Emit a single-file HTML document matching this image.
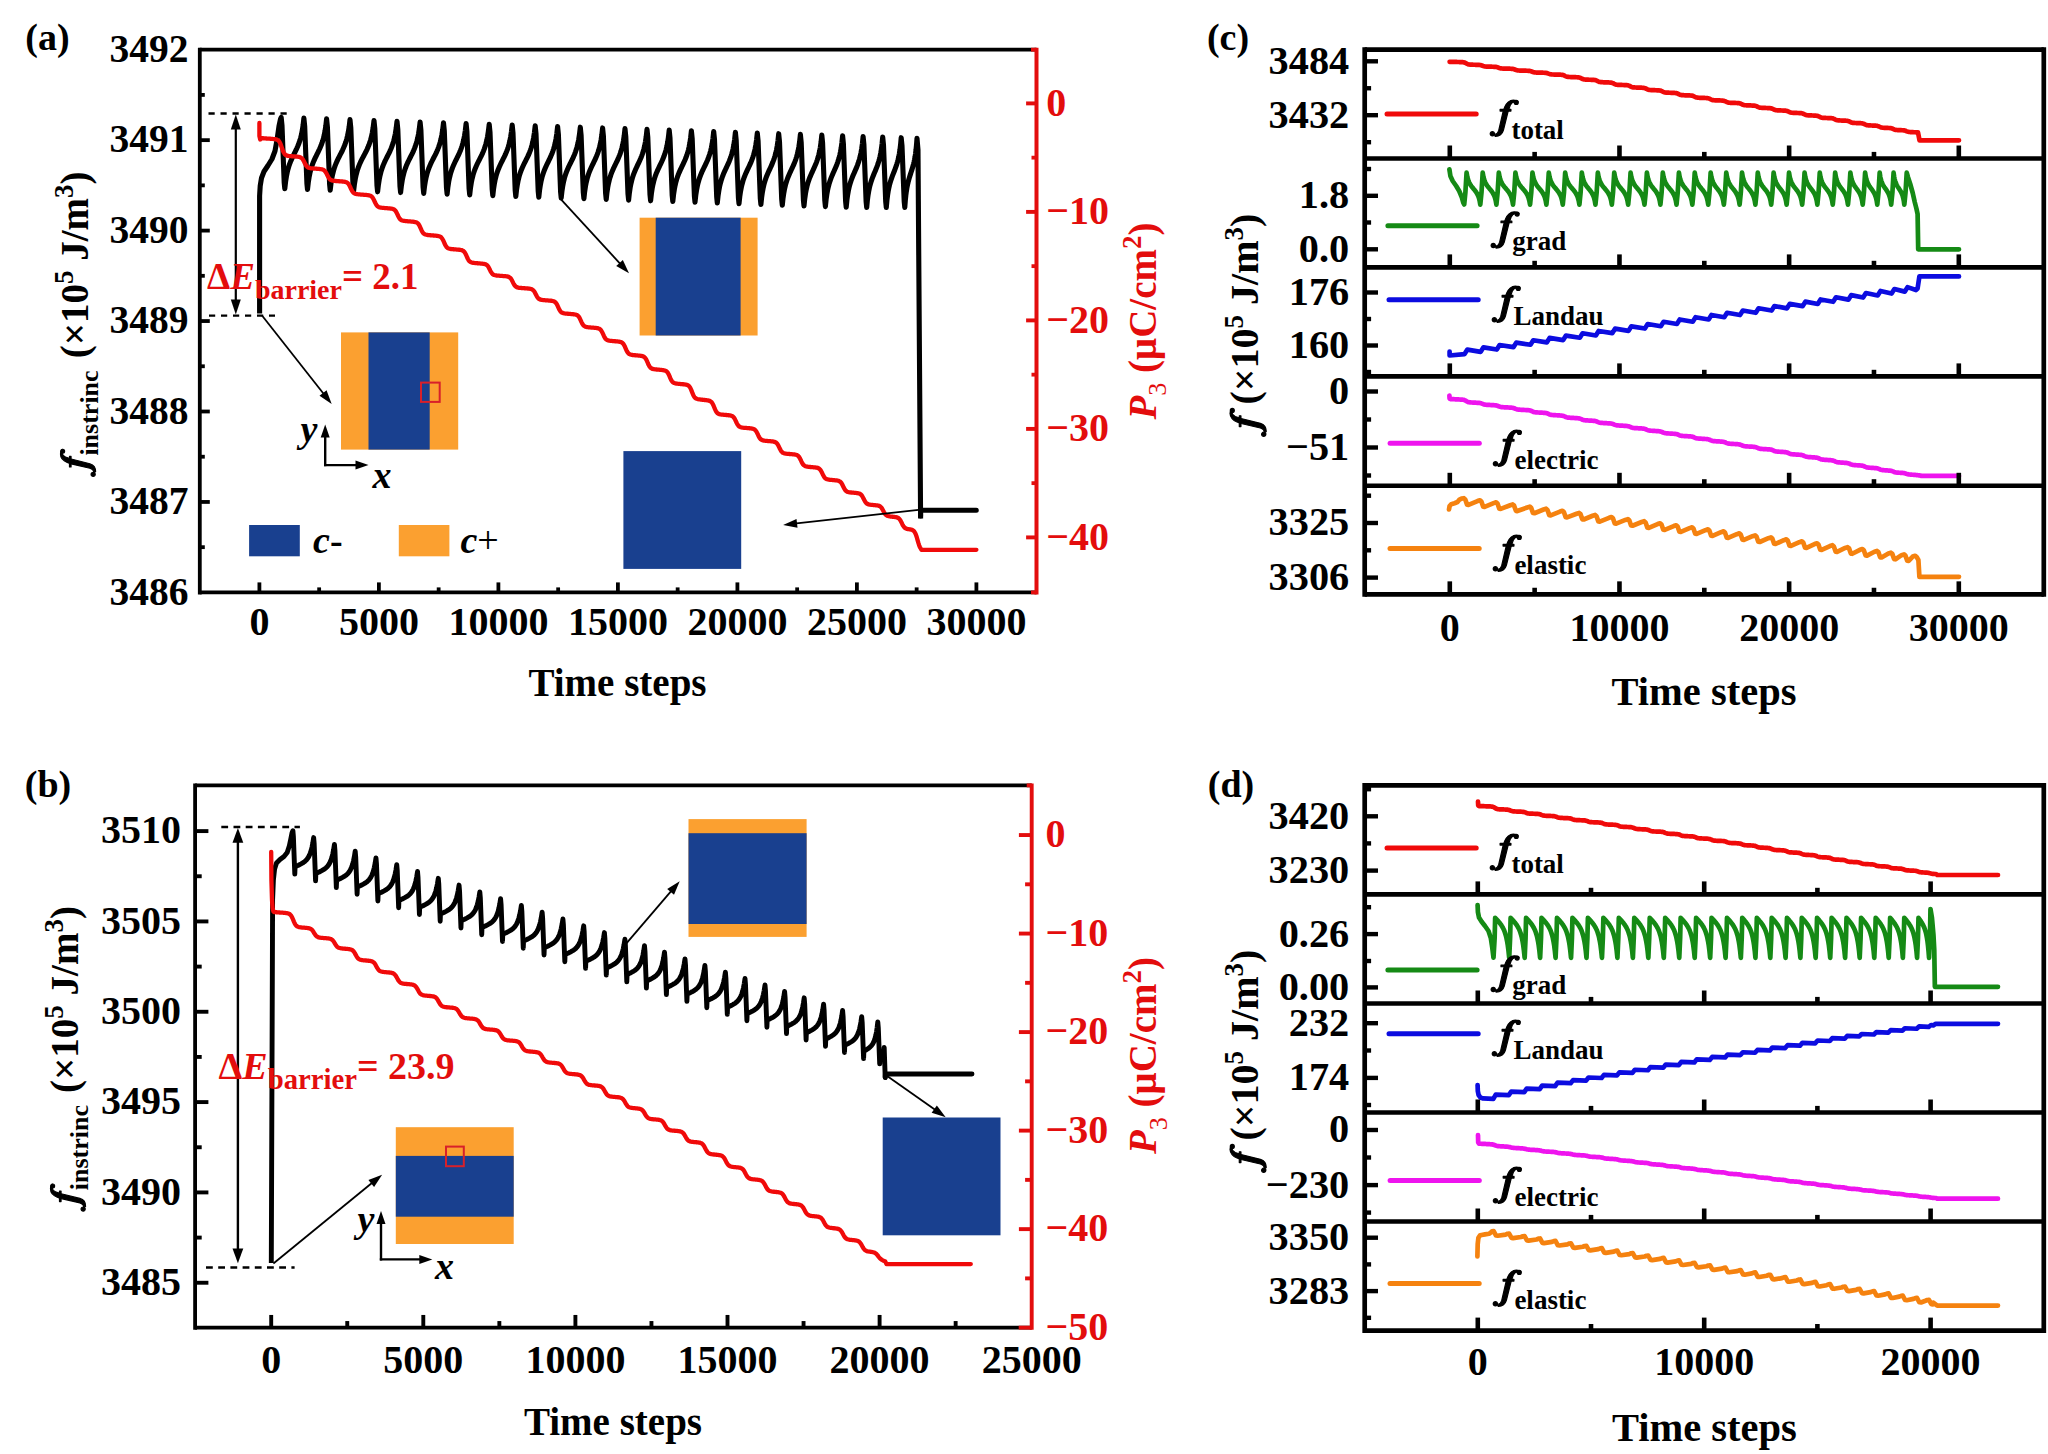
<!DOCTYPE html>
<html><head><meta charset="utf-8"><title>Figure</title>
<style>
html,body{margin:0;padding:0;background:#fff;}
body{width:2048px;height:1454px;overflow:hidden;font-family:"Liberation Serif",serif;}
svg{display:block;}
text{font-family:"Liberation Serif",serif;font-weight:bold;}
.i{font-style:italic;}
.fi{font-style:italic;font-weight:normal;stroke:#000;stroke-width:1.5px;stroke-linejoin:round;}
</style></head><body>
<svg width="2048" height="1454" viewBox="0 0 2048 1454">
<rect x="0" y="0" width="2048" height="1454" fill="#fff"/>
<defs><g id="gf" stroke-width="1.2" stroke-linejoin="round"><path d="M13.07 1.94 C12.04 5.38,9.63 7.96,4.81 7.85 L4.13 5.89 C6.19 5.89,7.57 4.69,8.43 1.94 L12.90 -17.32 L14.44 -21.44 C15.82 -25.23,19.26 -28.39,23.04 -28.39 C25.45 -28.39,26.82 -27.81,27.79 -26.60 L24.42 -26.53 C22.52 -26.67,20.98 -25.23,19.94 -23.16 L17.88 -17.32 Z"/><circle cx="2.06" cy="5.31" r="2.15"/><circle cx="25.96" cy="-26.09" r="2.0"/><rect x="9.80" y="-19.11" width="10.83" height="1.65"/></g></defs>
<path d="M259.6 313.5 L259.6 196 L260.2 186 L261.5 178 L264 171.5 L268 165.5 L272 159 L275 151 L277 140 L279 126 L280.5 119 L281.2 117.4 L282 125.4 L284.2 182.76 L284.8 188.76 L285.6 181.7 L286.39 176.53 L287.19 172.52 L287.98 169.27 L288.78 166.53 L289.57 164.17 L290.37 162.06 L291.17 160.15 L291.96 158.37 L292.76 156.68 L293.55 155.05 L294.35 153.45 L295.15 151.85 L295.94 150.22 L296.74 148.54 L297.53 146.76 L298.33 144.84 L299.12 142.74 L299.92 140.37 L300.72 137.64 L301.51 134.38 L302.31 130.37 L303.1 125.2 L303.9 118.14 L304.7 126.14 L306.9 183.51 L307.5 189.51 L308.3 182.45 L309.09 177.28 L309.89 173.27 L310.68 170.01 L311.48 167.28 L312.27 164.91 L313.07 162.81 L313.87 160.89 L314.66 159.11 L315.46 157.42 L316.25 155.8 L317.05 154.2 L317.85 152.6 L318.64 150.97 L319.44 149.28 L320.23 147.5 L321.03 145.59 L321.83 143.48 L322.62 141.11 L323.42 138.38 L324.21 135.13 L325.01 131.12 L325.8 125.95 L326.6 118.89 L327.4 126.89 L329.6 184.26 L330.2 190.26 L331.03 183.2 L331.85 178.03 L332.68 174.02 L333.5 170.77 L334.33 168.03 L335.15 165.67 L335.98 163.56 L336.8 161.65 L337.62 159.87 L338.45 158.18 L339.28 156.55 L340.1 154.95 L340.93 153.35 L341.75 151.73 L342.58 150.04 L343.4 148.26 L344.23 146.35 L345.05 144.24 L345.88 141.87 L346.7 139.14 L347.52 135.89 L348.35 131.88 L349.18 126.71 L350 119.65 L350.8 127.65 L353 185.03 L353.6 191.03 L354.45 183.97 L355.3 178.8 L356.15 174.79 L357 171.54 L357.85 168.81 L358.7 166.44 L359.55 164.34 L360.4 162.42 L361.25 160.64 L362.1 158.96 L362.95 157.33 L363.8 155.73 L364.65 154.13 L365.5 152.51 L366.35 150.82 L367.2 149.04 L368.05 147.13 L368.9 145.02 L369.75 142.65 L370.6 139.92 L371.45 136.67 L372.3 132.66 L373.15 127.5 L374 120.44 L374.8 128.44 L377 185.82 L377.6 191.82 L378.41 184.76 L379.22 179.59 L380.03 175.57 L380.83 172.32 L381.64 169.59 L382.45 167.22 L383.26 165.12 L384.07 163.2 L384.88 161.42 L385.68 159.73 L386.49 158.1 L387.3 156.5 L388.11 154.9 L388.92 153.28 L389.73 151.59 L390.53 149.81 L391.34 147.89 L392.15 145.79 L392.96 143.42 L393.77 140.69 L394.57 137.43 L395.38 133.42 L396.19 128.25 L397 121.19 L397.8 129.19 L400 186.58 L400.6 192.58 L401.41 185.51 L402.23 180.34 L403.04 176.33 L403.85 173.08 L404.66 170.35 L405.48 167.98 L406.29 165.87 L407.1 163.96 L407.91 162.18 L408.73 160.49 L409.54 158.86 L410.35 157.26 L411.16 155.66 L411.98 154.03 L412.79 152.35 L413.6 150.57 L414.41 148.65 L415.23 146.54 L416.04 144.18 L416.85 141.44 L417.66 138.19 L418.48 134.18 L419.29 129.01 L420.1 121.94 L420.9 129.94 L423.1 187.34 L423.7 193.34 L424.53 186.28 L425.35 181.11 L426.18 177.1 L427 173.84 L427.83 171.11 L428.65 168.74 L429.48 166.64 L430.3 164.72 L431.12 162.94 L431.95 161.25 L432.78 159.63 L433.6 158.02 L434.43 156.42 L435.25 154.8 L436.08 153.11 L436.9 151.33 L437.73 149.41 L438.55 147.31 L439.38 144.94 L440.2 142.21 L441.02 138.95 L441.85 134.94 L442.68 129.77 L443.5 122.71 L444.3 130.71 L446.5 188.11 L447.1 194.11 L447.89 187.05 L448.68 181.87 L449.48 177.86 L450.27 174.61 L451.06 171.87 L451.85 169.5 L452.64 167.4 L453.43 165.48 L454.23 163.7 L455.02 162.01 L455.81 160.38 L456.6 158.78 L457.39 157.18 L458.18 155.55 L458.98 153.86 L459.77 152.08 L460.56 150.16 L461.35 148.06 L462.14 145.69 L462.93 142.95 L463.73 139.7 L464.52 135.69 L465.31 130.52 L466.1 123.45 L466.9 131.45 L469.1 188.86 L469.7 194.86 L470.51 187.79 L471.33 182.62 L472.14 178.61 L472.95 175.35 L473.76 172.62 L474.58 170.25 L475.39 168.15 L476.2 166.23 L477.01 164.45 L477.83 162.76 L478.64 161.13 L479.45 159.53 L480.26 157.93 L481.07 156.3 L481.89 154.61 L482.7 152.83 L483.51 150.92 L484.32 148.81 L485.14 146.44 L485.95 143.71 L486.76 140.45 L487.57 136.44 L488.39 131.27 L489.2 124.2 L490 132.2 L492.2 189.62 L492.8 195.62 L493.61 188.55 L494.42 183.38 L495.23 179.37 L496.03 176.11 L496.84 173.38 L497.65 171.01 L498.46 168.9 L499.27 166.99 L500.08 165.21 L500.88 163.52 L501.69 161.89 L502.5 160.29 L503.31 158.69 L504.12 157.06 L504.93 155.37 L505.73 153.59 L506.54 151.67 L507.35 149.57 L508.16 147.2 L508.97 144.46 L509.78 141.21 L510.58 137.2 L511.39 132.02 L512.2 124.96 L513 132.96 L515.2 190.38 L515.8 196.38 L516.61 189.31 L517.42 184.14 L518.23 180.12 L519.03 176.87 L519.84 174.14 L520.65 171.77 L521.46 169.66 L522.27 167.74 L523.08 165.96 L523.88 164.27 L524.69 162.64 L525.5 161.04 L526.31 159.44 L527.12 157.81 L527.93 156.13 L528.73 154.34 L529.54 152.43 L530.35 150.32 L531.16 147.95 L531.97 145.22 L532.78 141.96 L533.58 137.95 L534.39 132.78 L535.2 125.71 L536 133.71 L538.2 191.14 L538.8 197.14 L539.58 190.07 L540.37 184.89 L541.15 180.88 L541.93 177.62 L542.72 174.89 L543.5 172.52 L544.28 170.41 L545.07 168.49 L545.85 166.71 L546.63 165.02 L547.42 163.39 L548.2 161.79 L548.98 160.19 L549.77 158.56 L550.55 156.87 L551.33 155.09 L552.12 153.17 L552.9 151.06 L553.68 148.69 L554.47 145.96 L555.25 142.7 L556.03 138.69 L556.82 133.51 L557.6 126.44 L558.4 134.44 L560.6 191.88 L561.2 197.88 L562 190.81 L562.79 185.63 L563.59 181.62 L564.38 178.36 L565.18 175.63 L565.98 173.26 L566.77 171.15 L567.57 169.23 L568.36 167.45 L569.16 165.76 L569.95 164.13 L570.75 162.53 L571.55 160.93 L572.34 159.3 L573.14 157.61 L573.93 155.83 L574.73 153.91 L575.52 151.8 L576.32 149.43 L577.12 146.7 L577.91 143.44 L578.71 139.43 L579.5 134.25 L580.3 127.18 L581.1 135.18 L583.3 192.62 L583.9 198.62 L584.68 191.55 L585.46 186.38 L586.24 182.36 L587.02 179.11 L587.8 176.37 L588.58 174 L589.35 171.89 L590.13 169.97 L590.91 168.19 L591.69 166.5 L592.47 164.87 L593.25 163.27 L594.03 161.67 L594.81 160.04 L595.59 158.35 L596.37 156.57 L597.15 154.65 L597.92 152.54 L598.7 150.17 L599.48 147.43 L600.26 144.18 L601.04 140.16 L601.82 134.99 L602.6 127.91 L603.4 135.91 L605.6 193.36 L606.2 199.36 L606.98 192.29 L607.77 187.11 L608.55 183.1 L609.33 179.84 L610.12 177.1 L610.9 174.73 L611.68 172.62 L612.47 170.71 L613.25 168.92 L614.03 167.24 L614.82 165.61 L615.6 164 L616.38 162.4 L617.17 160.77 L617.95 159.08 L618.73 157.3 L619.52 155.38 L620.3 153.27 L621.08 150.9 L621.87 148.17 L622.65 144.91 L623.43 140.9 L624.22 135.72 L625 128.65 L625.8 136.65 L628 194.1 L628.6 200.1 L629.37 193.02 L630.13 187.85 L630.9 183.83 L631.67 180.57 L632.43 177.84 L633.2 175.46 L633.97 173.36 L634.73 171.44 L635.5 169.65 L636.27 167.97 L637.03 166.33 L637.8 164.73 L638.57 163.13 L639.33 161.5 L640.1 159.81 L640.87 158.03 L641.63 156.11 L642.4 154 L643.17 151.63 L643.93 148.89 L644.7 145.63 L645.47 141.62 L646.23 136.44 L647 129.37 L647.8 137.37 L650 194.82 L650.6 200.82 L651.38 193.75 L652.15 188.57 L652.93 184.56 L653.7 181.3 L654.48 178.56 L655.25 176.19 L656.02 174.08 L656.8 172.16 L657.58 170.38 L658.35 168.69 L659.12 167.06 L659.9 165.46 L660.68 163.86 L661.45 162.23 L662.23 160.54 L663 158.75 L663.78 156.83 L664.55 154.73 L665.33 152.35 L666.1 149.62 L666.88 146.36 L667.65 142.34 L668.43 137.17 L669.2 130.09 L670 138.09 L672.2 195.56 L672.8 201.56 L673.58 194.48 L674.35 189.3 L675.12 185.29 L675.9 182.03 L676.68 179.29 L677.45 176.92 L678.23 174.81 L679 172.89 L679.78 171.11 L680.55 169.42 L681.33 167.79 L682.1 166.19 L682.88 164.59 L683.65 162.95 L684.42 161.26 L685.2 159.48 L685.98 157.56 L686.75 155.45 L687.52 153.08 L688.3 150.35 L689.08 147.09 L689.85 143.07 L690.62 137.89 L691.4 130.82 L692.2 138.82 L694.4 196.29 L695 202.29 L695.78 195.21 L696.56 190.03 L697.34 186.02 L698.12 182.76 L698.9 180.02 L699.67 177.65 L700.45 175.54 L701.23 173.62 L702.01 171.84 L702.79 170.15 L703.57 168.52 L704.35 166.92 L705.13 165.32 L705.91 163.69 L706.69 162 L707.47 160.21 L708.25 158.29 L709.03 156.19 L709.8 153.81 L710.58 151.08 L711.36 147.82 L712.14 143.8 L712.92 138.62 L713.7 131.55 L714.5 139.55 L716.7 197.02 L717.3 203.02 L718.05 195.95 L718.81 190.77 L719.56 186.75 L720.32 183.49 L721.07 180.75 L721.83 178.38 L722.58 176.27 L723.33 174.35 L724.09 172.57 L724.84 170.88 L725.6 169.24 L726.35 167.64 L727.1 166.04 L727.86 164.41 L728.61 162.72 L729.37 160.93 L730.12 159.01 L730.88 156.9 L731.63 154.53 L732.38 151.79 L733.14 148.53 L733.89 144.52 L734.65 139.34 L735.4 132.26 L736.2 140.26 L738.4 197.74 L739 203.74 L739.76 196.66 L740.52 191.48 L741.29 187.46 L742.05 184.21 L742.81 181.47 L743.58 179.09 L744.34 176.99 L745.1 175.07 L745.86 173.28 L746.62 171.59 L747.39 169.96 L748.15 168.36 L748.91 166.75 L749.67 165.12 L750.44 163.43 L751.2 161.65 L751.96 159.73 L752.72 157.62 L753.49 155.25 L754.25 152.51 L755.01 149.25 L755.77 145.23 L756.54 140.05 L757.3 132.98 L758.1 140.98 L760.3 198.46 L760.9 204.46 L761.64 197.38 L762.38 192.2 L763.12 188.18 L763.87 184.92 L764.61 182.18 L765.35 179.81 L766.09 177.7 L766.83 175.78 L767.58 173.99 L768.32 172.3 L769.06 170.67 L769.8 169.07 L770.54 167.46 L771.28 165.83 L772.02 164.14 L772.77 162.36 L773.51 160.44 L774.25 158.33 L774.99 155.95 L775.73 153.22 L776.48 149.96 L777.22 145.94 L777.96 140.75 L778.7 133.68 L779.5 141.68 L781.7 199.17 L782.3 205.17 L783.05 198.09 L783.81 192.91 L784.56 188.89 L785.32 185.63 L786.07 182.89 L786.83 180.52 L787.58 178.41 L788.33 176.49 L789.09 174.7 L789.84 173.01 L790.6 171.38 L791.35 169.78 L792.1 168.17 L792.86 166.54 L793.61 164.85 L794.37 163.07 L795.12 161.15 L795.88 159.04 L796.63 156.66 L797.38 153.92 L798.14 150.66 L798.89 146.65 L799.65 141.46 L800.4 134.39 L801.2 142.39 L803.4 199.88 L804 205.88 L804.74 198.8 L805.48 193.62 L806.23 189.6 L806.97 186.34 L807.71 183.6 L808.45 181.23 L809.19 179.12 L809.93 177.2 L810.67 175.41 L811.42 173.72 L812.16 172.09 L812.9 170.48 L813.64 168.88 L814.38 167.25 L815.12 165.56 L815.87 163.77 L816.61 161.85 L817.35 159.74 L818.09 157.37 L818.83 154.63 L819.57 151.37 L820.32 147.35 L821.06 142.17 L821.8 135.09 L822.6 143.09 L824.8 200.59 L825.4 206.59 L826.12 199.51 L826.83 194.32 L827.55 190.3 L828.27 187.04 L828.98 184.3 L829.7 181.92 L830.42 179.81 L831.13 177.89 L831.85 176.11 L832.57 174.41 L833.28 172.78 L834 171.18 L834.72 169.57 L835.43 167.94 L836.15 166.25 L836.87 164.46 L837.58 162.54 L838.3 160.43 L839.02 158.06 L839.73 155.32 L840.45 152.05 L841.17 148.03 L841.88 142.85 L842.6 135.77 L843.4 143.77 L845.6 201.27 L846.2 207.27 L846.9 200.19 L847.61 195 L848.31 190.98 L849.02 187.72 L849.72 184.98 L850.43 182.6 L851.13 180.49 L851.83 178.57 L852.54 176.79 L853.24 175.09 L853.95 173.46 L854.65 171.86 L855.35 170.25 L856.06 168.62 L856.76 166.93 L857.47 165.14 L858.17 163.22 L858.88 161.11 L859.58 158.73 L860.28 155.99 L860.99 152.73 L861.69 148.71 L862.4 143.52 L863.1 136.44 L863.9 144.44 L866.1 201.4 L866.7 207.4 L867.37 200.37 L868.03 195.22 L868.7 191.23 L869.37 187.99 L870.03 185.27 L870.7 182.91 L871.37 180.81 L872.03 178.91 L872.7 177.13 L873.37 175.45 L874.03 173.83 L874.7 172.24 L875.37 170.65 L876.03 169.02 L876.7 167.34 L877.37 165.57 L878.03 163.66 L878.7 161.57 L879.37 159.21 L880.03 156.49 L880.7 153.25 L881.37 149.26 L882.03 144.11 L882.7 137.08 L883.5 145.08 L885.7 201.4 L886.3 207.4 L886.92 200.43 L887.54 195.32 L888.16 191.37 L888.78 188.16 L889.4 185.46 L890.03 183.12 L890.65 181.04 L891.27 179.15 L891.89 177.39 L892.51 175.73 L893.13 174.12 L893.75 172.54 L894.37 170.96 L894.99 169.35 L895.61 167.69 L896.23 165.93 L896.85 164.04 L897.48 161.96 L898.1 159.63 L898.72 156.93 L899.34 153.72 L899.96 149.76 L900.58 144.66 L901.2 137.68 L902 145.68 L904.2 201.4 L904.8 207.4 L905.31 200.48 L905.82 195.41 L906.33 191.48 L906.83 188.3 L907.34 185.62 L907.85 183.3 L908.36 181.24 L908.87 179.36 L909.38 177.62 L909.88 175.96 L910.39 174.37 L910.9 172.8 L911.41 171.23 L911.92 169.64 L912.43 167.98 L912.93 166.24 L913.44 164.36 L913.95 162.3 L914.46 159.98 L914.97 157.3 L915.48 154.12 L915.98 150.19 L916.49 145.12 L917 138.2 L918 150 L920.6 518.5" fill="none" stroke="#000" stroke-width="5.1" stroke-linejoin="round" stroke-linecap="butt"/>
<path d="M920.6 516 L920.6 510.3 L976.3 510.3" fill="none" stroke="#000" stroke-width="5" stroke-linejoin="miter" stroke-linecap="round"/>
<path d="M259.4 123 L259.4 136 L260.2 139.5 L261.5 138.15 L262.3 138.2 L263.1 138.26 L263.9 138.32 L264.7 138.37 L265.5 138.43 L266.3 138.49 L267.1 138.54 L267.9 138.6 L268.7 138.66 L269.5 138.72 L270.3 138.77 L271.1 138.83 L271.9 138.89 L272.7 138.96 L273.5 139.03 L274.3 139.11 L275.1 139.22 L275.9 139.37 L276.7 139.58 L277.5 139.91 L278.3 140.45 L279.1 141.3 L279.9 142.59 L280.7 144.4 L281.5 146.66 L282.3 149.06 L283.1 151.23 L283.9 152.91 L284.7 154.09 L285.5 154.84 L286.3 155.32 L287.1 155.61 L287.9 155.81 L288.7 155.94 L289.5 156.04 L290.3 156.12 L291.1 156.19 L291.9 156.25 L292.7 156.32 L293.5 156.38 L294.3 156.44 L295.1 156.5 L295.9 156.56 L296.7 156.63 L297.5 156.72 L298.3 156.82 L299.1 156.96 L299.9 157.17 L300.7 157.49 L301.5 157.99 L302.3 158.76 L303.1 159.86 L303.9 161.31 L304.7 162.93 L305.5 164.5 L306.3 165.78 L307.1 166.71 L307.9 167.33 L308.7 167.73 L309.5 167.99 L310.3 168.16 L311.1 168.28 L311.9 168.37 L312.7 168.45 L313.5 168.51 L314.3 168.58 L315.1 168.64 L315.9 168.7 L316.7 168.76 L317.5 168.82 L318.3 168.88 L319.1 168.95 L319.9 169.03 L320.7 169.12 L321.5 169.25 L322.3 169.43 L323.1 169.71 L323.9 170.13 L324.7 170.8 L325.5 171.79 L326.3 173.13 L327.1 174.74 L327.9 176.38 L328.7 177.81 L329.5 178.88 L330.3 179.62 L331.1 180.1 L331.9 180.41 L332.7 180.61 L333.5 180.74 L334.3 180.85 L335.1 180.93 L335.9 181 L336.7 181.06 L337.5 181.12 L338.3 181.18 L339.1 181.24 L339.9 181.3 L340.7 181.36 L341.5 181.42 L342.3 181.49 L343.1 181.57 L343.9 181.66 L344.7 181.79 L345.5 181.96 L346.3 182.22 L347.1 182.63 L347.9 183.27 L348.7 184.24 L349.5 185.59 L350.3 187.26 L351.1 189.03 L351.9 190.64 L352.7 191.89 L353.5 192.77 L354.3 193.34 L355.1 193.71 L355.9 193.94 L356.7 194.1 L357.5 194.22 L358.3 194.31 L359.1 194.39 L359.9 194.45 L360.7 194.52 L361.5 194.58 L362.3 194.64 L363.1 194.71 L363.9 194.77 L364.7 194.83 L365.5 194.9 L366.3 194.97 L367.1 195.05 L367.9 195.14 L368.7 195.27 L369.5 195.44 L370.3 195.71 L371.1 196.12 L371.9 196.76 L372.7 197.73 L373.5 199.08 L374.3 200.75 L375.1 202.54 L375.9 204.15 L376.7 205.4 L377.5 206.28 L378.3 206.85 L379.1 207.22 L379.9 207.46 L380.7 207.62 L381.5 207.73 L382.3 207.82 L383.1 207.9 L383.9 207.97 L384.7 208.04 L385.5 208.1 L386.3 208.16 L387.1 208.22 L387.9 208.29 L388.7 208.35 L389.5 208.43 L390.3 208.51 L391.1 208.61 L391.9 208.74 L392.7 208.93 L393.5 209.22 L394.3 209.68 L395.1 210.38 L395.9 211.42 L396.7 212.84 L397.5 214.53 L398.3 216.26 L399.1 217.77 L399.9 218.9 L400.7 219.68 L401.5 220.19 L402.3 220.51 L403.1 220.72 L403.9 220.87 L404.7 220.97 L405.5 221.06 L406.3 221.13 L407.1 221.2 L407.9 221.27 L408.7 221.33 L409.5 221.39 L410.3 221.46 L411.1 221.52 L411.9 221.59 L412.7 221.67 L413.5 221.76 L414.3 221.87 L415.1 222.01 L415.9 222.23 L416.7 222.55 L417.5 223.06 L418.3 223.84 L419.1 225 L419.9 226.56 L420.7 228.38 L421.5 230.2 L422.3 231.76 L423.1 232.91 L423.9 233.7 L424.7 234.21 L425.5 234.53 L426.3 234.74 L427.1 234.89 L427.9 235 L428.7 235.09 L429.5 235.17 L430.3 235.24 L431.1 235.31 L431.9 235.38 L432.7 235.44 L433.5 235.51 L434.3 235.58 L435.1 235.65 L435.9 235.72 L436.7 235.81 L437.5 235.91 L438.3 236.05 L439.1 236.24 L439.9 236.53 L440.7 236.98 L441.5 237.69 L442.3 238.74 L443.1 240.2 L443.9 241.97 L444.7 243.81 L445.5 245.45 L446.3 246.7 L447.1 247.57 L447.9 248.14 L448.7 248.5 L449.5 248.73 L450.3 248.89 L451.1 249.01 L451.9 249.1 L452.7 249.18 L453.5 249.26 L454.3 249.33 L455.1 249.39 L455.9 249.46 L456.7 249.53 L457.5 249.6 L458.3 249.67 L459.1 249.75 L459.9 249.85 L460.7 249.98 L461.5 250.15 L462.3 250.41 L463.1 250.81 L463.9 251.44 L464.7 252.39 L465.5 253.74 L466.3 255.44 L467.1 257.28 L467.9 258.98 L468.7 260.33 L469.5 261.28 L470.3 261.91 L471.1 262.31 L471.9 262.57 L472.7 262.75 L473.5 262.87 L474.3 262.97 L475.1 263.05 L475.9 263.13 L476.7 263.2 L477.5 263.26 L478.3 263.33 L479.1 263.4 L479.9 263.46 L480.7 263.53 L481.5 263.6 L482.3 263.68 L483.1 263.77 L483.9 263.88 L484.7 264.05 L485.5 264.29 L486.3 264.67 L487.1 265.27 L487.9 266.17 L488.7 267.43 L489.5 269 L490.3 270.66 L491.1 272.16 L491.9 273.33 L492.7 274.14 L493.5 274.68 L494.3 275.02 L495.1 275.24 L495.9 275.39 L496.7 275.5 L497.5 275.58 L498.3 275.66 L499.1 275.72 L499.9 275.78 L500.7 275.84 L501.5 275.9 L502.3 275.96 L503.1 276.02 L503.9 276.08 L504.7 276.15 L505.5 276.23 L506.3 276.32 L507.1 276.44 L507.9 276.62 L508.7 276.89 L509.5 277.31 L510.3 277.97 L511.1 278.94 L511.9 280.26 L512.7 281.85 L513.5 283.46 L514.3 284.86 L515.1 285.93 L515.9 286.65 L516.7 287.12 L517.5 287.42 L518.3 287.62 L519.1 287.76 L519.9 287.86 L520.7 287.94 L521.5 288.01 L522.3 288.07 L523.1 288.13 L523.9 288.19 L524.7 288.25 L525.5 288.31 L526.3 288.37 L527.1 288.43 L527.9 288.5 L528.7 288.58 L529.5 288.68 L530.3 288.81 L531.1 289.01 L531.9 289.31 L532.7 289.77 L533.5 290.49 L534.3 291.54 L535.1 292.92 L535.9 294.52 L536.7 296.08 L537.5 297.39 L538.3 298.35 L539.1 299 L539.9 299.41 L540.7 299.68 L541.5 299.85 L542.3 299.98 L543.1 300.07 L543.9 300.15 L544.7 300.22 L545.5 300.28 L546.3 300.34 L547.1 300.4 L547.9 300.46 L548.7 300.52 L549.5 300.58 L550.3 300.66 L551.1 300.75 L551.9 300.86 L552.7 301.01 L553.5 301.23 L554.3 301.56 L555.1 302.08 L555.9 302.88 L556.7 304.04 L557.5 305.58 L558.3 307.35 L559.1 309.09 L559.9 310.54 L560.7 311.61 L561.5 312.32 L562.3 312.79 L563.1 313.09 L563.9 313.28 L564.7 313.42 L565.5 313.53 L566.3 313.61 L567.1 313.69 L567.9 313.76 L568.7 313.83 L569.5 313.9 L570.3 313.96 L571.1 314.03 L571.9 314.1 L572.7 314.18 L573.5 314.26 L574.3 314.36 L575.1 314.5 L575.9 314.69 L576.7 314.97 L577.5 315.42 L578.3 316.11 L579.1 317.14 L579.9 318.57 L580.7 320.3 L581.5 322.11 L582.3 323.71 L583.1 324.93 L583.9 325.79 L584.7 326.34 L585.5 326.7 L586.3 326.93 L587.1 327.08 L587.9 327.2 L588.7 327.29 L589.5 327.37 L590.3 327.45 L591.1 327.52 L591.9 327.58 L592.7 327.65 L593.5 327.72 L594.3 327.79 L595.1 327.87 L595.9 327.95 L596.7 328.06 L597.5 328.2 L598.3 328.4 L599.1 328.7 L599.9 329.16 L600.7 329.89 L601.5 330.96 L602.3 332.42 L603.1 334.17 L603.9 335.95 L604.7 337.5 L605.5 338.67 L606.3 339.48 L607.1 340 L607.9 340.33 L608.7 340.55 L609.5 340.7 L610.3 340.81 L611.1 340.91 L611.9 340.98 L612.7 341.06 L613.5 341.12 L614.3 341.19 L615.1 341.26 L615.9 341.33 L616.7 341.4 L617.5 341.48 L618.3 341.56 L619.1 341.67 L619.9 341.82 L620.7 342.03 L621.5 342.34 L622.3 342.83 L623.1 343.58 L623.9 344.71 L624.7 346.23 L625.5 348.05 L626.3 349.92 L627.1 351.53 L627.9 352.76 L628.7 353.6 L629.5 354.14 L630.3 354.49 L631.1 354.72 L631.9 354.88 L632.7 355 L633.5 355.09 L634.3 355.18 L635.1 355.25 L635.9 355.33 L636.7 355.4 L637.5 355.47 L638.3 355.54 L639.1 355.62 L639.9 355.71 L640.7 355.81 L641.5 355.93 L642.3 356.11 L643.1 356.36 L643.9 356.76 L644.7 357.37 L645.5 358.31 L646.3 359.64 L647.1 361.35 L647.9 363.25 L648.7 365.03 L649.5 366.47 L650.3 367.5 L651.1 368.18 L651.9 368.62 L652.7 368.91 L653.5 369.1 L654.3 369.23 L655.1 369.34 L655.9 369.43 L656.7 369.51 L657.5 369.58 L658.3 369.65 L659.1 369.72 L659.9 369.8 L660.7 369.87 L661.5 369.95 L662.3 370.04 L663.1 370.15 L663.9 370.28 L664.7 370.47 L665.5 370.76 L666.3 371.2 L667.1 371.88 L667.9 372.92 L668.7 374.36 L669.5 376.15 L670.3 378.06 L671.1 379.78 L671.9 381.12 L672.7 382.06 L673.5 382.67 L674.3 383.07 L675.1 383.32 L675.9 383.5 L676.7 383.62 L677.5 383.73 L678.3 383.81 L679.1 383.89 L679.9 383.96 L680.7 384.04 L681.5 384.11 L682.3 384.18 L683.1 384.26 L683.9 384.34 L684.7 384.43 L685.5 384.55 L686.3 384.71 L687.1 384.93 L687.9 385.28 L688.7 385.83 L689.5 386.67 L690.3 387.92 L691.1 389.62 L691.9 391.65 L692.7 393.72 L693.5 395.52 L694.3 396.88 L695.1 397.82 L695.9 398.43 L696.7 398.82 L697.5 399.08 L698.3 399.25 L699.1 399.39 L699.9 399.49 L700.7 399.59 L701.5 399.67 L702.3 399.76 L703.1 399.84 L703.9 399.92 L704.7 400 L705.5 400.09 L706.3 400.18 L707.1 400.28 L707.9 400.41 L708.7 400.58 L709.5 400.81 L710.3 401.17 L711.1 401.72 L711.9 402.57 L712.7 403.82 L713.5 405.5 L714.3 407.46 L715.1 409.42 L715.9 411.1 L716.7 412.35 L717.5 413.19 L718.3 413.73 L719.1 414.07 L719.9 414.29 L720.7 414.45 L721.5 414.56 L722.3 414.65 L723.1 414.73 L723.9 414.8 L724.7 414.87 L725.5 414.94 L726.3 415.01 L727.1 415.08 L727.9 415.15 L728.7 415.24 L729.5 415.34 L730.3 415.48 L731.1 415.67 L731.9 415.96 L732.7 416.41 L733.5 417.11 L734.3 418.15 L735.1 419.56 L735.9 421.25 L736.7 422.97 L737.5 424.47 L738.3 425.6 L739.1 426.38 L739.9 426.88 L740.7 427.21 L741.5 427.42 L742.3 427.57 L743.1 427.68 L743.9 427.77 L744.7 427.84 L745.5 427.92 L746.3 427.98 L747.1 428.05 L747.9 428.12 L748.7 428.19 L749.5 428.26 L750.3 428.34 L751.1 428.44 L751.9 428.56 L752.7 428.72 L753.5 428.97 L754.3 429.35 L755.1 429.94 L755.9 430.84 L756.7 432.11 L757.5 433.7 L758.3 435.43 L759.1 437.03 L759.9 438.3 L760.7 439.19 L761.5 439.78 L762.3 440.16 L763.1 440.41 L763.9 440.58 L764.7 440.7 L765.5 440.79 L766.3 440.88 L767.1 440.95 L767.9 441.02 L768.7 441.09 L769.5 441.15 L770.3 441.22 L771.1 441.3 L771.9 441.38 L772.7 441.48 L773.5 441.61 L774.3 441.79 L775.1 442.07 L775.9 442.49 L776.7 443.15 L777.5 444.13 L778.3 445.48 L779.1 447.13 L779.9 448.84 L780.7 450.36 L781.5 451.53 L782.3 452.34 L783.1 452.87 L783.9 453.2 L784.7 453.43 L785.5 453.58 L786.3 453.69 L787.1 453.78 L787.9 453.86 L788.7 453.93 L789.5 454 L790.3 454.07 L791.1 454.14 L791.9 454.21 L792.7 454.28 L793.5 454.36 L794.3 454.46 L795.1 454.59 L795.9 454.76 L796.7 455.02 L797.5 455.42 L798.3 456.05 L799.1 456.99 L799.9 458.3 L800.7 459.93 L801.5 461.66 L802.3 463.23 L803.1 464.45 L803.9 465.3 L804.7 465.86 L805.5 466.23 L806.3 466.46 L807.1 466.62 L807.9 466.74 L808.7 466.83 L809.5 466.92 L810.3 466.99 L811.1 467.06 L811.9 467.13 L812.7 467.2 L813.5 467.27 L814.3 467.35 L815.1 467.43 L815.9 467.54 L816.7 467.67 L817.5 467.87 L818.3 468.15 L819.1 468.6 L819.9 469.29 L820.7 470.32 L821.5 471.71 L822.3 473.38 L823.1 475.08 L823.9 476.56 L824.7 477.68 L825.5 478.45 L826.3 478.95 L827.1 479.27 L827.9 479.48 L828.7 479.63 L829.5 479.74 L830.3 479.83 L831.1 479.91 L831.9 479.98 L832.7 480.05 L833.5 480.12 L834.3 480.19 L835.1 480.27 L835.9 480.36 L836.7 480.46 L837.5 480.59 L838.3 480.78 L839.1 481.07 L839.9 481.51 L840.7 482.18 L841.5 483.19 L842.3 484.56 L843.1 486.19 L843.9 487.85 L844.7 489.3 L845.5 490.4 L846.3 491.15 L847.1 491.64 L847.9 491.96 L848.7 492.17 L849.5 492.31 L850.3 492.42 L851.1 492.51 L851.9 492.59 L852.7 492.66 L853.5 492.73 L854.3 492.81 L855.1 492.88 L855.9 492.96 L856.7 493.05 L857.5 493.16 L858.3 493.31 L859.1 493.52 L859.9 493.85 L860.7 494.36 L861.5 495.13 L862.3 496.24 L863.1 497.68 L863.9 499.31 L864.7 500.88 L865.5 502.16 L866.3 503.1 L867.1 503.73 L867.9 504.13 L868.7 504.39 L869.5 504.57 L870.3 504.7 L871.1 504.8 L871.9 504.88 L872.7 504.96 L873.5 505.03 L874.3 505.11 L875.1 505.18 L875.9 505.27 L876.7 505.36 L877.5 505.49 L878.3 505.66 L879.1 505.91 L879.9 506.3 L880.7 506.9 L881.5 507.79 L882.3 509.02 L883.1 510.51 L883.9 512.06 L884.7 513.44 L885.5 514.49 L886.3 515.23 L887.1 515.71 L887.9 516.03 L888.7 516.23 L889.5 516.38 L890.3 516.49 L891.1 516.58 L891.9 516.66 L892.7 516.74 L893.5 516.83 L894.3 516.92 L895.1 517.04 L895.9 517.17 L896.7 517.36 L897.5 517.63 L898.3 518.03 L899.1 518.65 L899.9 519.57 L900.7 520.86 L901.5 522.44 L902.3 524.13 L903.1 525.65 L903.9 526.84 L904.7 527.68 L905.5 528.24 L906.3 528.61 L907.1 528.85 L907.9 529.03 L908.7 529.17 L909.5 529.3 L910.3 529.42 L911.1 529.58 L911.9 529.78 L912.7 530.18 L913.5 530.75 L914.3 531.58 L915.1 532.81 L915.9 534.59 L916.7 536.97 L917.5 539.8 L918.3 542.68 L919.1 545.2 L919.9 547.13 L920.7 548.48 L921.5 549.8 L976.4 549.8" fill="none" stroke="#f00a0a" stroke-width="4.3" stroke-linejoin="round" stroke-linecap="round"/>
<line x1="208.5" y1="113.5" x2="287.7" y2="113.5" stroke="#000" stroke-width="2.4" stroke-linecap="butt" stroke-dasharray="6.2 5.8"/>
<line x1="209" y1="315.6" x2="275" y2="315.6" stroke="#000" stroke-width="2.4" stroke-linecap="butt" stroke-dasharray="6.2 5.8"/>
<line x1="235.8" y1="126.5" x2="235.8" y2="302.5" stroke="#000" stroke-width="2.2" stroke-linecap="butt" />
<polygon points="235.8,314.5 230.8,299.5 240.8,299.5" fill="#000"/>
<polygon points="235.8,114.5 230.8,129.5 240.8,129.5" fill="#000"/>
<text x="207" y="288.8" font-size="37" fill="#e30d0d" text-anchor="start">Δ<tspan class="i">E</tspan><tspan font-size="28" dy="10">barrier</tspan><tspan dy="-10">= 2.1</tspan></text>
<line x1="262" y1="315.5" x2="324.77" y2="395.2" stroke="#000" stroke-width="1.8" stroke-linecap="butt" />
<polygon points="331.7,404 319.5,395.79 326.57,390.22" fill="#000"/>
<line x1="560.3" y1="198.7" x2="621.41" y2="265.06" stroke="#000" stroke-width="1.8" stroke-linecap="butt" />
<polygon points="629,273.3 616.21,266.05 622.83,259.95" fill="#000"/>
<line x1="920.8" y1="509.7" x2="794.23" y2="523.67" stroke="#000" stroke-width="1.8" stroke-linecap="butt" />
<polygon points="783.1,524.9 796.52,518.89 797.51,527.84" fill="#000"/>
<rect x="341" y="332.4" width="117.2" height="117.2" fill="#fba030" />
<rect x="368.5" y="332.4" width="61.2" height="117.2" fill="#19408f" />
<rect x="421" y="382.6" width="18.7" height="19.3" fill="none" stroke="#d8202a" stroke-width="2"/>
<line x1="325.2" y1="466.2" x2="325.2" y2="434.9" stroke="#000" stroke-width="2.4" stroke-linecap="butt" />
<polygon points="325.2,424.5 329.7,437.5 320.7,437.5" fill="#000"/>
<line x1="324" y1="465.1" x2="358.1" y2="465.1" stroke="#000" stroke-width="2.4" stroke-linecap="butt" />
<polygon points="368.5,465.1 355.5,469.6 355.5,460.6" fill="#000"/>
<text x="309" y="442" font-size="38" text-anchor="middle" fill="#000" class="i">y</text>
<text x="382" y="488" font-size="38" text-anchor="middle" fill="#000" class="i">x</text>
<rect x="639.6" y="217.7" width="118" height="117.8" fill="#fba030" />
<rect x="655.7" y="217.7" width="84.9" height="117.8" fill="#19408f" />
<rect x="623.4" y="451.1" width="117.8" height="117.8" fill="#19408f" />
<rect x="249.1" y="525" width="50.7" height="31.3" fill="#19408f" />
<rect x="398.8" y="525" width="50.6" height="31.3" fill="#fba030" />
<text x="313" y="553" font-size="38" text-anchor="start"><tspan class="i">c</tspan>-</text>
<text x="460.4" y="553" font-size="38" text-anchor="start"><tspan class="i">c</tspan><tspan font-weight="normal">+</tspan></text>
<line x1="199.8" y1="47.7" x2="199.8" y2="594.4" stroke="#000" stroke-width="3.8" stroke-linecap="butt" />
<line x1="199.8" y1="49.7" x2="1036.5" y2="49.7" stroke="#000" stroke-width="3.8" stroke-linecap="butt" />
<line x1="199.8" y1="592.4" x2="1036.5" y2="592.4" stroke="#000" stroke-width="3.8" stroke-linecap="butt" />
<line x1="1036.5" y1="47.7" x2="1036.5" y2="594.4" stroke="#e30d0d" stroke-width="4" stroke-linecap="butt" />
<line x1="1036.5" y1="49.7" x2="1031" y2="49.7" stroke="#e30d0d" stroke-width="3.8" stroke-linecap="butt" />
<line x1="1036.5" y1="592.4" x2="1031" y2="592.4" stroke="#e30d0d" stroke-width="3.8" stroke-linecap="butt" />
<text x="188.5" y="62" font-size="39.5" text-anchor="end" fill="#000" >3492</text>
<line x1="199.8" y1="94.92" x2="204.8" y2="94.92" stroke="#000" stroke-width="3.8" stroke-linecap="butt" />
<line x1="199.8" y1="140.15" x2="209.8" y2="140.15" stroke="#000" stroke-width="3.8" stroke-linecap="butt" />
<text x="188.5" y="152.45" font-size="39.5" text-anchor="end" fill="#000" >3491</text>
<line x1="199.8" y1="185.37" x2="204.8" y2="185.37" stroke="#000" stroke-width="3.8" stroke-linecap="butt" />
<line x1="199.8" y1="230.6" x2="209.8" y2="230.6" stroke="#000" stroke-width="3.8" stroke-linecap="butt" />
<text x="188.5" y="242.9" font-size="39.5" text-anchor="end" fill="#000" >3490</text>
<line x1="199.8" y1="275.82" x2="204.8" y2="275.82" stroke="#000" stroke-width="3.8" stroke-linecap="butt" />
<line x1="199.8" y1="321.05" x2="209.8" y2="321.05" stroke="#000" stroke-width="3.8" stroke-linecap="butt" />
<text x="188.5" y="333.35" font-size="39.5" text-anchor="end" fill="#000" >3489</text>
<line x1="199.8" y1="366.27" x2="204.8" y2="366.27" stroke="#000" stroke-width="3.8" stroke-linecap="butt" />
<line x1="199.8" y1="411.5" x2="209.8" y2="411.5" stroke="#000" stroke-width="3.8" stroke-linecap="butt" />
<text x="188.5" y="423.8" font-size="39.5" text-anchor="end" fill="#000" >3488</text>
<line x1="199.8" y1="456.72" x2="204.8" y2="456.72" stroke="#000" stroke-width="3.8" stroke-linecap="butt" />
<line x1="199.8" y1="501.95" x2="209.8" y2="501.95" stroke="#000" stroke-width="3.8" stroke-linecap="butt" />
<text x="188.5" y="514.25" font-size="39.5" text-anchor="end" fill="#000" >3487</text>
<line x1="199.8" y1="547.17" x2="204.8" y2="547.17" stroke="#000" stroke-width="3.8" stroke-linecap="butt" />
<text x="188.5" y="604.7" font-size="39.5" text-anchor="end" fill="#000" >3486</text>
<line x1="259.4" y1="592.4" x2="259.4" y2="582.4" stroke="#000" stroke-width="3.8" stroke-linecap="butt" />
<text x="259.4" y="635" font-size="40" text-anchor="middle" fill="#000" >0</text>
<line x1="319.15" y1="592.4" x2="319.15" y2="587.4" stroke="#000" stroke-width="3.8" stroke-linecap="butt" />
<line x1="378.9" y1="592.4" x2="378.9" y2="582.4" stroke="#000" stroke-width="3.8" stroke-linecap="butt" />
<text x="378.9" y="635" font-size="40" text-anchor="middle" fill="#000" >5000</text>
<line x1="438.65" y1="592.4" x2="438.65" y2="587.4" stroke="#000" stroke-width="3.8" stroke-linecap="butt" />
<line x1="498.4" y1="592.4" x2="498.4" y2="582.4" stroke="#000" stroke-width="3.8" stroke-linecap="butt" />
<text x="498.4" y="635" font-size="40" text-anchor="middle" fill="#000" >10000</text>
<line x1="558.15" y1="592.4" x2="558.15" y2="587.4" stroke="#000" stroke-width="3.8" stroke-linecap="butt" />
<line x1="617.9" y1="592.4" x2="617.9" y2="582.4" stroke="#000" stroke-width="3.8" stroke-linecap="butt" />
<text x="617.9" y="635" font-size="40" text-anchor="middle" fill="#000" >15000</text>
<line x1="677.65" y1="592.4" x2="677.65" y2="587.4" stroke="#000" stroke-width="3.8" stroke-linecap="butt" />
<line x1="737.4" y1="592.4" x2="737.4" y2="582.4" stroke="#000" stroke-width="3.8" stroke-linecap="butt" />
<text x="737.4" y="635" font-size="40" text-anchor="middle" fill="#000" >20000</text>
<line x1="797.15" y1="592.4" x2="797.15" y2="587.4" stroke="#000" stroke-width="3.8" stroke-linecap="butt" />
<line x1="856.9" y1="592.4" x2="856.9" y2="582.4" stroke="#000" stroke-width="3.8" stroke-linecap="butt" />
<text x="856.9" y="635" font-size="40" text-anchor="middle" fill="#000" >25000</text>
<line x1="916.65" y1="592.4" x2="916.65" y2="587.4" stroke="#000" stroke-width="3.8" stroke-linecap="butt" />
<line x1="976.4" y1="592.4" x2="976.4" y2="582.4" stroke="#000" stroke-width="3.8" stroke-linecap="butt" />
<text x="976.4" y="635" font-size="40" text-anchor="middle" fill="#000" >30000</text>
<line x1="1036.5" y1="103.4" x2="1026.1" y2="103.4" stroke="#e30d0d" stroke-width="3.9" stroke-linecap="butt" />
<text x="1046.3" y="115.8" font-size="40" text-anchor="start" fill="#e30d0d" >0</text>
<line x1="1036.5" y1="157.65" x2="1031.5" y2="157.65" stroke="#e30d0d" stroke-width="3.8" stroke-linecap="butt" />
<line x1="1036.5" y1="211.9" x2="1026.1" y2="211.9" stroke="#e30d0d" stroke-width="3.9" stroke-linecap="butt" />
<text x="1046.3" y="224.3" font-size="40" text-anchor="start" fill="#e30d0d" >−10</text>
<line x1="1036.5" y1="266.15" x2="1031.5" y2="266.15" stroke="#e30d0d" stroke-width="3.8" stroke-linecap="butt" />
<line x1="1036.5" y1="320.4" x2="1026.1" y2="320.4" stroke="#e30d0d" stroke-width="3.9" stroke-linecap="butt" />
<text x="1046.3" y="332.8" font-size="40" text-anchor="start" fill="#e30d0d" >−20</text>
<line x1="1036.5" y1="374.65" x2="1031.5" y2="374.65" stroke="#e30d0d" stroke-width="3.8" stroke-linecap="butt" />
<line x1="1036.5" y1="428.9" x2="1026.1" y2="428.9" stroke="#e30d0d" stroke-width="3.9" stroke-linecap="butt" />
<text x="1046.3" y="441.3" font-size="40" text-anchor="start" fill="#e30d0d" >−30</text>
<line x1="1036.5" y1="483.15" x2="1031.5" y2="483.15" stroke="#e30d0d" stroke-width="3.8" stroke-linecap="butt" />
<line x1="1036.5" y1="537.4" x2="1026.1" y2="537.4" stroke="#e30d0d" stroke-width="3.9" stroke-linecap="butt" />
<text x="1046.3" y="549.8" font-size="40" text-anchor="start" fill="#e30d0d" >−40</text>
<text x="617.5" y="696" font-size="39" text-anchor="middle" fill="#000" >Time steps</text>
<text x="47.5" y="50" font-size="38" text-anchor="middle" fill="#000" >(a)</text>
<use href="#gf" transform="translate(88,476.4) rotate(-90) scale(0.97)" fill="#000" stroke="#000"/>
<text transform="translate(97.9,455.6) rotate(-90)" font-size="26" text-anchor="start">instrinc</text>
<text transform="translate(88,358.2) rotate(-90)" font-size="39" text-anchor="start">(×10<tspan font-size="27" dy="-15">5</tspan><tspan dy="15"> J/m</tspan><tspan font-size="27" dy="-15">3</tspan><tspan dy="15">)</tspan></text>
<text transform="translate(1155.5,321) rotate(-90)" font-size="39" text-anchor="middle" fill="#e30d0d"><tspan class="i">P</tspan><tspan font-size="26" font-weight="normal" dy="10.5">3</tspan><tspan dy="-10.5"> (μC/cm</tspan><tspan font-size="27" dy="-15">2</tspan><tspan dy="15">)</tspan></text>
<path d="M271.3 1263 L272.6 900 L273.4 880 L274.6 869 L276.5 863 L280 859.5 L284 856.5 L287.2 852.5 L289.3 846 L290.8 839 L292 833 L292.9 830.8 L293.4 836.8 L294.8 874.06 L295.1 866.06 L295.94 866.39 L296.79 866 L297.63 865.61 L298.48 865.21 L299.32 864.79 L300.16 864.36 L301.01 863.91 L301.85 863.44 L302.7 862.93 L303.54 862.37 L304.38 861.75 L305.23 861.06 L306.07 860.26 L306.92 859.32 L307.76 858.21 L308.61 856.86 L309.45 855.2 L310.29 853.13 L311.14 850.53 L311.98 847.23 L312.83 843.01 L313.67 837.59 L314.17 843.59 L315.57 880.8 L315.87 872.8 L316.71 873.14 L317.56 872.75 L318.4 872.36 L319.25 871.96 L320.09 871.54 L320.93 871.11 L321.78 870.67 L322.62 870.19 L323.47 869.68 L324.31 869.12 L325.15 868.51 L326 867.81 L326.84 867.01 L327.69 866.08 L328.53 864.97 L329.38 863.62 L330.22 861.96 L331.06 859.9 L331.91 857.3 L332.75 854.01 L333.6 849.79 L334.44 844.37 L334.94 850.37 L336.34 887.54 L336.64 879.54 L337.48 879.89 L338.33 879.5 L339.17 879.11 L340.02 878.71 L340.86 878.3 L341.7 877.87 L342.55 877.42 L343.39 876.94 L344.24 876.43 L345.08 875.88 L345.93 875.26 L346.77 874.57 L347.61 873.77 L348.46 872.84 L349.3 871.73 L350.15 870.38 L350.99 868.72 L351.83 866.66 L352.68 864.07 L353.52 860.78 L354.37 856.57 L355.21 851.16 L355.71 857.16 L357.11 894.28 L357.41 886.28 L358.25 886.64 L359.1 886.25 L359.94 885.86 L360.79 885.46 L361.63 885.05 L362.47 884.62 L363.32 884.17 L364.16 883.7 L365.01 883.19 L365.85 882.63 L366.69 882.02 L367.54 881.33 L368.38 880.53 L369.23 879.6 L370.07 878.49 L370.92 877.14 L371.76 875.49 L372.6 873.43 L373.45 870.84 L374.29 867.55 L375.14 863.35 L375.98 857.94 L376.48 863.94 L377.88 901.02 L378.18 893.02 L379.02 893.39 L379.87 893 L380.71 892.61 L381.56 892.21 L382.4 891.8 L383.24 891.37 L384.09 890.92 L384.93 890.45 L385.78 889.94 L386.62 889.39 L387.46 888.77 L388.31 888.08 L389.15 887.29 L390 886.35 L390.84 885.24 L391.69 883.9 L392.53 882.25 L393.37 880.19 L394.22 877.61 L395.06 874.33 L395.91 870.13 L396.75 864.73 L397.25 870.73 L398.65 907.76 L398.95 899.76 L399.79 900.14 L400.64 899.75 L401.48 899.36 L402.33 898.96 L403.17 898.55 L404.01 898.12 L404.86 897.68 L405.7 897.2 L406.55 896.7 L407.39 896.14 L408.24 895.53 L409.08 894.84 L409.92 894.04 L410.77 893.11 L411.61 892 L412.46 890.66 L413.3 889.01 L414.14 886.96 L414.99 884.38 L415.83 881.1 L416.68 876.91 L417.52 871.51 L418.02 877.51 L419.42 914.5 L419.72 906.5 L420.56 906.88 L421.41 906.5 L422.25 906.11 L423.1 905.71 L423.94 905.3 L424.78 904.87 L425.63 904.43 L426.47 903.96 L427.32 903.45 L428.16 902.9 L429 902.28 L429.85 901.59 L430.69 900.8 L431.54 899.87 L432.38 898.76 L433.23 897.42 L434.07 895.78 L434.91 893.73 L435.76 891.15 L436.6 887.87 L437.45 883.69 L438.29 878.3 L438.79 884.3 L440.19 921.24 L440.49 913.24 L441.33 913.63 L442.18 913.25 L443.02 912.86 L443.87 912.46 L444.71 912.05 L445.55 911.63 L446.4 911.18 L447.24 910.71 L448.09 910.2 L448.93 909.65 L449.77 909.04 L450.62 908.35 L451.46 907.56 L452.31 906.63 L453.15 905.52 L454 904.19 L454.84 902.54 L455.68 900.49 L456.53 897.92 L457.37 894.65 L458.22 890.46 L459.06 885.08 L459.56 891.08 L460.96 927.98 L461.26 919.98 L462.1 920.38 L462.95 920 L463.79 919.61 L464.64 919.21 L465.48 918.8 L466.32 918.38 L467.17 917.93 L468.01 917.46 L468.86 916.96 L469.7 916.41 L470.54 915.8 L471.39 915.11 L472.23 914.31 L473.08 913.39 L473.92 912.28 L474.77 910.95 L475.61 909.3 L476.45 907.26 L477.3 904.69 L478.14 901.42 L478.99 897.24 L479.83 891.87 L480.33 897.87 L481.73 934.72 L482.03 926.72 L482.87 927.13 L483.72 926.75 L484.56 926.36 L485.41 925.96 L486.25 925.56 L487.09 925.13 L487.94 924.69 L488.78 924.22 L489.63 923.71 L490.47 923.16 L491.31 922.55 L492.16 921.86 L493 921.07 L493.85 920.15 L494.69 919.04 L495.54 917.71 L496.38 916.07 L497.22 914.03 L498.07 911.46 L498.91 908.19 L499.76 904.02 L500.6 898.66 L501.1 904.66 L502.5 941.46 L502.8 933.46 L503.64 933.88 L504.49 933.5 L505.33 933.11 L506.18 932.72 L507.02 932.31 L507.86 931.88 L508.71 931.44 L509.55 930.97 L510.4 930.46 L511.24 929.91 L512.09 929.31 L512.93 928.62 L513.77 927.83 L514.62 926.9 L515.46 925.8 L516.31 924.47 L517.15 922.83 L517.99 920.79 L518.84 918.23 L519.68 914.97 L520.53 910.8 L521.37 905.44 L521.87 911.44 L523.27 948.2 L523.57 940.2 L524.41 940.63 L525.26 940.25 L526.1 939.86 L526.95 939.47 L527.79 939.06 L528.63 938.63 L529.48 938.19 L530.32 937.72 L531.17 937.22 L532.01 936.67 L532.85 936.06 L533.7 935.37 L534.54 934.59 L535.39 933.66 L536.23 932.56 L537.08 931.23 L537.92 929.59 L538.76 927.56 L539.61 924.99 L540.45 921.74 L541.3 917.58 L542.14 912.23 L542.64 918.23 L544.04 954.94 L544.34 946.94 L545.18 947.38 L546.03 947 L546.87 946.61 L547.72 946.22 L548.56 945.81 L549.4 945.39 L550.25 944.94 L551.09 944.48 L551.94 943.97 L552.78 943.42 L553.62 942.82 L554.47 942.13 L555.31 941.34 L556.16 940.42 L557 939.32 L557.85 937.99 L558.69 936.36 L559.53 934.32 L560.38 931.76 L561.22 928.51 L562.07 924.36 L562.91 919.01 L563.41 925.01 L564.81 961.68 L565.11 953.68 L565.95 954.13 L566.8 953.75 L567.64 953.36 L568.49 952.97 L569.33 952.56 L570.17 952.14 L571.02 951.7 L571.86 951.23 L572.71 950.73 L573.55 950.18 L574.39 949.57 L575.24 948.89 L576.08 948.1 L576.93 947.18 L577.77 946.08 L578.62 944.75 L579.46 943.12 L580.3 941.09 L581.15 938.53 L581.99 935.29 L582.84 931.14 L583.68 925.8 L584.18 931.8 L585.58 968.42 L585.88 960.42 L586.72 960.88 L587.56 960.5 L588.41 960.11 L589.25 959.72 L590.09 959.31 L590.93 958.89 L591.77 958.44 L592.61 957.98 L593.46 957.47 L594.3 956.93 L595.14 956.32 L595.98 955.64 L596.82 954.85 L597.67 953.93 L598.51 952.84 L599.35 951.51 L600.19 949.88 L601.03 947.85 L601.87 945.29 L602.72 942.05 L603.56 937.9 L604.4 932.57 L604.9 938.57 L606.3 975.15 L606.6 967.15 L607.43 967.6 L608.26 967.22 L609.1 966.83 L609.93 966.43 L610.76 966.03 L611.59 965.6 L612.42 965.16 L613.25 964.69 L614.09 964.19 L614.92 963.64 L615.75 963.04 L616.58 962.35 L617.41 961.57 L618.25 960.64 L619.08 959.55 L619.91 958.22 L620.74 956.59 L621.57 954.55 L622.4 952 L623.24 948.75 L624.07 944.6 L624.9 939.26 L625.4 945.26 L626.8 981.8 L627.1 973.8 L627.89 974.2 L628.68 973.81 L629.47 973.42 L630.26 973.02 L631.05 972.61 L631.85 972.19 L632.64 971.74 L633.43 971.27 L634.22 970.77 L635.01 970.22 L635.8 969.6 L636.59 968.92 L637.38 968.12 L638.17 967.2 L638.96 966.09 L639.75 964.75 L640.55 963.11 L641.34 961.06 L642.13 958.49 L642.92 955.22 L643.71 951.04 L644.5 945.67 L645 951.67 L646.4 988.16 L646.7 980.16 L647.51 980.59 L648.32 980.21 L649.13 979.82 L649.94 979.43 L650.75 979.02 L651.55 978.6 L652.36 978.15 L653.17 977.68 L653.98 977.18 L654.79 976.63 L655.6 976.02 L656.41 975.34 L657.22 974.55 L658.03 973.63 L658.84 972.53 L659.65 971.2 L660.45 969.56 L661.26 967.52 L662.07 964.96 L662.88 961.71 L663.69 957.55 L664.5 952.2 L665 958.2 L666.4 994.65 L666.7 986.65 L667.53 987.13 L668.36 986.75 L669.2 986.36 L670.03 985.97 L670.86 985.56 L671.69 985.14 L672.52 984.7 L673.35 984.23 L674.19 983.73 L675.02 983.19 L675.85 982.58 L676.68 981.9 L677.51 981.12 L678.35 980.2 L679.18 979.11 L680.01 977.78 L680.84 976.16 L681.67 974.13 L682.5 971.59 L683.34 968.35 L684.17 964.22 L685 958.9 L685.5 964.9 L686.9 1001.3 L687.2 993.3 L688 993.75 L688.81 993.37 L689.61 992.98 L690.42 992.58 L691.22 992.18 L692.03 991.75 L692.83 991.31 L693.64 990.84 L694.44 990.34 L695.25 989.79 L696.05 989.18 L696.85 988.5 L697.66 987.71 L698.46 986.79 L699.27 985.69 L700.07 984.36 L700.88 982.73 L701.68 980.7 L702.49 978.14 L703.29 974.89 L704.1 970.74 L704.9 965.4 L705.4 971.4 L706.8 1007.76 L707.1 999.76 L707.93 1000.25 L708.76 999.88 L709.6 999.49 L710.43 999.1 L711.26 998.69 L712.09 998.27 L712.92 997.84 L713.75 997.37 L714.59 996.87 L715.42 996.33 L716.25 995.72 L717.08 995.04 L717.91 994.26 L718.75 993.35 L719.58 992.26 L720.41 990.94 L721.24 989.31 L722.07 987.29 L722.9 984.75 L723.74 981.53 L724.57 977.4 L725.4 972.1 L725.9 978.1 L727.3 1014.41 L727.6 1006.41 L728.39 1006.85 L729.18 1006.47 L729.97 1006.09 L730.76 1005.69 L731.55 1005.28 L732.35 1004.86 L733.14 1004.42 L733.93 1003.95 L734.72 1003.45 L735.51 1002.9 L736.3 1002.29 L737.09 1001.61 L737.88 1000.82 L738.67 999.9 L739.46 998.8 L740.25 997.47 L741.05 995.84 L741.84 993.8 L742.63 991.25 L743.42 988 L744.21 983.84 L745 978.5 L745.5 984.5 L746.9 1020.77 L747.2 1012.77 L748.01 1013.25 L748.82 1012.87 L749.63 1012.49 L750.44 1012.09 L751.25 1011.69 L752.05 1011.27 L752.86 1010.83 L753.67 1010.36 L754.48 1009.86 L755.29 1009.31 L756.1 1008.71 L756.91 1008.03 L757.72 1007.24 L758.53 1006.33 L759.34 1005.24 L760.15 1003.91 L760.95 1002.29 L761.76 1000.26 L762.57 997.72 L763.38 994.49 L764.19 990.35 L765 985.04 L765.5 991.04 L766.9 1027.26 L767.2 1019.26 L767.99 1019.72 L768.78 1019.34 L769.57 1018.96 L770.36 1018.56 L771.15 1018.16 L771.95 1017.73 L772.74 1017.29 L773.53 1016.82 L774.32 1016.32 L775.11 1015.78 L775.9 1015.17 L776.69 1014.49 L777.48 1013.7 L778.27 1012.78 L779.06 1011.69 L779.85 1010.36 L780.65 1008.73 L781.44 1006.7 L782.23 1004.15 L783.02 1000.91 L783.81 996.77 L784.6 991.44 L785.1 997.44 L786.5 1033.62 L786.8 1025.62 L787.59 1026.09 L788.38 1025.71 L789.17 1025.33 L789.96 1024.93 L790.75 1024.53 L791.55 1024.11 L792.34 1023.66 L793.13 1023.2 L793.92 1022.7 L794.71 1022.15 L795.5 1021.55 L796.29 1020.86 L797.08 1020.08 L797.87 1019.16 L798.66 1018.07 L799.45 1016.74 L800.25 1015.11 L801.04 1013.09 L801.83 1010.54 L802.62 1007.3 L803.41 1003.17 L804.2 997.84 L804.7 1003.84 L806.1 1039.98 L806.4 1031.98 L807.18 1032.45 L807.96 1032.07 L808.75 1031.68 L809.53 1031.29 L810.31 1030.88 L811.09 1030.46 L811.87 1030.02 L812.65 1029.55 L813.44 1029.05 L814.22 1028.5 L815 1027.9 L815.78 1027.22 L816.56 1026.43 L817.35 1025.51 L818.13 1024.42 L818.91 1023.09 L819.69 1021.46 L820.47 1019.44 L821.25 1016.89 L822.04 1013.65 L822.82 1009.51 L823.6 1004.18 L824.1 1010.18 L825.5 1046.28 L825.8 1038.28 L826.56 1038.72 L827.33 1038.34 L828.09 1037.96 L828.85 1037.56 L829.62 1037.15 L830.38 1036.73 L831.15 1036.29 L831.91 1035.82 L832.67 1035.32 L833.44 1034.77 L834.2 1034.16 L834.96 1033.48 L835.73 1032.69 L836.49 1031.77 L837.25 1030.67 L838.02 1029.35 L838.78 1027.71 L839.55 1025.68 L840.31 1023.12 L841.07 1019.88 L841.84 1015.73 L842.6 1010.39 L843.1 1016.39 L844.5 1052.44 L844.8 1044.44 L845.57 1044.91 L846.34 1044.53 L847.1 1044.14 L847.87 1043.74 L848.64 1043.34 L849.41 1042.92 L850.18 1042.48 L850.95 1042.01 L851.71 1041.51 L852.48 1040.96 L853.25 1040.35 L854.02 1039.67 L854.79 1038.89 L855.55 1037.97 L856.32 1036.87 L857.09 1035.55 L857.86 1033.92 L858.63 1031.89 L859.4 1029.34 L860.16 1026.1 L860.93 1021.96 L861.7 1016.63 L862.2 1022.63 L863.6 1058.64 L863.9 1050.64 L864.53 1050.91 L865.16 1050.52 L865.8 1050.12 L866.43 1049.71 L867.06 1049.3 L867.69 1048.87 L868.32 1048.41 L868.95 1047.93 L869.59 1047.42 L870.22 1046.86 L870.85 1046.24 L871.48 1045.53 L872.11 1044.73 L872.75 1043.79 L873.38 1042.66 L874.01 1041.3 L874.64 1039.63 L875.27 1037.55 L875.9 1034.93 L876.54 1031.61 L877.17 1027.36 L877.8 1021.89 L878.3 1027.89 L879.7 1063.86 L880 1055.86 L880.19 1060.42 L880.38 1060.25 L880.57 1060.07 L880.76 1059.89 L880.95 1059.71 L881.15 1059.51 L881.34 1059.31 L881.53 1059.1 L881.72 1058.87 L881.91 1058.62 L882.1 1058.34 L882.29 1058.03 L882.48 1057.67 L882.67 1057.25 L882.86 1056.75 L883.05 1056.14 L883.25 1055.4 L883.44 1054.47 L883.63 1053.31 L883.82 1051.83 L884.01 1049.93 L884.2 1047.5 L885.2 1077.5 L885.4 1074" fill="none" stroke="#000" stroke-width="4.9" stroke-linejoin="round" stroke-linecap="butt"/>
<path d="M885.2 1077.5 L885.4 1074 L972 1074" fill="none" stroke="#000" stroke-width="4.9" stroke-linejoin="miter" stroke-linecap="round"/>
<path d="M271.2 851.8 L271.4 880 L272 900 L272.6 908 L273.4 911.5 L274 912.11 L274.8 912.16 L275.6 912.22 L276.4 912.27 L277.2 912.33 L278 912.39 L278.8 912.44 L279.6 912.5 L280.4 912.56 L281.2 912.61 L282 912.67 L282.8 912.73 L283.6 912.79 L284.4 912.86 L285.2 912.93 L286 913.02 L286.8 913.13 L287.6 913.29 L288.4 913.51 L289.2 913.86 L290 914.4 L290.8 915.22 L291.6 916.43 L292.4 918.04 L293.2 919.95 L294 921.89 L294.8 923.6 L295.6 924.91 L296.4 925.82 L297.2 926.42 L298 926.81 L298.8 927.06 L299.6 927.23 L300.4 927.35 L301.2 927.44 L302 927.52 L302.8 927.59 L303.6 927.65 L304.4 927.71 L305.2 927.78 L306 927.85 L306.8 927.93 L307.6 928.02 L308.4 928.14 L309.2 928.32 L310 928.57 L310.8 928.95 L311.6 929.53 L312.4 930.36 L313.2 931.46 L314 932.76 L314.8 934.07 L315.6 935.22 L316.4 936.1 L317.2 936.71 L318 937.13 L318.8 937.4 L319.6 937.58 L320.4 937.71 L321.2 937.81 L322 937.89 L322.8 937.96 L323.6 938.02 L324.4 938.09 L325.2 938.15 L326 938.21 L326.8 938.28 L327.6 938.36 L328.4 938.46 L329.2 938.58 L330 938.76 L330.8 939.02 L331.6 939.42 L332.4 940.01 L333.2 940.87 L334 942.01 L334.8 943.33 L335.6 944.67 L336.4 945.83 L337.2 946.71 L338 947.33 L338.8 947.75 L339.6 948.02 L340.4 948.2 L341.2 948.33 L342 948.43 L342.8 948.52 L343.6 948.6 L344.4 948.67 L345.2 948.74 L346 948.81 L346.8 948.88 L347.6 948.96 L348.4 949.05 L349.2 949.16 L350 949.3 L350.8 949.5 L351.6 949.79 L352.4 950.24 L353.2 950.91 L354 951.87 L354.8 953.14 L355.6 954.61 L356.4 956.08 L357.2 957.36 L358 958.33 L358.8 959 L359.6 959.45 L360.4 959.75 L361.2 959.95 L362 960.09 L362.8 960.2 L363.6 960.29 L364.4 960.37 L365.2 960.44 L366 960.51 L366.8 960.59 L367.6 960.66 L368.4 960.74 L369.2 960.83 L370 960.94 L370.8 961.08 L371.6 961.28 L372.4 961.58 L373.2 962.03 L374 962.71 L374.8 963.69 L375.6 964.96 L376.4 966.44 L377.2 967.91 L378 969.17 L378.8 970.13 L379.6 970.8 L380.4 971.24 L381.2 971.53 L382 971.73 L382.8 971.87 L383.6 971.98 L384.4 972.07 L385.2 972.15 L386 972.22 L386.8 972.29 L387.6 972.36 L388.4 972.43 L389.2 972.51 L390 972.6 L390.8 972.71 L391.6 972.86 L392.4 973.06 L393.2 973.37 L394 973.83 L394.8 974.52 L395.6 975.5 L396.4 976.79 L397.2 978.27 L398 979.73 L398.8 980.98 L399.6 981.93 L400.4 982.59 L401.2 983.03 L402 983.31 L402.8 983.51 L403.6 983.65 L404.4 983.76 L405.2 983.84 L406 983.92 L406.8 984 L407.6 984.07 L408.4 984.14 L409.2 984.21 L410 984.29 L410.8 984.38 L411.6 984.49 L412.4 984.64 L413.2 984.85 L414 985.15 L414.8 985.62 L415.6 986.32 L416.4 987.32 L417.2 988.62 L418 990.1 L418.8 991.56 L419.6 992.8 L420.4 993.73 L421.2 994.38 L422 994.81 L422.8 995.1 L423.6 995.29 L424.4 995.43 L425.2 995.53 L426 995.62 L426.8 995.7 L427.6 995.77 L428.4 995.84 L429.2 995.91 L430 995.99 L430.8 996.07 L431.6 996.16 L432.4 996.27 L433.2 996.42 L434 996.62 L434.8 996.93 L435.6 997.4 L436.4 998.1 L437.2 999.1 L438 1000.39 L438.8 1001.85 L439.6 1003.29 L440.4 1004.5 L441.2 1005.42 L442 1006.05 L442.8 1006.47 L443.6 1006.74 L444.4 1006.93 L445.2 1007.06 L446 1007.16 L446.8 1007.24 L447.6 1007.32 L448.4 1007.39 L449.2 1007.45 L450 1007.52 L450.8 1007.59 L451.6 1007.67 L452.4 1007.75 L453.2 1007.86 L454 1008 L454.8 1008.2 L455.6 1008.5 L456.4 1008.95 L457.2 1009.63 L458 1010.59 L458.8 1011.83 L459.6 1013.22 L460.4 1014.59 L461.2 1015.73 L462 1016.59 L462.8 1017.18 L463.6 1017.57 L464.4 1017.83 L465.2 1018.01 L466 1018.13 L466.8 1018.23 L467.6 1018.31 L468.4 1018.39 L469.2 1018.45 L470 1018.52 L470.8 1018.59 L471.6 1018.66 L472.4 1018.73 L473.2 1018.82 L474 1018.93 L474.8 1019.07 L475.6 1019.27 L476.4 1019.58 L477.2 1020.04 L478 1020.72 L478.8 1021.69 L479.6 1022.94 L480.4 1024.34 L481.2 1025.7 L482 1026.83 L482.8 1027.68 L483.6 1028.26 L484.4 1028.65 L485.2 1028.9 L486 1029.08 L486.8 1029.2 L487.6 1029.3 L488.4 1029.38 L489.2 1029.45 L490 1029.52 L490.8 1029.59 L491.6 1029.65 L492.4 1029.72 L493.2 1029.8 L494 1029.89 L494.8 1030 L495.6 1030.14 L496.4 1030.35 L497.2 1030.65 L498 1031.12 L498.8 1031.82 L499.6 1032.8 L500.4 1034.05 L501.2 1035.46 L502 1036.81 L502.8 1037.93 L503.6 1038.77 L504.4 1039.34 L505.2 1039.72 L506 1039.97 L506.8 1040.14 L507.6 1040.27 L508.4 1040.37 L509.2 1040.45 L510 1040.52 L510.8 1040.59 L511.6 1040.65 L512.4 1040.72 L513.2 1040.79 L514 1040.87 L514.8 1040.95 L515.6 1041.06 L516.4 1041.21 L517.2 1041.42 L518 1041.73 L518.8 1042.21 L519.6 1042.91 L520.4 1043.91 L521.2 1045.17 L522 1046.57 L522.8 1047.92 L523.6 1049.03 L524.4 1049.86 L525.2 1050.42 L526 1050.8 L526.8 1051.04 L527.6 1051.21 L528.4 1051.34 L529.2 1051.43 L530 1051.51 L530.8 1051.58 L531.6 1051.65 L532.4 1051.72 L533.2 1051.79 L534 1051.86 L534.8 1051.93 L535.6 1052.02 L536.4 1052.13 L537.2 1052.28 L538 1052.49 L538.8 1052.81 L539.6 1053.3 L540.4 1054.02 L541.2 1055.03 L542 1056.31 L542.8 1057.73 L543.6 1059.07 L544.4 1060.19 L545.2 1061.01 L546 1061.57 L546.8 1061.94 L547.6 1062.18 L548.4 1062.35 L549.2 1062.47 L550 1062.57 L550.8 1062.65 L551.6 1062.73 L552.4 1062.79 L553.2 1062.86 L554 1062.93 L554.8 1063 L555.6 1063.08 L556.4 1063.17 L557.2 1063.29 L558 1063.44 L558.8 1063.66 L559.6 1063.99 L560.4 1064.49 L561.2 1065.24 L562 1066.27 L562.8 1067.58 L563.6 1069.02 L564.4 1070.39 L565.2 1071.51 L566 1072.33 L566.8 1072.89 L567.6 1073.26 L568.4 1073.51 L569.2 1073.68 L570 1073.8 L570.8 1073.89 L571.6 1073.98 L572.4 1074.05 L573.2 1074.12 L574 1074.19 L574.8 1074.26 L575.6 1074.33 L576.4 1074.41 L577.2 1074.5 L578 1074.61 L578.8 1074.77 L579.6 1074.99 L580.4 1075.33 L581.2 1075.84 L582 1076.59 L582.8 1077.64 L583.6 1078.95 L584.4 1080.39 L585.2 1081.75 L586 1082.86 L586.8 1083.67 L587.6 1084.22 L588.4 1084.58 L589.2 1084.82 L590 1084.99 L590.8 1085.11 L591.6 1085.21 L592.4 1085.29 L593.2 1085.36 L594 1085.43 L594.8 1085.5 L595.6 1085.57 L596.4 1085.64 L597.2 1085.72 L598 1085.82 L598.8 1085.94 L599.6 1086.1 L600.4 1086.33 L601.2 1086.69 L602 1087.23 L602.8 1088.03 L603.6 1089.12 L604.4 1090.48 L605.2 1091.95 L606 1093.31 L606.8 1094.41 L607.6 1095.2 L608.4 1095.74 L609.2 1096.1 L610 1096.34 L610.8 1096.5 L611.6 1096.62 L612.4 1096.72 L613.2 1096.8 L614 1096.88 L614.8 1096.95 L615.6 1097.02 L616.4 1097.09 L617.2 1097.17 L618 1097.25 L618.8 1097.36 L619.6 1097.49 L620.4 1097.68 L621.2 1097.95 L622 1098.36 L622.8 1098.97 L623.6 1099.86 L624.4 1101.05 L625.2 1102.45 L626 1103.87 L626.8 1105.12 L627.6 1106.09 L628.4 1106.77 L629.2 1107.22 L630 1107.52 L630.8 1107.73 L631.6 1107.87 L632.4 1107.98 L633.2 1108.07 L634 1108.15 L634.8 1108.23 L635.6 1108.3 L636.4 1108.37 L637.2 1108.46 L638 1108.55 L638.8 1108.66 L639.6 1108.82 L640.4 1109.04 L641.2 1109.37 L642 1109.87 L642.8 1110.61 L643.6 1111.64 L644.4 1112.93 L645.2 1114.35 L646 1115.69 L646.8 1116.8 L647.6 1117.6 L648.4 1118.16 L649.2 1118.52 L650 1118.77 L650.8 1118.93 L651.6 1119.06 L652.4 1119.15 L653.2 1119.24 L654 1119.31 L654.8 1119.39 L655.6 1119.46 L656.4 1119.53 L657.2 1119.62 L658 1119.71 L658.8 1119.83 L659.6 1119.98 L660.4 1120.21 L661.2 1120.54 L662 1121.05 L662.8 1121.81 L663.6 1122.86 L664.4 1124.18 L665.2 1125.63 L666 1127 L666.8 1128.13 L667.6 1128.95 L668.4 1129.52 L669.2 1129.89 L670 1130.14 L670.8 1130.31 L671.6 1130.43 L672.4 1130.53 L673.2 1130.61 L674 1130.69 L674.8 1130.76 L675.6 1130.83 L676.4 1130.9 L677.2 1130.98 L678 1131.06 L678.8 1131.17 L679.6 1131.29 L680.4 1131.47 L681.2 1131.73 L682 1132.12 L682.8 1132.71 L683.6 1133.57 L684.4 1134.73 L685.2 1136.12 L686 1137.57 L686.8 1138.86 L687.6 1139.87 L688.4 1140.58 L689.2 1141.07 L690 1141.39 L690.8 1141.6 L691.6 1141.75 L692.4 1141.86 L693.2 1141.95 L694 1142.03 L694.8 1142.11 L695.6 1142.18 L696.4 1142.26 L697.2 1142.34 L698 1142.43 L698.8 1142.55 L699.6 1142.69 L700.4 1142.9 L701.2 1143.2 L702 1143.65 L702.8 1144.34 L703.6 1145.33 L704.4 1146.64 L705.2 1148.19 L706 1149.77 L706.8 1151.15 L707.6 1152.23 L708.4 1152.98 L709.2 1153.48 L710 1153.82 L710.8 1154.04 L711.6 1154.2 L712.4 1154.32 L713.2 1154.42 L714 1154.51 L714.8 1154.59 L715.6 1154.67 L716.4 1154.75 L717.2 1154.83 L718 1154.92 L718.8 1155.02 L719.6 1155.14 L720.4 1155.31 L721.2 1155.55 L722 1155.9 L722.8 1156.43 L723.6 1157.22 L724.4 1158.34 L725.2 1159.76 L726 1161.35 L726.8 1162.88 L727.6 1164.16 L728.4 1165.11 L729.2 1165.76 L730 1166.19 L730.8 1166.48 L731.6 1166.67 L732.4 1166.82 L733.2 1166.93 L734 1167.02 L734.8 1167.11 L735.6 1167.19 L736.4 1167.27 L737.2 1167.36 L738 1167.45 L738.8 1167.56 L739.6 1167.71 L740.4 1167.9 L741.2 1168.18 L742 1168.61 L742.8 1169.25 L743.6 1170.19 L744.4 1171.45 L745.2 1172.96 L746 1174.53 L746.8 1175.94 L747.6 1177.04 L748.4 1177.82 L749.2 1178.34 L750 1178.69 L750.8 1178.92 L751.6 1179.09 L752.4 1179.21 L753.2 1179.31 L754 1179.4 L754.8 1179.48 L755.6 1179.56 L756.4 1179.64 L757.2 1179.73 L758 1179.82 L758.8 1179.93 L759.6 1180.08 L760.4 1180.27 L761.2 1180.55 L762 1180.98 L762.8 1181.62 L763.6 1182.56 L764.4 1183.81 L765.2 1185.32 L766 1186.89 L766.8 1188.29 L767.6 1189.39 L768.4 1190.17 L769.2 1190.69 L770 1191.04 L770.8 1191.27 L771.6 1191.44 L772.4 1191.56 L773.2 1191.66 L774 1191.75 L774.8 1191.84 L775.6 1191.92 L776.4 1192 L777.2 1192.09 L778 1192.19 L778.8 1192.31 L779.6 1192.48 L780.4 1192.71 L781.2 1193.05 L782 1193.57 L782.8 1194.34 L783.6 1195.43 L784.4 1196.82 L785.2 1198.37 L786 1199.87 L786.8 1201.11 L787.6 1202.04 L788.4 1202.68 L789.2 1203.1 L790 1203.38 L790.8 1203.57 L791.6 1203.71 L792.4 1203.82 L793.2 1203.92 L794 1204 L794.8 1204.08 L795.6 1204.17 L796.4 1204.25 L797.2 1204.34 L798 1204.46 L798.8 1204.6 L799.6 1204.79 L800.4 1205.07 L801.2 1205.49 L802 1206.12 L802.8 1207.04 L803.6 1208.28 L804.4 1209.77 L805.2 1211.32 L806 1212.7 L806.8 1213.78 L807.6 1214.55 L808.4 1215.07 L809.2 1215.41 L810 1215.64 L810.8 1215.8 L811.6 1215.93 L812.4 1216.03 L813.2 1216.12 L814 1216.2 L814.8 1216.28 L815.6 1216.37 L816.4 1216.46 L817.2 1216.56 L818 1216.69 L818.8 1216.87 L819.6 1217.12 L820.4 1217.49 L821.2 1218.06 L822 1218.89 L822.8 1220.04 L823.6 1221.45 L824.4 1222.98 L825.2 1224.4 L826 1225.55 L826.8 1226.38 L827.6 1226.94 L828.4 1227.32 L829.2 1227.57 L830 1227.75 L830.8 1227.88 L831.6 1227.98 L832.4 1228.07 L833.2 1228.16 L834 1228.24 L834.8 1228.33 L835.6 1228.42 L836.4 1228.53 L837.2 1228.67 L838 1228.86 L838.8 1229.14 L839.6 1229.55 L840.4 1230.17 L841.2 1231.07 L842 1232.28 L842.8 1233.74 L843.6 1235.25 L844.4 1236.6 L845.2 1237.66 L846 1238.41 L846.8 1238.92 L847.6 1239.26 L848.4 1239.48 L849.2 1239.64 L850 1239.77 L850.8 1239.87 L851.6 1239.96 L852.4 1240.04 L853.2 1240.12 L854 1240.21 L854.8 1240.3 L855.6 1240.42 L856.4 1240.56 L857.2 1240.76 L858 1241.04 L858.8 1241.47 L859.6 1242.12 L860.4 1243.05 L861.2 1244.28 L862 1245.74 L862.8 1247.22 L863.6 1248.52 L864.4 1249.54 L865.2 1250.26 L866 1250.75 L866.8 1251.08 L867.6 1251.31 L868.4 1251.48 L869.2 1251.62 L870 1251.74 L870.8 1251.85 L871.6 1251.97 L872.4 1252.1 L873.2 1252.27 L874 1252.5 L874.8 1252.82 L875.6 1253.29 L876.4 1253.96 L877.2 1254.84 L878 1255.9 L878.8 1257 L879.6 1258 L880.4 1258.8 L881.2 1259.42 L882 1259.91 L882.8 1260.32 L883.6 1260.71 L884.4 1261.04 L885.2 1261.32 L886.5 1264.1 L970.8 1264.1" fill="none" stroke="#f00a0a" stroke-width="4.3" stroke-linejoin="round" stroke-linecap="round"/>
<line x1="221.3" y1="826.9" x2="299.9" y2="826.9" stroke="#000" stroke-width="2.5" stroke-linecap="butt" stroke-dasharray="6.8 5.4"/>
<line x1="206" y1="1267.5" x2="294.6" y2="1267.5" stroke="#000" stroke-width="2.5" stroke-linecap="butt" stroke-dasharray="6.8 5.4"/>
<line x1="237.9" y1="839.84" x2="237.9" y2="1251.36" stroke="#000" stroke-width="2.4" stroke-linecap="butt" />
<polygon points="237.9,1263.2 232.5,1248.4 243.3,1248.4" fill="#000"/>
<polygon points="237.9,828 232.5,842.8 243.3,842.8" fill="#000"/>
<text x="218.5" y="1079" font-size="38" fill="#e30d0d" text-anchor="start">Δ<tspan class="i">E</tspan><tspan font-size="28.7" dy="10">barrier</tspan><tspan dy="-10">= 23.9</tspan></text>
<line x1="273.4" y1="1263.5" x2="373.43" y2="1181.79" stroke="#000" stroke-width="1.8" stroke-linecap="butt" />
<polygon points="382.1,1174.7 374.1,1187.04 368.41,1180.07" fill="#000"/>
<line x1="624.9" y1="945.1" x2="672.41" y2="889.7" stroke="#000" stroke-width="1.8" stroke-linecap="butt" />
<polygon points="679.7,881.2 674,894.76 667.17,888.9" fill="#000"/>
<line x1="885.7" y1="1075" x2="936.54" y2="1110.76" stroke="#000" stroke-width="1.8" stroke-linecap="butt" />
<polygon points="945.7,1117.2 931.66,1112.83 936.84,1105.47" fill="#000"/>
<rect x="395.8" y="1127.2" width="117.9" height="116.8" fill="#fba030" />
<rect x="395.8" y="1155.9" width="117.9" height="60.8" fill="#19408f" />
<rect x="446" y="1146.6" width="17.8" height="19.6" fill="none" stroke="#d8202a" stroke-width="2"/>
<line x1="381" y1="1260.5" x2="381" y2="1221.3" stroke="#000" stroke-width="2.4" stroke-linecap="butt" />
<polygon points="381,1210.9 385.5,1223.9 376.5,1223.9" fill="#000"/>
<line x1="379.8" y1="1259.4" x2="421.9" y2="1259.4" stroke="#000" stroke-width="2.4" stroke-linecap="butt" />
<polygon points="432.3,1259.4 419.3,1263.9 419.3,1254.9" fill="#000"/>
<text x="366" y="1232" font-size="38" text-anchor="middle" fill="#000" class="i">y</text>
<text x="444.5" y="1279" font-size="38" text-anchor="middle" fill="#000" class="i">x</text>
<rect x="688.5" y="819.1" width="118.1" height="117.8" fill="#fba030" />
<rect x="688.5" y="833.2" width="118.1" height="90.8" fill="#19408f" />
<rect x="882.7" y="1117.5" width="117.8" height="117.8" fill="#19408f" />
<line x1="195.1" y1="783.4" x2="195.1" y2="1329.65" stroke="#000" stroke-width="3.8" stroke-linecap="butt" />
<line x1="195.1" y1="785.4" x2="1031.7" y2="785.4" stroke="#000" stroke-width="3.8" stroke-linecap="butt" />
<line x1="195.1" y1="1327.65" x2="1031.7" y2="1327.65" stroke="#000" stroke-width="3.8" stroke-linecap="butt" />
<line x1="1031.7" y1="783.4" x2="1031.7" y2="1329.65" stroke="#e30d0d" stroke-width="3.9" stroke-linecap="butt" />
<line x1="1031.7" y1="1327.65" x2="1018.7" y2="1327.65" stroke="#e30d0d" stroke-width="3.9" stroke-linecap="butt" />
<line x1="1031.7" y1="785.4" x2="1026.7" y2="785.4" stroke="#e30d0d" stroke-width="3.9" stroke-linecap="butt" />
<line x1="195.1" y1="831.1" x2="208.4" y2="831.1" stroke="#000" stroke-width="3.9" stroke-linecap="butt" />
<text x="181" y="843.3" font-size="40" text-anchor="end" fill="#000" >3510</text>
<line x1="195.1" y1="876.26" x2="201.7" y2="876.26" stroke="#000" stroke-width="3.9" stroke-linecap="butt" />
<line x1="195.1" y1="921.43" x2="208.4" y2="921.43" stroke="#000" stroke-width="3.9" stroke-linecap="butt" />
<text x="181" y="933.63" font-size="40" text-anchor="end" fill="#000" >3505</text>
<line x1="195.1" y1="966.6" x2="201.7" y2="966.6" stroke="#000" stroke-width="3.9" stroke-linecap="butt" />
<line x1="195.1" y1="1011.76" x2="208.4" y2="1011.76" stroke="#000" stroke-width="3.9" stroke-linecap="butt" />
<text x="181" y="1023.96" font-size="40" text-anchor="end" fill="#000" >3500</text>
<line x1="195.1" y1="1056.92" x2="201.7" y2="1056.92" stroke="#000" stroke-width="3.9" stroke-linecap="butt" />
<line x1="195.1" y1="1102.09" x2="208.4" y2="1102.09" stroke="#000" stroke-width="3.9" stroke-linecap="butt" />
<text x="181" y="1114.29" font-size="40" text-anchor="end" fill="#000" >3495</text>
<line x1="195.1" y1="1147.26" x2="201.7" y2="1147.26" stroke="#000" stroke-width="3.9" stroke-linecap="butt" />
<line x1="195.1" y1="1192.42" x2="208.4" y2="1192.42" stroke="#000" stroke-width="3.9" stroke-linecap="butt" />
<text x="181" y="1204.62" font-size="40" text-anchor="end" fill="#000" >3490</text>
<line x1="195.1" y1="1237.59" x2="201.7" y2="1237.59" stroke="#000" stroke-width="3.9" stroke-linecap="butt" />
<line x1="195.1" y1="1282.75" x2="208.4" y2="1282.75" stroke="#000" stroke-width="3.9" stroke-linecap="butt" />
<text x="181" y="1294.95" font-size="40" text-anchor="end" fill="#000" >3485</text>
<line x1="271.2" y1="1327.65" x2="271.2" y2="1314.95" stroke="#000" stroke-width="3.9" stroke-linecap="butt" />
<line x1="347.25" y1="1327.65" x2="347.25" y2="1321.05" stroke="#000" stroke-width="3.9" stroke-linecap="butt" />
<text x="271.2" y="1373" font-size="40" text-anchor="middle" fill="#000" >0</text>
<line x1="423.3" y1="1327.65" x2="423.3" y2="1314.95" stroke="#000" stroke-width="3.9" stroke-linecap="butt" />
<line x1="499.35" y1="1327.65" x2="499.35" y2="1321.05" stroke="#000" stroke-width="3.9" stroke-linecap="butt" />
<text x="423.3" y="1373" font-size="40" text-anchor="middle" fill="#000" >5000</text>
<line x1="575.4" y1="1327.65" x2="575.4" y2="1314.95" stroke="#000" stroke-width="3.9" stroke-linecap="butt" />
<line x1="651.45" y1="1327.65" x2="651.45" y2="1321.05" stroke="#000" stroke-width="3.9" stroke-linecap="butt" />
<text x="575.4" y="1373" font-size="40" text-anchor="middle" fill="#000" >10000</text>
<line x1="727.5" y1="1327.65" x2="727.5" y2="1314.95" stroke="#000" stroke-width="3.9" stroke-linecap="butt" />
<line x1="803.55" y1="1327.65" x2="803.55" y2="1321.05" stroke="#000" stroke-width="3.9" stroke-linecap="butt" />
<text x="727.5" y="1373" font-size="40" text-anchor="middle" fill="#000" >15000</text>
<line x1="879.6" y1="1327.65" x2="879.6" y2="1314.95" stroke="#000" stroke-width="3.9" stroke-linecap="butt" />
<line x1="955.65" y1="1327.65" x2="955.65" y2="1321.05" stroke="#000" stroke-width="3.9" stroke-linecap="butt" />
<text x="879.6" y="1373" font-size="40" text-anchor="middle" fill="#000" >20000</text>
<text x="1031.7" y="1373" font-size="40" text-anchor="middle" fill="#000" >25000</text>
<line x1="1031.7" y1="835.05" x2="1018.9" y2="835.05" stroke="#e30d0d" stroke-width="3.9" stroke-linecap="butt" />
<line x1="1031.7" y1="884.31" x2="1025.1" y2="884.31" stroke="#e30d0d" stroke-width="3.9" stroke-linecap="butt" />
<text x="1045.5" y="847.35" font-size="40" text-anchor="start" fill="#e30d0d" >0</text>
<line x1="1031.7" y1="933.57" x2="1018.9" y2="933.57" stroke="#e30d0d" stroke-width="3.9" stroke-linecap="butt" />
<line x1="1031.7" y1="982.83" x2="1025.1" y2="982.83" stroke="#e30d0d" stroke-width="3.9" stroke-linecap="butt" />
<text x="1045.5" y="945.87" font-size="40" text-anchor="start" fill="#e30d0d" >−10</text>
<line x1="1031.7" y1="1032.09" x2="1018.9" y2="1032.09" stroke="#e30d0d" stroke-width="3.9" stroke-linecap="butt" />
<line x1="1031.7" y1="1081.35" x2="1025.1" y2="1081.35" stroke="#e30d0d" stroke-width="3.9" stroke-linecap="butt" />
<text x="1045.5" y="1044.39" font-size="40" text-anchor="start" fill="#e30d0d" >−20</text>
<line x1="1031.7" y1="1130.61" x2="1018.9" y2="1130.61" stroke="#e30d0d" stroke-width="3.9" stroke-linecap="butt" />
<line x1="1031.7" y1="1179.87" x2="1025.1" y2="1179.87" stroke="#e30d0d" stroke-width="3.9" stroke-linecap="butt" />
<text x="1045.5" y="1142.91" font-size="40" text-anchor="start" fill="#e30d0d" >−30</text>
<line x1="1031.7" y1="1229.13" x2="1018.9" y2="1229.13" stroke="#e30d0d" stroke-width="3.9" stroke-linecap="butt" />
<line x1="1031.7" y1="1278.39" x2="1025.1" y2="1278.39" stroke="#e30d0d" stroke-width="3.9" stroke-linecap="butt" />
<text x="1045.5" y="1241.43" font-size="40" text-anchor="start" fill="#e30d0d" >−40</text>
<text x="1045.5" y="1339.95" font-size="40" text-anchor="start" fill="#e30d0d" >−50</text>
<text x="613" y="1435" font-size="39" text-anchor="middle" fill="#000" >Time steps</text>
<text x="48" y="797" font-size="38" text-anchor="middle" fill="#000" >(b)</text>
<use href="#gf" transform="translate(78,1211.1) rotate(-90) scale(0.97)" fill="#000" stroke="#000"/>
<text transform="translate(87.9,1190.3) rotate(-90)" font-size="26" text-anchor="start">instrinc</text>
<text transform="translate(78,1092.9) rotate(-90)" font-size="39" text-anchor="start">(×10<tspan font-size="27" dy="-15">5</tspan><tspan dy="15"> J/m</tspan><tspan font-size="27" dy="-15">3</tspan><tspan dy="15">)</tspan></text>
<text transform="translate(1156.3,1055.5) rotate(-90)" font-size="39" text-anchor="middle" fill="#e30d0d"><tspan class="i">P</tspan><tspan font-size="26" font-weight="normal" dy="10.5">3</tspan><tspan dy="-10.5"> (μC/cm</tspan><tspan font-size="27" dy="-15">2</tspan><tspan dy="15">)</tspan></text>
<path d="M1449.6 61.8 L1450.4 61.82 L1451.1 61.84 L1451.8 61.85 L1452.5 61.87 L1453.2 61.89 L1453.9 61.9 L1454.6 61.92 L1455.3 61.94 L1456 61.95 L1456.7 61.97 L1457.4 61.99 L1458.1 62 L1458.8 62.02 L1459.5 62.04 L1460.2 62.06 L1460.9 62.08 L1461.6 62.11 L1462.3 62.15 L1463 62.21 L1463.7 62.3 L1464.4 62.47 L1465.1 62.73 L1465.8 63.09 L1466.5 63.52 L1467.2 63.91 L1467.9 64.21 L1468.6 64.41 L1469.3 64.53 L1470 64.6 L1470.7 64.64 L1471.4 64.67 L1472.1 64.7 L1472.8 64.72 L1473.5 64.74 L1474.2 64.75 L1474.9 64.77 L1475.6 64.79 L1476.3 64.81 L1477 64.83 L1477.7 64.85 L1478.4 64.88 L1479.1 64.93 L1479.8 65 L1480.5 65.11 L1481.2 65.28 L1481.9 65.52 L1482.6 65.81 L1483.3 66.07 L1484 66.27 L1484.7 66.41 L1485.4 66.49 L1486.1 66.54 L1486.8 66.58 L1487.5 66.6 L1488.2 66.63 L1488.9 66.64 L1489.6 66.66 L1490.3 66.68 L1491 66.7 L1491.7 66.72 L1492.4 66.73 L1493.1 66.75 L1493.8 66.78 L1494.5 66.81 L1495.2 66.85 L1495.9 66.92 L1496.6 67.03 L1497.3 67.21 L1498 67.45 L1498.7 67.74 L1499.4 68.01 L1500.1 68.22 L1500.8 68.35 L1501.5 68.44 L1502.2 68.49 L1502.9 68.53 L1503.6 68.55 L1504.3 68.58 L1505 68.59 L1505.7 68.61 L1506.4 68.63 L1507.1 68.65 L1507.8 68.67 L1508.5 68.68 L1509.2 68.7 L1509.9 68.72 L1510.6 68.75 L1511.3 68.78 L1512 68.83 L1512.7 68.91 L1513.4 69.04 L1514.1 69.24 L1514.8 69.51 L1515.5 69.8 L1516.2 70.07 L1516.9 70.26 L1517.6 70.38 L1518.3 70.46 L1519 70.51 L1519.7 70.54 L1520.4 70.57 L1521.1 70.59 L1521.8 70.61 L1522.5 70.62 L1523.2 70.64 L1523.9 70.66 L1524.6 70.68 L1525.3 70.69 L1526 70.71 L1526.7 70.73 L1527.4 70.76 L1528.1 70.79 L1528.8 70.83 L1529.5 70.9 L1530.2 71.01 L1530.9 71.18 L1531.6 71.42 L1532.3 71.71 L1533 71.99 L1533.7 72.21 L1534.4 72.35 L1535.1 72.44 L1535.8 72.5 L1536.5 72.54 L1537.2 72.56 L1537.9 72.58 L1538.6 72.6 L1539.3 72.62 L1540 72.64 L1540.7 72.66 L1541.4 72.67 L1542.1 72.69 L1542.8 72.71 L1543.5 72.73 L1544.2 72.76 L1544.9 72.8 L1545.6 72.86 L1546.3 72.95 L1547 73.1 L1547.7 73.31 L1548.4 73.59 L1549.1 73.87 L1549.8 74.11 L1550.5 74.27 L1551.2 74.38 L1551.9 74.44 L1552.6 74.48 L1553.3 74.51 L1554 74.53 L1554.7 74.55 L1555.4 74.57 L1556.1 74.59 L1556.8 74.61 L1557.5 74.62 L1558.2 74.64 L1558.9 74.66 L1559.6 74.68 L1560.3 74.71 L1561 74.76 L1561.7 74.82 L1562.4 74.91 L1563.1 75.07 L1563.8 75.31 L1564.5 75.64 L1565.2 76.01 L1565.9 76.35 L1566.6 76.6 L1567.3 76.77 L1568 76.87 L1568.7 76.93 L1569.4 76.98 L1570.1 77.01 L1570.8 77.04 L1571.5 77.06 L1572.2 77.09 L1572.9 77.11 L1573.6 77.13 L1574.3 77.16 L1575 77.18 L1575.7 77.21 L1576.4 77.24 L1577.1 77.27 L1577.8 77.32 L1578.5 77.39 L1579.2 77.51 L1579.9 77.69 L1580.6 77.97 L1581.3 78.33 L1582 78.71 L1582.7 79.04 L1583.4 79.28 L1584.1 79.43 L1584.8 79.52 L1585.5 79.58 L1586.2 79.62 L1586.9 79.65 L1587.6 79.68 L1588.3 79.7 L1589 79.73 L1589.7 79.75 L1590.4 79.77 L1591.1 79.8 L1591.8 79.82 L1592.5 79.85 L1593.2 79.89 L1593.9 79.94 L1594.6 80.01 L1595.3 80.13 L1596 80.32 L1596.7 80.6 L1597.4 80.97 L1598.1 81.35 L1598.8 81.67 L1599.5 81.89 L1600.2 82.04 L1600.9 82.13 L1601.6 82.18 L1602.3 82.22 L1603 82.25 L1603.7 82.28 L1604.4 82.31 L1605.1 82.33 L1605.8 82.35 L1606.5 82.38 L1607.2 82.4 L1607.9 82.43 L1608.6 82.45 L1609.3 82.49 L1610 82.53 L1610.7 82.59 L1611.4 82.69 L1612.1 82.84 L1612.8 83.09 L1613.5 83.43 L1614.2 83.81 L1614.9 84.17 L1615.6 84.44 L1616.3 84.61 L1617 84.72 L1617.7 84.79 L1618.4 84.84 L1619.1 84.87 L1619.8 84.9 L1620.5 84.93 L1621.2 84.95 L1621.9 84.97 L1622.6 85 L1623.3 85.02 L1624 85.05 L1624.7 85.07 L1625.4 85.1 L1626.1 85.14 L1626.8 85.2 L1627.5 85.28 L1628.2 85.41 L1628.9 85.63 L1629.6 85.93 L1630.3 86.31 L1631 86.68 L1631.7 86.98 L1632.4 87.19 L1633.1 87.32 L1633.8 87.4 L1634.5 87.45 L1635.2 87.49 L1635.9 87.52 L1636.6 87.54 L1637.3 87.57 L1638 87.59 L1638.7 87.61 L1639.4 87.64 L1640.1 87.66 L1640.8 87.69 L1641.5 87.72 L1642.2 87.75 L1642.9 87.8 L1643.6 87.87 L1644.3 87.98 L1645 88.17 L1645.7 88.44 L1646.4 88.8 L1647.1 89.18 L1647.8 89.5 L1648.5 89.73 L1649.2 89.88 L1649.9 89.97 L1650.6 90.03 L1651.3 90.07 L1652 90.1 L1652.7 90.13 L1653.4 90.16 L1654.1 90.18 L1654.8 90.2 L1655.5 90.23 L1656.2 90.25 L1656.9 90.28 L1657.6 90.31 L1658.3 90.35 L1659 90.4 L1659.7 90.48 L1660.4 90.61 L1661.1 90.81 L1661.8 91.11 L1662.5 91.48 L1663.2 91.85 L1663.9 92.15 L1664.6 92.35 L1665.3 92.48 L1666 92.56 L1666.7 92.61 L1667.4 92.65 L1668.1 92.68 L1668.8 92.71 L1669.5 92.73 L1670.2 92.76 L1670.9 92.78 L1671.6 92.8 L1672.3 92.83 L1673 92.85 L1673.7 92.88 L1674.4 92.92 L1675.1 92.97 L1675.8 93.05 L1676.5 93.18 L1677.2 93.38 L1677.9 93.68 L1678.6 94.05 L1679.3 94.42 L1680 94.71 L1680.7 94.92 L1681.4 95.05 L1682.1 95.13 L1682.8 95.18 L1683.5 95.22 L1684.2 95.25 L1684.9 95.28 L1685.6 95.3 L1686.3 95.33 L1687 95.35 L1687.7 95.37 L1688.4 95.4 L1689.1 95.43 L1689.8 95.46 L1690.5 95.5 L1691.2 95.56 L1691.9 95.66 L1692.6 95.81 L1693.3 96.05 L1694 96.37 L1694.7 96.75 L1695.4 97.09 L1696.1 97.35 L1696.8 97.53 L1697.5 97.63 L1698.2 97.7 L1698.9 97.75 L1699.6 97.78 L1700.3 97.81 L1701 97.84 L1701.7 97.86 L1702.4 97.88 L1703.1 97.91 L1703.8 97.93 L1704.5 97.96 L1705.2 97.98 L1705.9 98.02 L1706.6 98.06 L1707.3 98.13 L1708 98.24 L1708.7 98.41 L1709.4 98.67 L1710.1 99.02 L1710.8 99.39 L1711.5 99.71 L1712.2 99.94 L1712.9 100.09 L1713.6 100.18 L1714.3 100.24 L1715 100.28 L1715.7 100.32 L1716.4 100.34 L1717.1 100.37 L1717.8 100.39 L1718.5 100.42 L1719.2 100.44 L1719.9 100.47 L1720.6 100.49 L1721.3 100.52 L1722 100.57 L1722.7 100.62 L1723.4 100.72 L1724.1 100.86 L1724.8 101.1 L1725.5 101.42 L1726.2 101.78 L1726.9 102.13 L1727.6 102.39 L1728.3 102.56 L1729 102.67 L1729.7 102.74 L1730.4 102.78 L1731.1 102.82 L1731.8 102.84 L1732.5 102.87 L1733.2 102.89 L1733.9 102.92 L1734.6 102.94 L1735.3 102.96 L1736 102.99 L1736.7 103.02 L1737.4 103.06 L1738.1 103.1 L1738.8 103.18 L1739.5 103.29 L1740.2 103.48 L1740.9 103.76 L1741.6 104.11 L1742.3 104.48 L1743 104.79 L1743.7 105 L1744.4 105.14 L1745.1 105.23 L1745.8 105.28 L1746.5 105.32 L1747.2 105.35 L1747.9 105.38 L1748.6 105.4 L1749.3 105.43 L1750 105.45 L1750.7 105.47 L1751.4 105.5 L1752.1 105.53 L1752.8 105.56 L1753.5 105.6 L1754.2 105.66 L1754.9 105.75 L1755.6 105.9 L1756.3 106.12 L1757 106.44 L1757.7 106.82 L1758.4 107.16 L1759.1 107.43 L1759.8 107.6 L1760.5 107.71 L1761.2 107.78 L1761.9 107.83 L1762.6 107.86 L1763.3 107.89 L1764 107.92 L1764.7 107.94 L1765.4 107.96 L1766.1 107.99 L1766.8 108.01 L1767.5 108.04 L1768.2 108.07 L1768.9 108.1 L1769.6 108.15 L1770.3 108.21 L1771 108.32 L1771.7 108.5 L1772.4 108.76 L1773.1 109.1 L1773.8 109.47 L1774.5 109.79 L1775.2 110.01 L1775.9 110.16 L1776.6 110.25 L1777.3 110.31 L1778 110.35 L1778.7 110.38 L1779.4 110.41 L1780.1 110.43 L1780.8 110.46 L1781.5 110.48 L1782.2 110.5 L1782.9 110.53 L1783.6 110.56 L1784.3 110.59 L1785 110.64 L1785.7 110.7 L1786.4 110.81 L1787.1 110.98 L1787.8 111.24 L1788.5 111.58 L1789.2 111.95 L1789.9 112.26 L1790.6 112.49 L1791.3 112.63 L1792 112.72 L1792.7 112.78 L1793.4 112.82 L1794.1 112.85 L1794.8 112.88 L1795.5 112.91 L1796.2 112.93 L1796.9 112.95 L1797.6 112.98 L1798.3 113 L1799 113.03 L1799.7 113.06 L1800.4 113.11 L1801.1 113.17 L1801.8 113.27 L1802.5 113.43 L1803.2 113.68 L1803.9 114.01 L1804.6 114.39 L1805.3 114.73 L1806 114.98 L1806.7 115.14 L1807.4 115.24 L1808.1 115.31 L1808.8 115.35 L1809.5 115.39 L1810.2 115.42 L1810.9 115.44 L1811.6 115.47 L1812.3 115.49 L1813 115.52 L1813.7 115.54 L1814.4 115.57 L1815.1 115.61 L1815.8 115.66 L1816.5 115.73 L1817.2 115.85 L1817.9 116.03 L1818.6 116.31 L1819.3 116.66 L1820 117.04 L1820.7 117.35 L1821.4 117.58 L1822.1 117.72 L1822.8 117.81 L1823.5 117.87 L1824.2 117.91 L1824.9 117.94 L1825.6 117.97 L1826.3 118 L1827 118.02 L1827.7 118.05 L1828.4 118.07 L1829.1 118.1 L1829.8 118.13 L1830.5 118.16 L1831.2 118.21 L1831.9 118.28 L1832.6 118.4 L1833.3 118.58 L1834 118.86 L1834.7 119.21 L1835.4 119.59 L1836.1 119.91 L1836.8 120.13 L1837.5 120.27 L1838.2 120.36 L1838.9 120.42 L1839.6 120.46 L1840.3 120.5 L1841 120.52 L1841.7 120.55 L1842.4 120.57 L1843.1 120.6 L1843.8 120.62 L1844.5 120.65 L1845.2 120.68 L1845.9 120.72 L1846.6 120.78 L1847.3 120.86 L1848 120.99 L1848.7 121.19 L1849.4 121.49 L1850.1 121.85 L1850.8 122.21 L1851.5 122.49 L1852.2 122.69 L1852.9 122.81 L1853.6 122.89 L1854.3 122.94 L1855 122.98 L1855.7 123.01 L1856.4 123.04 L1857.1 123.06 L1857.8 123.09 L1858.5 123.11 L1859.2 123.14 L1859.9 123.17 L1860.6 123.21 L1861.3 123.26 L1862 123.33 L1862.7 123.46 L1863.4 123.65 L1864.1 123.93 L1864.8 124.28 L1865.5 124.64 L1866.2 124.93 L1866.9 125.13 L1867.6 125.25 L1868.3 125.33 L1869 125.38 L1869.7 125.42 L1870.4 125.45 L1871.1 125.48 L1871.8 125.51 L1872.5 125.53 L1873.2 125.56 L1873.9 125.58 L1874.6 125.62 L1875.3 125.65 L1876 125.71 L1876.7 125.79 L1877.4 125.92 L1878.1 126.13 L1878.8 126.42 L1879.5 126.77 L1880.2 127.11 L1880.9 127.37 L1881.6 127.55 L1882.3 127.66 L1883 127.73 L1883.7 127.78 L1884.4 127.81 L1885.1 127.84 L1885.8 127.87 L1886.5 127.89 L1887.2 127.92 L1887.9 127.95 L1888.6 127.98 L1889.3 128.02 L1890 128.08 L1890.7 128.16 L1891.4 128.29 L1892.1 128.5 L1892.8 128.79 L1893.5 129.12 L1894.2 129.44 L1894.9 129.68 L1895.6 129.84 L1896.3 129.94 L1897 130 L1897.7 130.05 L1898.4 130.08 L1899.1 130.11 L1899.8 130.14 L1900.5 130.17 L1901.2 130.2 L1901.9 130.23 L1902.6 130.27 L1903.3 130.33 L1904 130.41 L1904.7 130.55 L1905.4 130.76 L1906.1 131.03 L1906.8 131.34 L1907.5 131.61 L1908.2 131.81 L1908.9 131.94 L1909.6 132.03 L1910.3 132.08 L1911 132.12 L1911.7 132.15 L1912.4 132.18 L1913.1 132.21 L1913.8 132.24 L1914.5 132.25 L1915.2 132.26 L1915.9 132.28 L1916.6 132.31 L1917.3 132.35 L1918 132.39 L1919.5 140.3 L1959 140.3" fill="none" stroke="#f00a0a" stroke-width="4.7" stroke-linejoin="round" stroke-linecap="round"/>
<path d="M1449.4 169.4 L1450.4 176 L1452.7 181 L1456.2 186 L1459.2 191 L1461.7 197 L1463.2 202.5 L1464.2 204.5 L1465.38 192.6 L1466.58 172.7 L1467.26 176.63 L1467.95 179.28 L1468.63 181.23 L1469.32 182.76 L1470 184.02 L1470.69 185.11 L1471.38 186.08 L1472.06 186.98 L1472.75 187.83 L1473.43 188.65 L1474.12 189.47 L1474.81 190.32 L1475.49 191.22 L1476.18 192.19 L1476.86 193.28 L1477.55 194.54 L1478.23 196.07 L1478.92 198.02 L1479.61 200.67 L1480.29 204.6 L1481.49 192.6 L1482.69 172.7 L1483.38 176.63 L1484.06 179.28 L1484.75 181.23 L1485.43 182.76 L1486.12 184.02 L1486.81 185.11 L1487.49 186.08 L1488.18 186.98 L1488.86 187.83 L1489.55 188.65 L1490.23 189.47 L1490.92 190.32 L1491.61 191.22 L1492.29 192.19 L1492.98 193.28 L1493.66 194.54 L1494.35 196.07 L1495.03 198.02 L1495.72 200.67 L1496.41 204.6 L1497.61 192.6 L1498.81 172.7 L1499.52 176.63 L1500.23 179.28 L1500.94 181.23 L1501.65 182.76 L1502.36 184.02 L1503.07 185.11 L1503.78 186.08 L1504.49 186.98 L1505.2 187.83 L1505.91 188.65 L1506.62 189.47 L1507.33 190.32 L1508.04 191.22 L1508.75 192.19 L1509.47 193.28 L1510.18 194.54 L1510.89 196.07 L1511.6 198.02 L1512.31 200.67 L1513.02 204.6 L1514.22 192.6 L1515.42 172.7 L1516.15 176.63 L1516.88 179.28 L1517.61 181.23 L1518.35 182.76 L1519.08 184.02 L1519.81 185.11 L1520.54 186.08 L1521.27 186.98 L1522.01 187.83 L1522.74 188.65 L1523.47 189.47 L1524.2 190.32 L1524.93 191.22 L1525.67 192.19 L1526.4 193.28 L1527.13 194.54 L1527.86 196.07 L1528.59 198.02 L1529.32 200.67 L1530.06 204.6 L1531.26 192.6 L1532.46 172.7 L1533.15 176.63 L1533.85 179.28 L1534.55 181.23 L1535.24 182.76 L1535.94 184.02 L1536.63 185.11 L1537.33 186.08 L1538.03 186.98 L1538.72 187.83 L1539.42 188.65 L1540.12 189.47 L1540.81 190.32 L1541.51 191.22 L1542.21 192.19 L1542.9 193.28 L1543.6 194.54 L1544.3 196.07 L1544.99 198.02 L1545.69 200.67 L1546.38 204.6 L1547.58 192.6 L1548.78 172.7 L1549.48 176.63 L1550.18 179.28 L1550.88 181.23 L1551.58 182.76 L1552.28 184.02 L1552.98 185.11 L1553.68 186.08 L1554.38 186.98 L1555.08 187.83 L1555.78 188.65 L1556.48 189.47 L1557.18 190.32 L1557.88 191.22 L1558.58 192.19 L1559.28 193.28 L1559.98 194.54 L1560.68 196.07 L1561.38 198.02 L1562.08 200.67 L1562.78 204.6 L1563.98 192.6 L1565.18 172.7 L1565.89 176.63 L1566.6 179.28 L1567.32 181.23 L1568.03 182.76 L1568.74 184.02 L1569.45 185.11 L1570.16 186.08 L1570.87 186.98 L1571.58 187.83 L1572.29 188.65 L1573 189.47 L1573.71 190.32 L1574.42 191.22 L1575.13 192.19 L1575.84 193.28 L1576.55 194.54 L1577.26 196.07 L1577.97 198.02 L1578.68 200.67 L1579.4 204.6 L1580.6 192.6 L1581.8 172.7 L1582.48 176.63 L1583.16 179.28 L1583.84 181.23 L1584.52 182.76 L1585.21 184.02 L1585.89 185.11 L1586.57 186.08 L1587.25 186.98 L1587.94 187.83 L1588.62 188.65 L1589.3 189.47 L1589.98 190.32 L1590.66 191.22 L1591.35 192.19 L1592.03 193.28 L1592.71 194.54 L1593.39 196.07 L1594.08 198.02 L1594.76 200.67 L1595.44 204.6 L1596.64 192.6 L1597.84 172.7 L1598.54 176.63 L1599.24 179.28 L1599.94 181.23 L1600.64 182.76 L1601.34 184.02 L1602.04 185.11 L1602.74 186.08 L1603.44 186.98 L1604.14 187.83 L1604.84 188.65 L1605.54 189.47 L1606.24 190.32 L1606.94 191.22 L1607.64 192.19 L1608.34 193.28 L1609.04 194.54 L1609.74 196.07 L1610.44 198.02 L1611.14 200.67 L1611.84 204.6 L1613.04 192.6 L1614.24 172.7 L1614.94 176.63 L1615.63 179.28 L1616.33 181.23 L1617.02 182.76 L1617.72 184.02 L1618.42 185.11 L1619.11 186.08 L1619.81 186.98 L1620.51 187.83 L1621.2 188.65 L1621.9 189.47 L1622.6 190.32 L1623.29 191.22 L1623.99 192.19 L1624.68 193.28 L1625.38 194.54 L1626.08 196.07 L1626.77 198.02 L1627.47 200.67 L1628.17 204.6 L1629.37 192.6 L1630.57 172.7 L1631.26 176.63 L1631.96 179.28 L1632.66 181.23 L1633.35 182.76 L1634.05 184.02 L1634.75 185.11 L1635.44 186.08 L1636.14 186.98 L1636.83 187.83 L1637.53 188.65 L1638.23 189.47 L1638.92 190.32 L1639.62 191.22 L1640.32 192.19 L1641.01 193.28 L1641.71 194.54 L1642.41 196.07 L1643.1 198.02 L1643.8 200.67 L1644.49 204.6 L1645.69 192.6 L1646.89 172.7 L1647.57 176.63 L1648.25 179.28 L1648.92 181.23 L1649.6 182.76 L1650.27 184.02 L1650.95 185.11 L1651.62 186.08 L1652.3 186.98 L1652.97 187.83 L1653.65 188.65 L1654.32 189.47 L1655 190.32 L1655.67 191.22 L1656.35 192.19 L1657.02 193.28 L1657.7 194.54 L1658.37 196.07 L1659.05 198.02 L1659.72 200.67 L1660.4 204.6 L1661.6 192.6 L1662.8 172.7 L1663.48 176.63 L1664.17 179.28 L1664.85 181.23 L1665.54 182.76 L1666.23 184.02 L1666.91 185.11 L1667.6 186.08 L1668.28 186.98 L1668.97 187.83 L1669.65 188.65 L1670.34 189.47 L1671.03 190.32 L1671.71 191.22 L1672.4 192.19 L1673.08 193.28 L1673.77 194.54 L1674.45 196.07 L1675.14 198.02 L1675.83 200.67 L1676.51 204.6 L1677.71 192.6 L1678.91 172.7 L1679.58 176.63 L1680.26 179.28 L1680.93 181.23 L1681.6 182.76 L1682.27 184.02 L1682.94 185.11 L1683.61 186.08 L1684.28 186.98 L1684.96 187.83 L1685.63 188.65 L1686.3 189.47 L1686.97 190.32 L1687.64 191.22 L1688.31 192.19 L1688.99 193.28 L1689.66 194.54 L1690.33 196.07 L1691 198.02 L1691.67 200.67 L1692.34 204.6 L1693.54 192.6 L1694.74 172.7 L1695.42 176.63 L1696.09 179.28 L1696.77 181.23 L1697.44 182.76 L1698.12 184.02 L1698.79 185.11 L1699.47 186.08 L1700.14 186.98 L1700.82 187.83 L1701.49 188.65 L1702.17 189.47 L1702.84 190.32 L1703.52 191.22 L1704.19 192.19 L1704.87 193.28 L1705.54 194.54 L1706.22 196.07 L1706.9 198.02 L1707.57 200.67 L1708.25 204.6 L1709.45 192.6 L1710.65 172.7 L1711.31 176.63 L1711.97 179.28 L1712.63 181.23 L1713.29 182.76 L1713.95 184.02 L1714.61 185.11 L1715.27 186.08 L1715.93 186.98 L1716.59 187.83 L1717.25 188.65 L1717.92 189.47 L1718.58 190.32 L1719.24 191.22 L1719.9 192.19 L1720.56 193.28 L1721.22 194.54 L1721.88 196.07 L1722.54 198.02 L1723.2 200.67 L1723.86 204.6 L1725.06 192.6 L1726.26 172.7 L1726.93 176.63 L1727.6 179.28 L1728.27 181.23 L1728.94 182.76 L1729.6 184.02 L1730.27 185.11 L1730.94 186.08 L1731.61 186.98 L1732.28 187.83 L1732.94 188.65 L1733.61 189.47 L1734.28 190.32 L1734.95 191.22 L1735.62 192.19 L1736.28 193.28 L1736.95 194.54 L1737.62 196.07 L1738.29 198.02 L1738.96 200.67 L1739.62 204.6 L1740.82 192.6 L1742.02 172.7 L1742.69 176.63 L1743.36 179.28 L1744.03 181.23 L1744.7 182.76 L1745.36 184.02 L1746.03 185.11 L1746.7 186.08 L1747.37 186.98 L1748.04 187.83 L1748.7 188.65 L1749.37 189.47 L1750.04 190.32 L1750.71 191.22 L1751.38 192.19 L1752.04 193.28 L1752.71 194.54 L1753.38 196.07 L1754.05 198.02 L1754.72 200.67 L1755.38 204.6 L1756.58 192.6 L1757.78 172.7 L1758.46 176.63 L1759.13 179.28 L1759.8 181.23 L1760.47 182.76 L1761.14 184.02 L1761.81 185.11 L1762.48 186.08 L1763.16 186.98 L1763.83 187.83 L1764.5 188.65 L1765.17 189.47 L1765.84 190.32 L1766.51 191.22 L1767.19 192.19 L1767.86 193.28 L1768.53 194.54 L1769.2 196.07 L1769.87 198.02 L1770.54 200.67 L1771.21 204.6 L1772.41 192.6 L1773.61 172.7 L1774.27 176.63 L1774.92 179.28 L1775.57 181.23 L1776.22 182.76 L1776.87 184.02 L1777.52 185.11 L1778.17 186.08 L1778.82 186.98 L1779.47 187.83 L1780.12 188.65 L1780.77 189.47 L1781.42 190.32 L1782.07 191.22 L1782.72 192.19 L1783.37 193.28 L1784.02 194.54 L1784.67 196.07 L1785.32 198.02 L1785.97 200.67 L1786.62 204.6 L1787.82 192.6 L1789.02 172.7 L1789.68 176.63 L1790.33 179.28 L1790.99 181.23 L1791.65 182.76 L1792.31 184.02 L1792.96 185.11 L1793.62 186.08 L1794.28 186.98 L1794.94 187.83 L1795.59 188.65 L1796.25 189.47 L1796.91 190.32 L1797.57 191.22 L1798.22 192.19 L1798.88 193.28 L1799.54 194.54 L1800.2 196.07 L1800.85 198.02 L1801.51 200.67 L1802.17 204.6 L1803.37 192.6 L1804.57 172.7 L1805.21 176.63 L1805.85 179.28 L1806.49 181.23 L1807.13 182.76 L1807.77 184.02 L1808.4 185.11 L1809.04 186.08 L1809.68 186.98 L1810.32 187.83 L1810.96 188.65 L1811.6 189.47 L1812.24 190.32 L1812.88 191.22 L1813.52 192.19 L1814.16 193.28 L1814.8 194.54 L1815.44 196.07 L1816.08 198.02 L1816.72 200.67 L1817.36 204.6 L1818.56 192.6 L1819.76 172.7 L1820.41 176.63 L1821.06 179.28 L1821.71 181.23 L1822.36 182.76 L1823.01 184.02 L1823.66 185.11 L1824.31 186.08 L1824.96 186.98 L1825.61 187.83 L1826.26 188.65 L1826.91 189.47 L1827.56 190.32 L1828.21 191.22 L1828.86 192.19 L1829.51 193.28 L1830.16 194.54 L1830.81 196.07 L1831.46 198.02 L1832.11 200.67 L1832.76 204.6 L1833.96 192.6 L1835.16 172.7 L1835.8 176.63 L1836.44 179.28 L1837.08 181.23 L1837.72 182.76 L1838.36 184.02 L1839 185.11 L1839.64 186.08 L1840.28 186.98 L1840.92 187.83 L1841.56 188.65 L1842.2 189.47 L1842.84 190.32 L1843.48 191.22 L1844.12 192.19 L1844.76 193.28 L1845.4 194.54 L1846.04 196.07 L1846.68 198.02 L1847.32 200.67 L1847.96 204.6 L1849.16 192.6 L1850.36 172.7 L1850.98 176.63 L1851.59 179.28 L1852.21 181.23 L1852.83 182.76 L1853.45 184.02 L1854.07 185.11 L1854.69 186.08 L1855.3 186.98 L1855.92 187.83 L1856.54 188.65 L1857.16 189.47 L1857.78 190.32 L1858.4 191.22 L1859.01 192.19 L1859.63 193.28 L1860.25 194.54 L1860.87 196.07 L1861.49 198.02 L1862.1 200.67 L1862.72 204.6 L1863.92 192.6 L1865.12 172.7 L1865.73 176.63 L1866.34 179.28 L1866.95 181.23 L1867.55 182.76 L1868.16 184.02 L1868.77 185.11 L1869.38 186.08 L1869.98 186.98 L1870.59 187.83 L1871.2 188.65 L1871.81 189.47 L1872.42 190.32 L1873.02 191.22 L1873.63 192.19 L1874.24 193.28 L1874.85 194.54 L1875.45 196.07 L1876.06 198.02 L1876.67 200.67 L1877.28 204.6 L1878.48 192.6 L1879.68 172.7 L1880.25 176.63 L1880.83 179.28 L1881.4 181.23 L1881.98 182.76 L1882.56 184.02 L1883.13 185.11 L1883.71 186.08 L1884.28 186.98 L1884.86 187.83 L1885.43 188.65 L1886.01 189.47 L1886.59 190.32 L1887.16 191.22 L1887.74 192.19 L1888.31 193.28 L1888.89 194.54 L1889.46 196.07 L1890.04 198.02 L1890.62 200.67 L1891.19 204.6 L1892.39 192.6 L1893.59 172.7 L1894.13 176.63 L1894.66 179.28 L1895.2 181.23 L1895.74 182.76 L1896.27 184.02 L1896.81 185.11 L1897.35 186.08 L1897.88 186.98 L1898.42 187.83 L1898.96 188.65 L1899.49 189.47 L1900.03 190.32 L1900.57 191.22 L1901.1 192.19 L1901.64 193.28 L1902.18 194.54 L1902.71 196.07 L1903.25 198.02 L1903.79 200.67 L1904.32 204.6 L1905.52 192.6 L1906.72 172.7 L1907.92 177 L1910.22 184 L1912.72 193 L1914.72 202 L1916.4 208.5 L1917.6 214 L1918.2 249.3 L1959 249.3" fill="none" stroke="#158a15" stroke-width="4.7" stroke-linejoin="round" stroke-linecap="round"/>
<path d="M1449.6 351.5 L1449.6 355.5 L1464.58 354.1 L1467.38 349.6 L1480.69 351.82 L1483.49 347.32 L1496.81 349.53 L1499.61 345.03 L1513.42 347.17 L1516.22 342.67 L1530.46 344.76 L1533.26 340.26 L1546.78 342.44 L1549.58 337.94 L1563.18 340.11 L1565.98 335.61 L1579.8 337.75 L1582.6 333.25 L1595.84 335.48 L1598.64 330.98 L1612.24 333.15 L1615.04 328.65 L1628.57 330.83 L1631.37 326.33 L1644.89 328.52 L1647.69 324.02 L1660.8 326.26 L1663.6 321.76 L1676.91 323.97 L1679.71 319.47 L1692.74 321.73 L1695.54 317.23 L1708.65 319.47 L1711.45 314.97 L1724.26 317.25 L1727.06 312.75 L1740.02 315.02 L1742.82 310.52 L1755.78 312.78 L1758.58 308.28 L1771.61 310.53 L1774.41 306.03 L1787.02 308.35 L1789.82 303.85 L1802.57 306.14 L1805.37 301.64 L1817.76 303.98 L1820.56 299.48 L1833.16 301.8 L1835.96 297.3 L1848.36 299.64 L1851.16 295.14 L1863.12 297.55 L1865.92 293.05 L1877.68 295.48 L1880.48 290.98 L1891.59 293.51 L1894.39 289.01 L1904.72 291.64 L1907.52 287.14 L1915.94 290.05 L1917.6 288.5 L1919.4 276.4 L1959 276.4" fill="none" stroke="#0c0ce0" stroke-width="4.7" stroke-linejoin="round" stroke-linecap="round"/>
<path d="M1449.4 395.5 L1449.6 398.6 L1450.4 399.04 L1451.1 399.08 L1451.8 399.11 L1452.5 399.15 L1453.2 399.19 L1453.9 399.22 L1454.6 399.26 L1455.3 399.29 L1456 399.33 L1456.7 399.37 L1457.4 399.4 L1458.1 399.44 L1458.8 399.47 L1459.5 399.51 L1460.2 399.55 L1460.9 399.59 L1461.6 399.64 L1462.3 399.7 L1463 399.78 L1463.7 399.89 L1464.4 400.08 L1465.1 400.36 L1465.8 400.74 L1466.5 401.18 L1467.2 401.6 L1467.9 401.92 L1468.6 402.13 L1469.3 402.27 L1470 402.36 L1470.7 402.42 L1471.4 402.47 L1472.1 402.52 L1472.8 402.56 L1473.5 402.59 L1474.2 402.63 L1474.9 402.67 L1475.6 402.7 L1476.3 402.74 L1477 402.78 L1477.7 402.82 L1478.4 402.87 L1479.1 402.94 L1479.8 403.03 L1480.5 403.16 L1481.2 403.35 L1481.9 403.61 L1482.6 403.91 L1483.3 404.2 L1484 404.42 L1484.7 404.57 L1485.4 404.67 L1486.1 404.75 L1486.8 404.8 L1487.5 404.85 L1488.2 404.89 L1488.9 404.93 L1489.6 404.96 L1490.3 405 L1491 405.04 L1491.7 405.07 L1492.4 405.11 L1493.1 405.15 L1493.8 405.19 L1494.5 405.24 L1495.2 405.31 L1495.9 405.4 L1496.6 405.53 L1497.3 405.72 L1498 405.98 L1498.7 406.29 L1499.4 406.58 L1500.1 406.8 L1500.8 406.96 L1501.5 407.07 L1502.2 407.14 L1502.9 407.19 L1503.6 407.24 L1504.3 407.28 L1505 407.32 L1505.7 407.36 L1506.4 407.39 L1507.1 407.43 L1507.8 407.47 L1508.5 407.5 L1509.2 407.54 L1509.9 407.58 L1510.6 407.63 L1511.3 407.68 L1512 407.75 L1512.7 407.85 L1513.4 408 L1514.1 408.22 L1514.8 408.51 L1515.5 408.83 L1516.2 409.12 L1516.9 409.33 L1517.6 409.48 L1518.3 409.57 L1519 409.64 L1519.7 409.69 L1520.4 409.74 L1521.1 409.78 L1521.8 409.82 L1522.5 409.86 L1523.2 409.9 L1523.9 409.94 L1524.6 409.98 L1525.3 410.02 L1526 410.06 L1526.7 410.11 L1527.4 410.15 L1528.1 410.21 L1528.8 410.28 L1529.5 410.37 L1530.2 410.51 L1530.9 410.72 L1531.6 411.01 L1532.3 411.35 L1533 411.68 L1533.7 411.94 L1534.4 412.12 L1535.1 412.24 L1535.8 412.32 L1536.5 412.38 L1537.2 412.43 L1537.9 412.48 L1538.6 412.52 L1539.3 412.56 L1540 412.6 L1540.7 412.64 L1541.4 412.68 L1542.1 412.72 L1542.8 412.77 L1543.5 412.81 L1544.2 412.86 L1544.9 412.92 L1545.6 413.01 L1546.3 413.13 L1547 413.31 L1547.7 413.57 L1548.4 413.9 L1549.1 414.23 L1549.8 414.51 L1550.5 414.71 L1551.2 414.84 L1551.9 414.94 L1552.6 415 L1553.3 415.06 L1554 415.1 L1554.7 415.15 L1555.4 415.19 L1556.1 415.23 L1556.8 415.27 L1557.5 415.31 L1558.2 415.35 L1558.9 415.39 L1559.6 415.43 L1560.3 415.48 L1561 415.54 L1561.7 415.61 L1562.4 415.72 L1563.1 415.87 L1563.8 416.1 L1564.5 416.4 L1565.2 416.74 L1565.9 417.05 L1566.6 417.29 L1567.3 417.45 L1568 417.56 L1568.7 417.63 L1569.4 417.69 L1570.1 417.74 L1570.8 417.79 L1571.5 417.83 L1572.2 417.87 L1572.9 417.91 L1573.6 417.95 L1574.3 417.99 L1575 418.03 L1575.7 418.07 L1576.4 418.12 L1577.1 418.17 L1577.8 418.23 L1578.5 418.31 L1579.2 418.42 L1579.9 418.59 L1580.6 418.84 L1581.3 419.16 L1582 419.49 L1582.7 419.78 L1583.4 419.99 L1584.1 420.14 L1584.8 420.23 L1585.5 420.3 L1586.2 420.36 L1586.9 420.41 L1587.6 420.45 L1588.3 420.49 L1589 420.53 L1589.7 420.57 L1590.4 420.61 L1591.1 420.65 L1591.8 420.7 L1592.5 420.74 L1593.2 420.79 L1593.9 420.85 L1594.6 420.93 L1595.3 421.05 L1596 421.23 L1596.7 421.48 L1597.4 421.8 L1598.1 422.12 L1598.8 422.41 L1599.5 422.61 L1600.2 422.75 L1600.9 422.84 L1601.6 422.91 L1602.3 422.96 L1603 423.01 L1603.7 423.05 L1604.4 423.09 L1605.1 423.13 L1605.8 423.17 L1606.5 423.21 L1607.2 423.25 L1607.9 423.29 L1608.6 423.33 L1609.3 423.37 L1610 423.43 L1610.7 423.5 L1611.4 423.59 L1612.1 423.73 L1612.8 423.94 L1613.5 424.23 L1614.2 424.55 L1614.9 424.84 L1615.6 425.07 L1616.3 425.23 L1617 425.34 L1617.7 425.41 L1618.4 425.47 L1619.1 425.51 L1619.8 425.56 L1620.5 425.6 L1621.2 425.64 L1621.9 425.67 L1622.6 425.71 L1623.3 425.75 L1624 425.79 L1624.7 425.83 L1625.4 425.88 L1626.1 425.93 L1626.8 425.99 L1627.5 426.08 L1628.2 426.2 L1628.9 426.39 L1629.6 426.66 L1630.3 426.99 L1631 427.31 L1631.7 427.57 L1632.4 427.76 L1633.1 427.89 L1633.8 427.97 L1634.5 428.04 L1635.2 428.09 L1635.9 428.13 L1636.6 428.18 L1637.3 428.22 L1638 428.26 L1638.7 428.3 L1639.4 428.34 L1640.1 428.39 L1640.8 428.43 L1641.5 428.47 L1642.2 428.52 L1642.9 428.59 L1643.6 428.67 L1644.3 428.78 L1645 428.96 L1645.7 429.2 L1646.4 429.52 L1647.1 429.86 L1647.8 430.15 L1648.5 430.37 L1649.2 430.51 L1649.9 430.61 L1650.6 430.68 L1651.3 430.73 L1652 430.78 L1652.7 430.83 L1653.4 430.87 L1654.1 430.91 L1654.8 430.95 L1655.5 430.99 L1656.2 431.04 L1656.9 431.08 L1657.6 431.13 L1658.3 431.18 L1659 431.24 L1659.7 431.33 L1660.4 431.46 L1661.1 431.65 L1661.8 431.92 L1662.5 432.25 L1663.2 432.58 L1663.9 432.85 L1664.6 433.04 L1665.3 433.17 L1666 433.26 L1666.7 433.32 L1667.4 433.38 L1668.1 433.42 L1668.8 433.47 L1669.5 433.51 L1670.2 433.55 L1670.9 433.59 L1671.6 433.63 L1672.3 433.67 L1673 433.72 L1673.7 433.76 L1674.4 433.82 L1675.1 433.88 L1675.8 433.97 L1676.5 434.1 L1677.2 434.29 L1677.9 434.55 L1678.6 434.88 L1679.3 435.21 L1680 435.48 L1680.7 435.67 L1681.4 435.8 L1682.1 435.89 L1682.8 435.96 L1683.5 436.01 L1684.2 436.06 L1684.9 436.1 L1685.6 436.14 L1686.3 436.18 L1687 436.22 L1687.7 436.27 L1688.4 436.31 L1689.1 436.35 L1689.8 436.4 L1690.5 436.46 L1691.2 436.53 L1691.9 436.63 L1692.6 436.78 L1693.3 437 L1694 437.29 L1694.7 437.62 L1695.4 437.93 L1696.1 438.17 L1696.8 438.34 L1697.5 438.45 L1698.2 438.53 L1698.9 438.59 L1699.6 438.64 L1700.3 438.68 L1701 438.72 L1701.7 438.77 L1702.4 438.81 L1703.1 438.85 L1703.8 438.89 L1704.5 438.93 L1705.2 438.98 L1705.9 439.03 L1706.6 439.09 L1707.3 439.16 L1708 439.28 L1708.7 439.44 L1709.4 439.68 L1710.1 439.99 L1710.8 440.32 L1711.5 440.61 L1712.2 440.83 L1712.9 440.97 L1713.6 441.07 L1714.3 441.14 L1715 441.2 L1715.7 441.25 L1716.4 441.29 L1717.1 441.34 L1717.8 441.38 L1718.5 441.42 L1719.2 441.46 L1719.9 441.5 L1720.6 441.55 L1721.3 441.59 L1722 441.65 L1722.7 441.72 L1723.4 441.82 L1724.1 441.97 L1724.8 442.18 L1725.5 442.47 L1726.2 442.8 L1726.9 443.11 L1727.6 443.35 L1728.3 443.51 L1729 443.62 L1729.7 443.7 L1730.4 443.76 L1731.1 443.81 L1731.8 443.86 L1732.5 443.9 L1733.2 443.94 L1733.9 443.98 L1734.6 444.02 L1735.3 444.06 L1736 444.11 L1736.7 444.15 L1737.4 444.2 L1738.1 444.27 L1738.8 444.35 L1739.5 444.47 L1740.2 444.65 L1740.9 444.9 L1741.6 445.21 L1742.3 445.54 L1743 445.82 L1743.7 446.03 L1744.4 446.16 L1745.1 446.26 L1745.8 446.32 L1746.5 446.38 L1747.2 446.42 L1747.9 446.47 L1748.6 446.51 L1749.3 446.55 L1750 446.59 L1750.7 446.63 L1751.4 446.68 L1752.1 446.72 L1752.8 446.77 L1753.5 446.83 L1754.2 446.9 L1754.9 446.99 L1755.6 447.14 L1756.3 447.35 L1757 447.64 L1757.7 447.97 L1758.4 448.28 L1759.1 448.53 L1759.8 448.69 L1760.5 448.81 L1761.2 448.89 L1761.9 448.95 L1762.6 449 L1763.3 449.04 L1764 449.08 L1764.7 449.13 L1765.4 449.17 L1766.1 449.21 L1766.8 449.25 L1767.5 449.29 L1768.2 449.34 L1768.9 449.39 L1769.6 449.45 L1770.3 449.53 L1771 449.65 L1771.7 449.82 L1772.4 450.06 L1773.1 450.38 L1773.8 450.72 L1774.5 451.02 L1775.2 451.24 L1775.9 451.39 L1776.6 451.49 L1777.3 451.56 L1778 451.62 L1778.7 451.67 L1779.4 451.72 L1780.1 451.77 L1780.8 451.81 L1781.5 451.86 L1782.2 451.9 L1782.9 451.95 L1783.6 451.99 L1784.3 452.05 L1785 452.11 L1785.7 452.2 L1786.4 452.32 L1787.1 452.49 L1787.8 452.75 L1788.5 453.08 L1789.2 453.42 L1789.9 453.73 L1790.6 453.95 L1791.3 454.11 L1792 454.21 L1792.7 454.29 L1793.4 454.35 L1794.1 454.4 L1794.8 454.44 L1795.5 454.49 L1796.2 454.53 L1796.9 454.58 L1797.6 454.62 L1798.3 454.67 L1799 454.72 L1799.7 454.77 L1800.4 454.83 L1801.1 454.91 L1801.8 455.02 L1802.5 455.18 L1803.2 455.42 L1803.9 455.73 L1804.6 456.08 L1805.3 456.39 L1806 456.63 L1806.7 456.8 L1807.4 456.91 L1808.1 456.99 L1808.8 457.05 L1809.5 457.11 L1810.2 457.15 L1810.9 457.2 L1811.6 457.24 L1812.3 457.29 L1813 457.33 L1813.7 457.38 L1814.4 457.43 L1815.1 457.48 L1815.8 457.55 L1816.5 457.63 L1817.2 457.76 L1817.9 457.94 L1818.6 458.2 L1819.3 458.53 L1820 458.87 L1820.7 459.17 L1821.4 459.38 L1822.1 459.53 L1822.8 459.63 L1823.5 459.7 L1824.2 459.76 L1824.9 459.81 L1825.6 459.86 L1826.3 459.9 L1827 459.95 L1827.7 459.99 L1828.4 460.04 L1829.1 460.08 L1829.8 460.13 L1830.5 460.19 L1831.2 460.25 L1831.9 460.34 L1832.6 460.46 L1833.3 460.64 L1834 460.9 L1834.7 461.23 L1835.4 461.57 L1836.1 461.87 L1836.8 462.08 L1837.5 462.23 L1838.2 462.33 L1838.9 462.4 L1839.6 462.46 L1840.3 462.51 L1841 462.56 L1841.7 462.61 L1842.4 462.65 L1843.1 462.69 L1843.8 462.74 L1844.5 462.79 L1845.2 462.84 L1845.9 462.89 L1846.6 462.96 L1847.3 463.05 L1848 463.19 L1848.7 463.39 L1849.4 463.67 L1850.1 464 L1850.8 464.33 L1851.5 464.6 L1852.2 464.79 L1852.9 464.92 L1853.6 465.01 L1854.3 465.08 L1855 465.13 L1855.7 465.18 L1856.4 465.23 L1857.1 465.27 L1857.8 465.32 L1858.5 465.36 L1859.2 465.41 L1859.9 465.46 L1860.6 465.51 L1861.3 465.58 L1862 465.67 L1862.7 465.8 L1863.4 465.99 L1864.1 466.25 L1864.8 466.58 L1865.5 466.9 L1866.2 467.17 L1866.9 467.37 L1867.6 467.5 L1868.3 467.59 L1869 467.66 L1869.7 467.72 L1870.4 467.77 L1871.1 467.81 L1871.8 467.86 L1872.5 467.9 L1873.2 467.95 L1873.9 467.99 L1874.6 468.04 L1875.3 468.1 L1876 468.17 L1876.7 468.27 L1877.4 468.4 L1878.1 468.6 L1878.8 468.88 L1879.5 469.2 L1880.2 469.51 L1880.9 469.76 L1881.6 469.93 L1882.3 470.05 L1883 470.14 L1883.7 470.2 L1884.4 470.26 L1885.1 470.3 L1885.8 470.35 L1886.5 470.4 L1887.2 470.44 L1887.9 470.49 L1888.6 470.54 L1889.3 470.6 L1890 470.67 L1890.7 470.76 L1891.4 470.9 L1892.1 471.1 L1892.8 471.37 L1893.5 471.68 L1894.2 471.98 L1894.9 472.21 L1895.6 472.37 L1896.3 472.48 L1897 472.56 L1897.7 472.62 L1898.4 472.67 L1899.1 472.72 L1899.8 472.76 L1900.5 472.81 L1901.2 472.85 L1901.9 472.9 L1902.6 472.95 L1903.3 473.02 L1904 473.11 L1904.7 473.23 L1905.4 473.42 L1906.1 473.65 L1906.8 473.91 L1907.5 474.14 L1908.2 474.32 L1908.9 474.44 L1909.6 474.53 L1910.3 474.59 L1911 474.64 L1911.7 474.69 L1912.4 474.73 L1913.1 474.78 L1913.8 474.82 L1914.5 474.87 L1915.2 474.93 L1915.9 475 L1916.6 475.1 L1917.3 475.2 L1918 475.29 L1918.7 475.37 L1919.4 475.42 L1920.1 475.46 L1920.8 475.48 L1921 475.9 L1959 475.9" fill="none" stroke="#ee14ee" stroke-width="4.7" stroke-linejoin="round" stroke-linecap="round"/>
<path d="M1449 509.4 L1449.6 506 L1451.2 504.2 L1454.5 503.2 L1457.5 502 L1459.5 499.6 L1461.5 498.6 L1463.88 498.22 L1465.28 499.42 L1467.08 504.62 L1468.48 504.82 L1477.49 501.08 L1479.99 500.28 L1481.39 501.48 L1483.19 506.68 L1484.59 506.88 L1493.61 503.13 L1496.11 502.33 L1497.51 503.53 L1499.31 508.73 L1500.71 508.93 L1510.22 505.25 L1512.72 504.45 L1514.12 505.65 L1515.92 510.85 L1517.32 511.05 L1527.26 507.43 L1529.76 506.63 L1531.16 507.83 L1532.96 513.03 L1534.36 513.23 L1543.58 509.51 L1546.08 508.71 L1547.48 509.91 L1549.28 515.11 L1550.68 515.31 L1559.98 511.6 L1562.48 510.8 L1563.88 512 L1565.68 517.2 L1567.08 517.4 L1576.6 513.72 L1579.1 512.92 L1580.5 514.12 L1582.3 519.32 L1583.7 519.52 L1592.64 515.77 L1595.14 514.97 L1596.54 516.17 L1598.34 521.37 L1599.74 521.57 L1609.04 517.86 L1611.54 517.06 L1612.94 518.26 L1614.74 523.46 L1616.14 523.66 L1625.37 519.94 L1627.87 519.14 L1629.27 520.34 L1631.07 525.54 L1632.47 525.74 L1641.69 522.02 L1644.19 521.22 L1645.59 522.42 L1647.39 527.62 L1648.79 527.82 L1657.6 524.05 L1660.1 523.25 L1661.5 524.45 L1663.3 529.65 L1664.7 529.85 L1673.71 526.11 L1676.21 525.31 L1677.61 526.51 L1679.41 531.71 L1680.81 531.91 L1689.54 528.13 L1692.04 527.33 L1693.44 528.53 L1695.24 533.73 L1696.64 533.93 L1705.45 530.16 L1707.95 529.36 L1709.35 530.56 L1711.15 535.76 L1712.55 535.96 L1721.06 532.15 L1723.56 531.35 L1724.96 532.55 L1726.76 537.75 L1728.16 537.95 L1736.82 534.16 L1739.32 533.36 L1740.72 534.56 L1742.52 539.76 L1743.92 539.96 L1752.58 536.17 L1755.08 535.37 L1756.48 536.57 L1758.28 541.77 L1759.68 541.97 L1768.41 538.19 L1770.91 537.39 L1772.31 538.59 L1774.11 543.79 L1775.51 543.99 L1783.82 540.16 L1786.32 539.36 L1787.72 540.56 L1789.52 545.76 L1790.92 545.96 L1799.37 542.14 L1801.87 541.34 L1803.27 542.54 L1805.07 547.74 L1806.47 547.94 L1814.56 544.08 L1817.06 543.28 L1818.46 544.48 L1820.26 549.68 L1821.66 549.88 L1829.96 546.04 L1832.46 545.24 L1833.86 546.44 L1835.66 551.64 L1837.06 551.84 L1845.16 547.98 L1847.66 547.18 L1849.06 548.38 L1850.86 553.58 L1852.26 553.78 L1859.92 549.86 L1862.42 549.06 L1863.82 550.26 L1865.62 555.46 L1867.02 555.66 L1874.48 551.72 L1876.98 550.92 L1878.38 552.12 L1880.18 557.32 L1881.58 557.52 L1888.39 553.49 L1890.89 552.69 L1892.29 553.89 L1894.09 559.09 L1895.49 559.29 L1901.52 555.17 L1904.02 554.37 L1905.42 555.57 L1907.22 560.77 L1908.62 560.97 L1912.74 556.6 L1915.24 555.8 L1916.64 557 L1918.4 560 L1919.4 576.8 L1959 576.8" fill="none" stroke="#f5820f" stroke-width="4.7" stroke-linejoin="round" stroke-linecap="round"/>
<line x1="1364.7" y1="47.25" x2="1364.7" y2="596.7" stroke="#000" stroke-width="4.7" stroke-linecap="butt" />
<line x1="2043.8" y1="47.25" x2="2043.8" y2="596.7" stroke="#000" stroke-width="4.7" stroke-linecap="butt" />
<line x1="1364.7" y1="49.6" x2="2043.8" y2="49.6" stroke="#000" stroke-width="4.6" stroke-linecap="butt" />
<line x1="1364.7" y1="158.5" x2="2043.8" y2="158.5" stroke="#000" stroke-width="4.6" stroke-linecap="butt" />
<line x1="1364.7" y1="267.4" x2="2043.8" y2="267.4" stroke="#000" stroke-width="4.6" stroke-linecap="butt" />
<line x1="1364.7" y1="376.4" x2="2043.8" y2="376.4" stroke="#000" stroke-width="4.6" stroke-linecap="butt" />
<line x1="1364.7" y1="485.8" x2="2043.8" y2="485.8" stroke="#000" stroke-width="4.6" stroke-linecap="butt" />
<line x1="1364.7" y1="594.35" x2="2043.8" y2="594.35" stroke="#000" stroke-width="4.6" stroke-linecap="butt" />
<line x1="1449.8" y1="158.5" x2="1449.8" y2="145.5" stroke="#000" stroke-width="4.6" stroke-linecap="butt" />
<line x1="1534.63" y1="158.5" x2="1534.63" y2="151.9" stroke="#000" stroke-width="4.6" stroke-linecap="butt" />
<line x1="1619.47" y1="158.5" x2="1619.47" y2="145.5" stroke="#000" stroke-width="4.6" stroke-linecap="butt" />
<line x1="1704.31" y1="158.5" x2="1704.31" y2="151.9" stroke="#000" stroke-width="4.6" stroke-linecap="butt" />
<line x1="1789.14" y1="158.5" x2="1789.14" y2="145.5" stroke="#000" stroke-width="4.6" stroke-linecap="butt" />
<line x1="1873.97" y1="158.5" x2="1873.97" y2="151.9" stroke="#000" stroke-width="4.6" stroke-linecap="butt" />
<line x1="1958.81" y1="158.5" x2="1958.81" y2="145.5" stroke="#000" stroke-width="4.6" stroke-linecap="butt" />
<line x1="1364.7" y1="61.3" x2="1378" y2="61.3" stroke="#000" stroke-width="4.4" stroke-linecap="butt" />
<text x="1349.2" y="73.7" font-size="40.3" text-anchor="end" fill="#000" >3484</text>
<line x1="1364.7" y1="115.2" x2="1378" y2="115.2" stroke="#000" stroke-width="4.4" stroke-linecap="butt" />
<text x="1349.2" y="127.6" font-size="40.3" text-anchor="end" fill="#000" >3432</text>
<line x1="1364.7" y1="88.25" x2="1371.1" y2="88.25" stroke="#000" stroke-width="4.4" stroke-linecap="butt" />
<line x1="1364.7" y1="142.2" x2="1371.1" y2="142.2" stroke="#000" stroke-width="4.4" stroke-linecap="butt" />
<line x1="1387" y1="114" x2="1476.2" y2="114" stroke="#f00a0a" stroke-width="5" stroke-linecap="round" />
<use href="#gf" transform="translate(1490.3,128.5)" fill="#000" stroke="#000"/>
<text x="1511.4" y="138.7" font-size="27" text-anchor="start">total</text>
<line x1="1449.8" y1="267.4" x2="1449.8" y2="254.4" stroke="#000" stroke-width="4.6" stroke-linecap="butt" />
<line x1="1534.63" y1="267.4" x2="1534.63" y2="260.8" stroke="#000" stroke-width="4.6" stroke-linecap="butt" />
<line x1="1619.47" y1="267.4" x2="1619.47" y2="254.4" stroke="#000" stroke-width="4.6" stroke-linecap="butt" />
<line x1="1704.31" y1="267.4" x2="1704.31" y2="260.8" stroke="#000" stroke-width="4.6" stroke-linecap="butt" />
<line x1="1789.14" y1="267.4" x2="1789.14" y2="254.4" stroke="#000" stroke-width="4.6" stroke-linecap="butt" />
<line x1="1873.97" y1="267.4" x2="1873.97" y2="260.8" stroke="#000" stroke-width="4.6" stroke-linecap="butt" />
<line x1="1958.81" y1="267.4" x2="1958.81" y2="254.4" stroke="#000" stroke-width="4.6" stroke-linecap="butt" />
<line x1="1364.7" y1="195.8" x2="1378" y2="195.8" stroke="#000" stroke-width="4.4" stroke-linecap="butt" />
<text x="1349.2" y="208.2" font-size="40.3" text-anchor="end" fill="#000" >1.8</text>
<line x1="1364.7" y1="249.3" x2="1378" y2="249.3" stroke="#000" stroke-width="4.4" stroke-linecap="butt" />
<text x="1349.2" y="261.7" font-size="40.3" text-anchor="end" fill="#000" >0.0</text>
<line x1="1364.7" y1="169" x2="1371.1" y2="169" stroke="#000" stroke-width="4.4" stroke-linecap="butt" />
<line x1="1364.7" y1="222.5" x2="1371.1" y2="222.5" stroke="#000" stroke-width="4.4" stroke-linecap="butt" />
<line x1="1387.9" y1="225.7" x2="1477.1" y2="225.7" stroke="#158a15" stroke-width="5" stroke-linecap="round" />
<use href="#gf" transform="translate(1491.2,240.2)" fill="#000" stroke="#000"/>
<text x="1512.3" y="250.4" font-size="27" text-anchor="start">grad</text>
<line x1="1449.8" y1="376.4" x2="1449.8" y2="363.4" stroke="#000" stroke-width="4.6" stroke-linecap="butt" />
<line x1="1534.63" y1="376.4" x2="1534.63" y2="369.8" stroke="#000" stroke-width="4.6" stroke-linecap="butt" />
<line x1="1619.47" y1="376.4" x2="1619.47" y2="363.4" stroke="#000" stroke-width="4.6" stroke-linecap="butt" />
<line x1="1704.31" y1="376.4" x2="1704.31" y2="369.8" stroke="#000" stroke-width="4.6" stroke-linecap="butt" />
<line x1="1789.14" y1="376.4" x2="1789.14" y2="363.4" stroke="#000" stroke-width="4.6" stroke-linecap="butt" />
<line x1="1873.97" y1="376.4" x2="1873.97" y2="369.8" stroke="#000" stroke-width="4.6" stroke-linecap="butt" />
<line x1="1958.81" y1="376.4" x2="1958.81" y2="363.4" stroke="#000" stroke-width="4.6" stroke-linecap="butt" />
<line x1="1364.7" y1="292.5" x2="1378" y2="292.5" stroke="#000" stroke-width="4.4" stroke-linecap="butt" />
<text x="1349.2" y="304.9" font-size="40.3" text-anchor="end" fill="#000" >176</text>
<line x1="1364.7" y1="345.5" x2="1378" y2="345.5" stroke="#000" stroke-width="4.4" stroke-linecap="butt" />
<text x="1349.2" y="357.9" font-size="40.3" text-anchor="end" fill="#000" >160</text>
<line x1="1364.7" y1="319" x2="1371.1" y2="319" stroke="#000" stroke-width="4.4" stroke-linecap="butt" />
<line x1="1364.7" y1="372" x2="1371.1" y2="372" stroke="#000" stroke-width="4.4" stroke-linecap="butt" />
<line x1="1389" y1="299.7" x2="1478.2" y2="299.7" stroke="#0c0ce0" stroke-width="5" stroke-linecap="round" />
<use href="#gf" transform="translate(1492.3,314.5)" fill="#000" stroke="#000"/>
<text x="1513.4" y="324.7" font-size="27" text-anchor="start">Landau</text>
<line x1="1449.8" y1="485.8" x2="1449.8" y2="472.8" stroke="#000" stroke-width="4.6" stroke-linecap="butt" />
<line x1="1534.63" y1="485.8" x2="1534.63" y2="479.2" stroke="#000" stroke-width="4.6" stroke-linecap="butt" />
<line x1="1619.47" y1="485.8" x2="1619.47" y2="472.8" stroke="#000" stroke-width="4.6" stroke-linecap="butt" />
<line x1="1704.31" y1="485.8" x2="1704.31" y2="479.2" stroke="#000" stroke-width="4.6" stroke-linecap="butt" />
<line x1="1789.14" y1="485.8" x2="1789.14" y2="472.8" stroke="#000" stroke-width="4.6" stroke-linecap="butt" />
<line x1="1873.97" y1="485.8" x2="1873.97" y2="479.2" stroke="#000" stroke-width="4.6" stroke-linecap="butt" />
<line x1="1958.81" y1="485.8" x2="1958.81" y2="472.8" stroke="#000" stroke-width="4.6" stroke-linecap="butt" />
<line x1="1364.7" y1="391.5" x2="1378" y2="391.5" stroke="#000" stroke-width="4.4" stroke-linecap="butt" />
<text x="1349.2" y="403.9" font-size="40.3" text-anchor="end" fill="#000" >0</text>
<line x1="1364.7" y1="447.5" x2="1378" y2="447.5" stroke="#000" stroke-width="4.4" stroke-linecap="butt" />
<text x="1349.2" y="459.9" font-size="40.3" text-anchor="end" fill="#000" >−51</text>
<line x1="1364.7" y1="419.5" x2="1371.1" y2="419.5" stroke="#000" stroke-width="4.4" stroke-linecap="butt" />
<line x1="1364.7" y1="475.5" x2="1371.1" y2="475.5" stroke="#000" stroke-width="4.4" stroke-linecap="butt" />
<line x1="1390.1" y1="443.3" x2="1479.3" y2="443.3" stroke="#ee14ee" stroke-width="5" stroke-linecap="round" />
<use href="#gf" transform="translate(1493.4,458.5)" fill="#000" stroke="#000"/>
<text x="1514.5" y="468.7" font-size="27" text-anchor="start">electric</text>
<line x1="1449.8" y1="594.35" x2="1449.8" y2="581.35" stroke="#000" stroke-width="4.6" stroke-linecap="butt" />
<line x1="1534.63" y1="594.35" x2="1534.63" y2="587.75" stroke="#000" stroke-width="4.6" stroke-linecap="butt" />
<line x1="1619.47" y1="594.35" x2="1619.47" y2="581.35" stroke="#000" stroke-width="4.6" stroke-linecap="butt" />
<line x1="1704.31" y1="594.35" x2="1704.31" y2="587.75" stroke="#000" stroke-width="4.6" stroke-linecap="butt" />
<line x1="1789.14" y1="594.35" x2="1789.14" y2="581.35" stroke="#000" stroke-width="4.6" stroke-linecap="butt" />
<line x1="1873.97" y1="594.35" x2="1873.97" y2="587.75" stroke="#000" stroke-width="4.6" stroke-linecap="butt" />
<line x1="1958.81" y1="594.35" x2="1958.81" y2="581.35" stroke="#000" stroke-width="4.6" stroke-linecap="butt" />
<line x1="1364.7" y1="523" x2="1378" y2="523" stroke="#000" stroke-width="4.4" stroke-linecap="butt" />
<text x="1349.2" y="535.4" font-size="40.3" text-anchor="end" fill="#000" >3325</text>
<line x1="1364.7" y1="577.6" x2="1378" y2="577.6" stroke="#000" stroke-width="4.4" stroke-linecap="butt" />
<text x="1349.2" y="590" font-size="40.3" text-anchor="end" fill="#000" >3306</text>
<line x1="1364.7" y1="495.7" x2="1371.1" y2="495.7" stroke="#000" stroke-width="4.4" stroke-linecap="butt" />
<line x1="1364.7" y1="550.3" x2="1371.1" y2="550.3" stroke="#000" stroke-width="4.4" stroke-linecap="butt" />
<line x1="1390" y1="548.4" x2="1479.2" y2="548.4" stroke="#f5820f" stroke-width="5" stroke-linecap="round" />
<use href="#gf" transform="translate(1493.3,563.5)" fill="#000" stroke="#000"/>
<text x="1514.4" y="573.7" font-size="27" text-anchor="start">elastic</text>
<text x="1449.8" y="641" font-size="40" text-anchor="middle" fill="#000" >0</text>
<text x="1619.47" y="641" font-size="40" text-anchor="middle" fill="#000" >10000</text>
<text x="1789.14" y="641" font-size="40" text-anchor="middle" fill="#000" >20000</text>
<text x="1958.81" y="641" font-size="40" text-anchor="middle" fill="#000" >30000</text>
<text x="1704" y="704.5" font-size="40.5" text-anchor="middle" fill="#000" >Time steps</text>
<text x="1228" y="50" font-size="38" text-anchor="middle" fill="#000" >(c)</text>
<use href="#gf" transform="translate(1258.4,436.4) rotate(-90)" fill="#000" stroke="#000"/>
<text transform="translate(1258.4,404.6) rotate(-90)" font-size="40" text-anchor="start">(×10<tspan font-size="27" dy="-15">5</tspan><tspan dy="15"> J/m</tspan><tspan font-size="27" dy="-15">3</tspan><tspan dy="15">)</tspan></text>
<path d="M1478 801.5 L1478.2 805.5 L1479 806.03 L1479.7 806.06 L1480.4 806.08 L1481.1 806.11 L1481.8 806.13 L1482.5 806.16 L1483.2 806.18 L1483.9 806.21 L1484.6 806.23 L1485.3 806.25 L1486 806.28 L1486.7 806.3 L1487.4 806.33 L1488.1 806.35 L1488.8 806.38 L1489.5 806.41 L1490.2 806.45 L1490.9 806.49 L1491.6 806.56 L1492.3 806.67 L1493 806.84 L1493.7 807.12 L1494.4 807.51 L1495.1 807.98 L1495.8 808.43 L1496.5 808.77 L1497.2 809 L1497.9 809.14 L1498.6 809.23 L1499.3 809.29 L1500 809.33 L1500.7 809.36 L1501.4 809.39 L1502.1 809.42 L1502.8 809.44 L1503.5 809.47 L1504.2 809.49 L1504.9 809.52 L1505.6 809.55 L1506.3 809.59 L1507 809.64 L1507.7 809.71 L1508.4 809.83 L1509.1 810.01 L1509.8 810.26 L1510.5 810.56 L1511.2 810.85 L1511.9 811.08 L1512.6 811.24 L1513.3 811.34 L1514 811.41 L1514.7 811.45 L1515.4 811.49 L1516.1 811.52 L1516.8 811.54 L1517.5 811.57 L1518.2 811.6 L1518.9 811.62 L1519.6 811.65 L1520.3 811.67 L1521 811.7 L1521.7 811.74 L1522.4 811.79 L1523.1 811.86 L1523.8 811.97 L1524.5 812.14 L1525.2 812.39 L1525.9 812.68 L1526.6 812.98 L1527.3 813.22 L1528 813.38 L1528.7 813.49 L1529.4 813.55 L1530.1 813.6 L1530.8 813.64 L1531.5 813.67 L1532.2 813.7 L1532.9 813.72 L1533.6 813.75 L1534.3 813.77 L1535 813.8 L1535.7 813.83 L1536.4 813.86 L1537.1 813.89 L1537.8 813.94 L1538.5 814.01 L1539.2 814.11 L1539.9 814.28 L1540.6 814.52 L1541.3 814.81 L1542 815.11 L1542.7 815.35 L1543.4 815.52 L1544.1 815.63 L1544.8 815.7 L1545.5 815.75 L1546.2 815.79 L1546.9 815.82 L1547.6 815.85 L1548.3 815.87 L1549 815.9 L1549.7 815.92 L1550.4 815.95 L1551.1 815.98 L1551.8 816.01 L1552.5 816.04 L1553.2 816.09 L1553.9 816.16 L1554.6 816.26 L1555.3 816.42 L1556 816.65 L1556.7 816.94 L1557.4 817.24 L1558.1 817.49 L1558.8 817.67 L1559.5 817.78 L1560.2 817.85 L1560.9 817.9 L1561.6 817.94 L1562.3 817.97 L1563 818 L1563.7 818.03 L1564.4 818.05 L1565.1 818.08 L1565.8 818.1 L1566.5 818.13 L1567.2 818.16 L1567.9 818.19 L1568.6 818.24 L1569.3 818.3 L1570 818.4 L1570.7 818.56 L1571.4 818.78 L1572.1 819.07 L1572.8 819.37 L1573.5 819.63 L1574.2 819.81 L1574.9 819.93 L1575.6 820 L1576.3 820.05 L1577 820.09 L1577.7 820.12 L1578.4 820.15 L1579.1 820.18 L1579.8 820.2 L1580.5 820.23 L1581.2 820.25 L1581.9 820.28 L1582.6 820.31 L1583.3 820.34 L1584 820.39 L1584.7 820.45 L1585.4 820.55 L1586.1 820.69 L1586.8 820.91 L1587.5 821.2 L1588.2 821.5 L1588.9 821.76 L1589.6 821.95 L1590.3 822.07 L1591 822.15 L1591.7 822.2 L1592.4 822.24 L1593.1 822.27 L1593.8 822.3 L1594.5 822.33 L1595.2 822.35 L1595.9 822.38 L1596.6 822.41 L1597.3 822.43 L1598 822.46 L1598.7 822.5 L1599.4 822.54 L1600.1 822.6 L1600.8 822.7 L1601.5 822.85 L1602.2 823.08 L1602.9 823.37 L1603.6 823.69 L1604.3 823.97 L1605 824.18 L1605.7 824.31 L1606.4 824.4 L1607.1 824.46 L1607.8 824.5 L1608.5 824.54 L1609.2 824.57 L1609.9 824.59 L1610.6 824.62 L1611.3 824.65 L1612 824.68 L1612.7 824.71 L1613.4 824.74 L1614.1 824.77 L1614.8 824.82 L1615.5 824.88 L1616.2 824.97 L1616.9 825.12 L1617.6 825.35 L1618.3 825.64 L1619 825.97 L1619.7 826.26 L1620.4 826.48 L1621.1 826.62 L1621.8 826.71 L1622.5 826.77 L1623.2 826.82 L1623.9 826.85 L1624.6 826.88 L1625.3 826.91 L1626 826.94 L1626.7 826.97 L1627.4 826.99 L1628.1 827.02 L1628.8 827.05 L1629.5 827.09 L1630.2 827.13 L1630.9 827.19 L1631.6 827.28 L1632.3 827.43 L1633 827.64 L1633.7 827.94 L1634.4 828.26 L1635.1 828.56 L1635.8 828.78 L1636.5 828.93 L1637.2 829.02 L1637.9 829.09 L1638.6 829.13 L1639.3 829.17 L1640 829.2 L1640.7 829.23 L1641.4 829.25 L1642.1 829.28 L1642.8 829.31 L1643.5 829.34 L1644.2 829.37 L1644.9 829.4 L1645.6 829.45 L1646.3 829.51 L1647 829.59 L1647.7 829.73 L1648.4 829.94 L1649.1 830.23 L1649.8 830.56 L1650.5 830.86 L1651.2 831.09 L1651.9 831.24 L1652.6 831.34 L1653.3 831.4 L1654 831.45 L1654.7 831.48 L1655.4 831.51 L1656.1 831.54 L1656.8 831.57 L1657.5 831.6 L1658.2 831.63 L1658.9 831.65 L1659.6 831.68 L1660.3 831.72 L1661 831.76 L1661.7 831.82 L1662.4 831.9 L1663.1 832.04 L1663.8 832.24 L1664.5 832.52 L1665.2 832.85 L1665.9 833.15 L1666.6 833.39 L1667.3 833.55 L1668 833.65 L1668.7 833.72 L1669.4 833.76 L1670.1 833.8 L1670.8 833.83 L1671.5 833.86 L1672.2 833.89 L1672.9 833.91 L1673.6 833.94 L1674.3 833.97 L1675 834 L1675.7 834.03 L1676.4 834.08 L1677.1 834.13 L1677.8 834.21 L1678.5 834.34 L1679.2 834.54 L1679.9 834.81 L1680.6 835.14 L1681.3 835.45 L1682 835.69 L1682.7 835.86 L1683.4 835.96 L1684.1 836.03 L1684.8 836.08 L1685.5 836.11 L1686.2 836.15 L1686.9 836.18 L1687.6 836.2 L1688.3 836.23 L1689 836.26 L1689.7 836.29 L1690.4 836.32 L1691.1 836.35 L1691.8 836.39 L1692.5 836.44 L1693.2 836.52 L1693.9 836.65 L1694.6 836.84 L1695.3 837.11 L1696 837.43 L1696.7 837.74 L1697.4 837.99 L1698.1 838.16 L1698.8 838.27 L1699.5 838.34 L1700.2 838.39 L1700.9 838.43 L1701.6 838.46 L1702.3 838.49 L1703 838.52 L1703.7 838.55 L1704.4 838.58 L1705.1 838.6 L1705.8 838.63 L1706.5 838.67 L1707.2 838.71 L1707.9 838.76 L1708.6 838.83 L1709.3 838.95 L1710 839.14 L1710.7 839.4 L1711.4 839.72 L1712.1 840.04 L1712.8 840.29 L1713.5 840.47 L1714.2 840.58 L1714.9 840.66 L1715.6 840.71 L1716.3 840.74 L1717 840.78 L1717.7 840.81 L1718.4 840.83 L1719.1 840.86 L1719.8 840.89 L1720.5 840.92 L1721.2 840.95 L1721.9 840.98 L1722.6 841.02 L1723.3 841.07 L1724 841.15 L1724.7 841.26 L1725.4 841.44 L1726.1 841.7 L1726.8 842.02 L1727.5 842.34 L1728.2 842.59 L1728.9 842.77 L1729.6 842.88 L1730.3 842.96 L1731 843.01 L1731.7 843.05 L1732.4 843.08 L1733.1 843.11 L1733.8 843.14 L1734.5 843.17 L1735.2 843.19 L1735.9 843.22 L1736.6 843.25 L1737.3 843.28 L1738 843.33 L1738.7 843.38 L1739.4 843.46 L1740.1 843.59 L1740.8 843.78 L1741.5 844.05 L1742.2 844.36 L1742.9 844.66 L1743.6 844.89 L1744.3 845.05 L1745 845.15 L1745.7 845.22 L1746.4 845.27 L1747.1 845.31 L1747.8 845.34 L1748.5 845.37 L1749.2 845.39 L1749.9 845.42 L1750.6 845.45 L1751.3 845.49 L1752 845.52 L1752.7 845.57 L1753.4 845.63 L1754.1 845.72 L1754.8 845.86 L1755.5 846.08 L1756.2 846.37 L1756.9 846.7 L1757.6 847.01 L1758.3 847.24 L1759 847.4 L1759.7 847.5 L1760.4 847.56 L1761.1 847.61 L1761.8 847.65 L1762.5 847.68 L1763.2 847.71 L1763.9 847.74 L1764.6 847.77 L1765.3 847.8 L1766 847.84 L1766.7 847.87 L1767.4 847.91 L1768.1 847.97 L1768.8 848.05 L1769.5 848.18 L1770.2 848.38 L1770.9 848.66 L1771.6 849 L1772.3 849.32 L1773 849.58 L1773.7 849.76 L1774.4 849.88 L1775.1 849.95 L1775.8 850 L1776.5 850.04 L1777.2 850.08 L1777.9 850.11 L1778.6 850.14 L1779.3 850.17 L1780 850.2 L1780.7 850.23 L1781.4 850.26 L1782.1 850.3 L1782.8 850.34 L1783.5 850.4 L1784.2 850.49 L1784.9 850.63 L1785.6 850.85 L1786.3 851.14 L1787 851.48 L1787.7 851.8 L1788.4 852.04 L1789.1 852.21 L1789.8 852.31 L1790.5 852.38 L1791.2 852.43 L1791.9 852.47 L1792.6 852.5 L1793.3 852.53 L1794 852.56 L1794.7 852.59 L1795.4 852.62 L1796.1 852.65 L1796.8 852.69 L1797.5 852.73 L1798.2 852.79 L1798.9 852.87 L1799.6 853 L1800.3 853.21 L1801 853.49 L1801.7 853.83 L1802.4 854.15 L1803.1 854.41 L1803.8 854.58 L1804.5 854.69 L1805.2 854.77 L1805.9 854.82 L1806.6 854.86 L1807.3 854.89 L1808 854.92 L1808.7 854.95 L1809.4 854.98 L1810.1 855.01 L1810.8 855.04 L1811.5 855.07 L1812.2 855.11 L1812.9 855.16 L1813.6 855.22 L1814.3 855.31 L1815 855.45 L1815.7 855.67 L1816.4 855.96 L1817.1 856.3 L1817.8 856.61 L1818.5 856.85 L1819.2 857.01 L1819.9 857.11 L1820.6 857.18 L1821.3 857.23 L1822 857.27 L1822.7 857.3 L1823.4 857.33 L1824.1 857.36 L1824.8 857.39 L1825.5 857.42 L1826.2 857.45 L1826.9 857.49 L1827.6 857.54 L1828.3 857.6 L1829 857.7 L1829.7 857.85 L1830.4 858.08 L1831.1 858.38 L1831.8 858.72 L1832.5 859.01 L1833.2 859.24 L1833.9 859.38 L1834.6 859.48 L1835.3 859.54 L1836 859.59 L1836.7 859.62 L1837.4 859.66 L1838.1 859.69 L1838.8 859.72 L1839.5 859.75 L1840.2 859.78 L1840.9 859.81 L1841.6 859.84 L1842.3 859.89 L1843 859.95 L1843.7 860.03 L1844.4 860.16 L1845.1 860.37 L1845.8 860.65 L1846.5 860.98 L1847.2 861.28 L1847.9 861.52 L1848.6 861.69 L1849.3 861.79 L1850 861.86 L1850.7 861.91 L1851.4 861.94 L1852.1 861.97 L1852.8 862 L1853.5 862.03 L1854.2 862.06 L1854.9 862.09 L1855.6 862.12 L1856.3 862.15 L1857 862.19 L1857.7 862.25 L1858.4 862.34 L1859.1 862.47 L1859.8 862.67 L1860.5 862.94 L1861.2 863.25 L1861.9 863.53 L1862.6 863.74 L1863.3 863.88 L1864 863.97 L1864.7 864.03 L1865.4 864.08 L1866.1 864.11 L1866.8 864.14 L1867.5 864.17 L1868.2 864.2 L1868.9 864.23 L1869.6 864.26 L1870.3 864.29 L1871 864.32 L1871.7 864.36 L1872.4 864.43 L1873.1 864.52 L1873.8 864.66 L1874.5 864.87 L1875.2 865.15 L1875.9 865.46 L1876.6 865.73 L1877.3 865.93 L1878 866.06 L1878.7 866.14 L1879.4 866.2 L1880.1 866.24 L1880.8 866.27 L1881.5 866.3 L1882.2 866.33 L1882.9 866.36 L1883.6 866.39 L1884.3 866.42 L1885 866.45 L1885.7 866.49 L1886.4 866.53 L1887.1 866.6 L1887.8 866.71 L1888.5 866.88 L1889.2 867.11 L1889.9 867.41 L1890.6 867.7 L1891.3 867.94 L1892 868.11 L1892.7 868.22 L1893.4 868.29 L1894.1 868.34 L1894.8 868.38 L1895.5 868.41 L1896.2 868.44 L1896.9 868.47 L1897.6 868.5 L1898.3 868.53 L1899 868.56 L1899.7 868.59 L1900.4 868.64 L1901.1 868.7 L1901.8 868.8 L1902.5 868.95 L1903.2 869.17 L1903.9 869.45 L1904.6 869.75 L1905.3 870 L1906 870.19 L1906.7 870.3 L1907.4 870.38 L1908.1 870.43 L1908.8 870.47 L1909.5 870.51 L1910.2 870.54 L1910.9 870.57 L1911.6 870.59 L1912.3 870.62 L1913 870.65 L1913.7 870.68 L1914.4 870.73 L1915.1 870.78 L1915.8 870.86 L1916.5 870.98 L1917.2 871.17 L1917.9 871.42 L1918.6 871.7 L1919.3 871.95 L1920 872.14 L1920.7 872.27 L1921.4 872.35 L1922.1 872.41 L1922.8 872.45 L1923.5 872.48 L1924.2 872.52 L1924.9 872.55 L1925.6 872.58 L1926.3 872.62 L1927 872.66 L1927.7 872.73 L1928.4 872.82 L1929.1 872.96 L1929.8 873.15 L1930.5 873.37 L1931.2 873.58 L1931.9 873.73 L1932.6 873.84 L1933.3 873.91 L1934 873.97 L1934.7 873.99 L1935.4 873.99 L1936.1 874 L1937.25 875 L1998 875" fill="none" stroke="#f00a0a" stroke-width="4.7" stroke-linejoin="round" stroke-linecap="round"/>
<path d="M1477.6 905 L1477.9 912 L1479 917.5 L1481.5 921.5 L1485 926 L1488.5 931 L1490.8 938 L1492.3 948 L1493.5 957.7 L1494.65 937.8 L1495.15 917.8 L1495.85 918.55 L1496.56 919.32 L1497.26 920.09 L1497.96 920.89 L1498.66 921.71 L1499.37 922.56 L1500.07 923.46 L1500.77 924.4 L1501.48 925.42 L1502.18 926.54 L1502.88 927.78 L1503.58 929.18 L1504.29 930.8 L1504.99 932.71 L1505.69 934.99 L1506.4 937.77 L1507.1 941.2 L1507.8 945.49 L1508.51 950.9 L1509.21 957.8 L1510.11 937.8 L1510.61 917.8 L1511.31 918.55 L1512.01 919.32 L1512.72 920.09 L1513.42 920.89 L1514.12 921.71 L1514.83 922.56 L1515.53 923.46 L1516.23 924.4 L1516.93 925.42 L1517.64 926.54 L1518.34 927.78 L1519.04 929.18 L1519.75 930.8 L1520.45 932.71 L1521.15 934.99 L1521.85 937.77 L1522.56 941.2 L1523.26 945.49 L1523.96 950.9 L1524.67 957.8 L1525.57 937.8 L1526.07 917.8 L1526.77 918.55 L1527.47 919.32 L1528.17 920.09 L1528.88 920.89 L1529.58 921.71 L1530.28 922.56 L1530.99 923.46 L1531.69 924.4 L1532.39 925.42 L1533.1 926.54 L1533.8 927.78 L1534.5 929.18 L1535.2 930.8 L1535.91 932.71 L1536.61 934.99 L1537.31 937.77 L1538.02 941.2 L1538.72 945.49 L1539.42 950.9 L1540.12 957.8 L1541.02 937.8 L1541.52 917.8 L1542.23 918.55 L1542.93 919.32 L1543.63 920.09 L1544.34 920.89 L1545.04 921.71 L1545.74 922.56 L1546.44 923.46 L1547.15 924.4 L1547.85 925.42 L1548.55 926.54 L1549.26 927.78 L1549.96 929.18 L1550.66 930.8 L1551.36 932.71 L1552.07 934.99 L1552.77 937.77 L1553.47 941.2 L1554.18 945.49 L1554.88 950.9 L1555.58 957.8 L1556.48 937.8 L1556.98 917.8 L1557.69 918.55 L1558.39 919.32 L1559.09 920.09 L1559.79 920.89 L1560.5 921.71 L1561.2 922.56 L1561.9 923.46 L1562.61 924.4 L1563.31 925.42 L1564.01 926.54 L1564.71 927.78 L1565.42 929.18 L1566.12 930.8 L1566.82 932.71 L1567.53 934.99 L1568.23 937.77 L1568.93 941.2 L1569.63 945.49 L1570.34 950.9 L1571.04 957.8 L1571.94 937.8 L1572.44 917.8 L1573.14 918.55 L1573.85 919.32 L1574.55 920.09 L1575.25 920.89 L1575.95 921.71 L1576.66 922.56 L1577.36 923.46 L1578.06 924.4 L1578.77 925.42 L1579.47 926.54 L1580.17 927.78 L1580.88 929.18 L1581.58 930.8 L1582.28 932.71 L1582.98 934.99 L1583.69 937.77 L1584.39 941.2 L1585.09 945.49 L1585.8 950.9 L1586.5 957.8 L1587.4 937.8 L1587.9 917.8 L1588.6 918.55 L1589.3 919.32 L1590.01 920.09 L1590.71 920.89 L1591.41 921.71 L1592.12 922.56 L1592.82 923.46 L1593.52 924.4 L1594.22 925.42 L1594.93 926.54 L1595.63 927.78 L1596.33 929.18 L1597.04 930.8 L1597.74 932.71 L1598.44 934.99 L1599.14 937.77 L1599.85 941.2 L1600.55 945.49 L1601.25 950.9 L1601.96 957.8 L1602.86 937.8 L1603.36 917.8 L1604.06 918.55 L1604.76 919.32 L1605.46 920.09 L1606.17 920.89 L1606.87 921.71 L1607.57 922.56 L1608.28 923.46 L1608.98 924.4 L1609.68 925.42 L1610.39 926.54 L1611.09 927.78 L1611.79 929.18 L1612.49 930.8 L1613.2 932.71 L1613.9 934.99 L1614.6 937.77 L1615.31 941.2 L1616.01 945.49 L1616.71 950.9 L1617.41 957.8 L1618.31 937.8 L1618.81 917.8 L1619.52 918.55 L1620.22 919.32 L1620.92 920.09 L1621.63 920.89 L1622.33 921.71 L1623.03 922.56 L1623.73 923.46 L1624.44 924.4 L1625.14 925.42 L1625.84 926.54 L1626.55 927.78 L1627.25 929.18 L1627.95 930.8 L1628.65 932.71 L1629.36 934.99 L1630.06 937.77 L1630.76 941.2 L1631.47 945.49 L1632.17 950.9 L1632.87 957.8 L1633.77 937.8 L1634.27 917.8 L1634.98 918.55 L1635.68 919.32 L1636.38 920.09 L1637.08 920.89 L1637.79 921.71 L1638.49 922.56 L1639.19 923.46 L1639.9 924.4 L1640.6 925.42 L1641.3 926.54 L1642 927.78 L1642.71 929.18 L1643.41 930.8 L1644.11 932.71 L1644.82 934.99 L1645.52 937.77 L1646.22 941.2 L1646.92 945.49 L1647.63 950.9 L1648.33 957.8 L1649.23 937.8 L1649.73 917.8 L1650.43 918.55 L1651.14 919.32 L1651.84 920.09 L1652.54 920.89 L1653.24 921.71 L1653.95 922.56 L1654.65 923.46 L1655.35 924.4 L1656.06 925.42 L1656.76 926.54 L1657.46 927.78 L1658.17 929.18 L1658.87 930.8 L1659.57 932.71 L1660.27 934.99 L1660.98 937.77 L1661.68 941.2 L1662.38 945.49 L1663.09 950.9 L1663.79 957.8 L1664.69 937.8 L1665.19 917.8 L1665.89 918.55 L1666.59 919.32 L1667.3 920.09 L1668 920.89 L1668.7 921.71 L1669.41 922.56 L1670.11 923.46 L1670.81 924.4 L1671.51 925.42 L1672.22 926.54 L1672.92 927.78 L1673.62 929.18 L1674.33 930.8 L1675.03 932.71 L1675.73 934.99 L1676.43 937.77 L1677.14 941.2 L1677.84 945.49 L1678.54 950.9 L1679.25 957.8 L1680.15 937.8 L1680.65 917.8 L1681.35 918.55 L1682.05 919.32 L1682.76 920.09 L1683.46 920.89 L1684.16 921.71 L1684.86 922.56 L1685.57 923.46 L1686.27 924.4 L1686.97 925.42 L1687.68 926.54 L1688.38 927.78 L1689.08 929.18 L1689.78 930.8 L1690.49 932.71 L1691.19 934.99 L1691.89 937.77 L1692.6 941.2 L1693.3 945.49 L1694 950.9 L1694.7 957.8 L1695.6 937.8 L1696.1 917.8 L1696.81 918.55 L1697.51 919.32 L1698.21 920.09 L1698.92 920.89 L1699.62 921.71 L1700.32 922.56 L1701.02 923.46 L1701.73 924.4 L1702.43 925.42 L1703.13 926.54 L1703.84 927.78 L1704.54 929.18 L1705.24 930.8 L1705.94 932.71 L1706.65 934.99 L1707.35 937.77 L1708.05 941.2 L1708.76 945.49 L1709.46 950.9 L1710.16 957.8 L1711.06 937.8 L1711.56 917.8 L1712.26 918.55 L1712.96 919.32 L1713.67 920.09 L1714.37 920.89 L1715.07 921.71 L1715.77 922.56 L1716.47 923.46 L1717.17 924.4 L1717.87 925.42 L1718.57 926.54 L1719.27 927.78 L1719.97 929.18 L1720.68 930.8 L1721.38 932.71 L1722.08 934.99 L1722.78 937.77 L1723.48 941.2 L1724.18 945.49 L1724.88 950.9 L1725.58 957.8 L1726.48 937.8 L1726.98 917.8 L1727.68 918.55 L1728.37 919.32 L1729.06 920.09 L1729.75 920.89 L1730.45 921.71 L1731.14 922.56 L1731.83 923.46 L1732.53 924.4 L1733.22 925.42 L1733.91 926.54 L1734.6 927.78 L1735.3 929.18 L1735.99 930.8 L1736.68 932.71 L1737.38 934.99 L1738.07 937.77 L1738.76 941.2 L1739.45 945.49 L1740.15 950.9 L1740.84 957.8 L1741.74 937.8 L1742.24 917.8 L1742.9 918.55 L1743.56 919.32 L1744.22 920.09 L1744.88 920.89 L1745.54 921.71 L1746.2 922.56 L1746.86 923.46 L1747.52 924.4 L1748.17 925.42 L1748.83 926.54 L1749.49 927.78 L1750.15 929.18 L1750.81 930.8 L1751.47 932.71 L1752.13 934.99 L1752.79 937.77 L1753.45 941.2 L1754.11 945.49 L1754.77 950.9 L1755.43 957.8 L1756.33 937.8 L1756.83 917.8 L1757.5 918.55 L1758.18 919.32 L1758.85 920.09 L1759.52 920.89 L1760.2 921.71 L1760.87 922.56 L1761.55 923.46 L1762.22 924.4 L1762.9 925.42 L1763.57 926.54 L1764.24 927.78 L1764.92 929.18 L1765.59 930.8 L1766.27 932.71 L1766.94 934.99 L1767.62 937.77 L1768.29 941.2 L1768.96 945.49 L1769.64 950.9 L1770.31 957.8 L1771.21 937.8 L1771.71 917.8 L1772.41 918.55 L1773.1 919.32 L1773.79 920.09 L1774.48 920.89 L1775.18 921.71 L1775.87 922.56 L1776.56 923.46 L1777.26 924.4 L1777.95 925.42 L1778.64 926.54 L1779.33 927.78 L1780.03 929.18 L1780.72 930.8 L1781.41 932.71 L1782.11 934.99 L1782.8 937.77 L1783.49 941.2 L1784.18 945.49 L1784.88 950.9 L1785.57 957.8 L1786.47 937.8 L1786.97 917.8 L1787.64 918.55 L1788.31 919.32 L1788.98 920.09 L1789.65 920.89 L1790.32 921.71 L1790.99 922.56 L1791.66 923.46 L1792.33 924.4 L1793 925.42 L1793.67 926.54 L1794.35 927.78 L1795.02 929.18 L1795.69 930.8 L1796.36 932.71 L1797.03 934.99 L1797.7 937.77 L1798.37 941.2 L1799.04 945.49 L1799.71 950.9 L1800.38 957.8 L1801.28 937.8 L1801.78 917.8 L1802.47 918.55 L1803.17 919.32 L1803.86 920.09 L1804.55 920.89 L1805.24 921.71 L1805.94 922.56 L1806.63 923.46 L1807.32 924.4 L1808.02 925.42 L1808.71 926.54 L1809.4 927.78 L1810.09 929.18 L1810.79 930.8 L1811.48 932.71 L1812.17 934.99 L1812.87 937.77 L1813.56 941.2 L1814.25 945.49 L1814.94 950.9 L1815.64 957.8 L1816.54 937.8 L1817.04 917.8 L1817.7 918.55 L1818.36 919.32 L1819.02 920.09 L1819.67 920.89 L1820.33 921.71 L1820.99 922.56 L1821.65 923.46 L1822.31 924.4 L1822.97 925.42 L1823.63 926.54 L1824.29 927.78 L1824.95 929.18 L1825.61 930.8 L1826.27 932.71 L1826.93 934.99 L1827.59 937.77 L1828.25 941.2 L1828.91 945.49 L1829.56 950.9 L1830.22 957.8 L1831.12 937.8 L1831.62 917.8 L1832.3 918.55 L1832.97 919.32 L1833.65 920.09 L1834.32 920.89 L1835 921.71 L1835.67 922.56 L1836.34 923.46 L1837.02 924.4 L1837.69 925.42 L1838.37 926.54 L1839.04 927.78 L1839.72 929.18 L1840.39 930.8 L1841.06 932.71 L1841.74 934.99 L1842.41 937.77 L1843.09 941.2 L1843.76 945.49 L1844.44 950.9 L1845.11 957.8 L1846.01 937.8 L1846.51 917.8 L1847.17 918.55 L1847.83 919.32 L1848.49 920.09 L1849.15 920.89 L1849.81 921.71 L1850.47 922.56 L1851.12 923.46 L1851.78 924.4 L1852.44 925.42 L1853.1 926.54 L1853.76 927.78 L1854.42 929.18 L1855.08 930.8 L1855.74 932.71 L1856.4 934.99 L1857.06 937.77 L1857.72 941.2 L1858.38 945.49 L1859.04 950.9 L1859.7 957.8 L1860.6 937.8 L1861.1 917.8 L1861.76 918.55 L1862.42 919.32 L1863.07 920.09 L1863.73 920.89 L1864.39 921.71 L1865.05 922.56 L1865.71 923.46 L1866.37 924.4 L1867.03 925.42 L1867.69 926.54 L1868.35 927.78 L1869.01 929.18 L1869.67 930.8 L1870.33 932.71 L1870.99 934.99 L1871.65 937.77 L1872.31 941.2 L1872.97 945.49 L1873.62 950.9 L1874.28 957.8 L1875.18 937.8 L1875.68 917.8 L1876.34 918.55 L1876.99 919.32 L1877.64 920.09 L1878.29 920.89 L1878.94 921.71 L1879.6 922.56 L1880.25 923.46 L1880.9 924.4 L1881.55 925.42 L1882.2 926.54 L1882.85 927.78 L1883.51 929.18 L1884.16 930.8 L1884.81 932.71 L1885.46 934.99 L1886.11 937.77 L1886.77 941.2 L1887.42 945.49 L1888.07 950.9 L1888.72 957.8 L1889.62 937.8 L1890.12 917.8 L1890.76 918.55 L1891.4 919.32 L1892.03 920.09 L1892.67 920.89 L1893.31 921.71 L1893.94 922.56 L1894.58 923.46 L1895.22 924.4 L1895.86 925.42 L1896.49 926.54 L1897.13 927.78 L1897.77 929.18 L1898.4 930.8 L1899.04 932.71 L1899.68 934.99 L1900.31 937.77 L1900.95 941.2 L1901.59 945.49 L1902.23 950.9 L1902.86 957.8 L1903.76 937.8 L1904.26 917.8 L1904.9 918.55 L1905.54 919.32 L1906.19 920.09 L1906.83 920.89 L1907.47 921.71 L1908.11 922.56 L1908.75 923.46 L1909.39 924.4 L1910.03 925.42 L1910.67 926.54 L1911.31 927.78 L1911.95 929.18 L1912.59 930.8 L1913.23 932.71 L1913.87 934.99 L1914.51 937.77 L1915.16 941.2 L1915.8 945.49 L1916.44 950.9 L1917.08 957.8 L1917.98 937.8 L1918.48 917.8 L1919.01 918.55 L1919.54 919.32 L1920.07 920.09 L1920.59 920.89 L1921.12 921.71 L1921.65 922.56 L1922.18 923.46 L1922.71 924.4 L1923.24 925.42 L1923.77 926.54 L1924.3 927.78 L1924.83 929.18 L1925.36 930.8 L1925.89 932.71 L1926.41 934.99 L1926.94 937.77 L1927.47 941.2 L1928 945.49 L1928.53 950.9 L1929.06 957.8 L1929.96 937.8 L1930.46 909 L1931.96 918 L1933.46 935 L1934.26 950 L1934.86 986.8 L1998 986.8" fill="none" stroke="#158a15" stroke-width="4.7" stroke-linejoin="round" stroke-linecap="round"/>
<path d="M1477.6 1085 L1477.8 1091 L1478.6 1095 L1480.5 1097.6 L1483 1098.4 L1493.35 1098.9 L1495.75 1094.59 L1508.81 1095.09 L1511.21 1091.6 L1524.27 1092.1 L1526.67 1088.61 L1539.72 1089.11 L1542.12 1085.61 L1555.18 1086.11 L1557.58 1082.71 L1570.64 1083.21 L1573.04 1080.12 L1586.1 1080.62 L1588.5 1077.52 L1601.56 1078.02 L1603.96 1074.93 L1617.01 1075.43 L1619.41 1072.33 L1632.47 1072.83 L1634.87 1069.74 L1647.93 1070.24 L1650.33 1067.14 L1663.39 1067.64 L1665.79 1064.55 L1678.85 1065.05 L1681.25 1061.95 L1694.3 1062.45 L1696.7 1059.39 L1709.76 1059.89 L1712.16 1056.97 L1725.18 1057.47 L1727.58 1054.57 L1740.44 1055.07 L1742.84 1052.23 L1755.03 1052.73 L1757.43 1049.92 L1769.91 1050.42 L1772.31 1047.56 L1785.17 1048.06 L1787.57 1045.2 L1799.98 1045.7 L1802.38 1042.85 L1815.24 1043.35 L1817.64 1040.51 L1829.82 1041.01 L1832.22 1038.2 L1844.71 1038.7 L1847.11 1035.95 L1859.3 1036.45 L1861.7 1033.99 L1873.88 1034.49 L1876.28 1032.05 L1888.32 1032.55 L1890.72 1030.13 L1902.46 1030.63 L1904.86 1028.23 L1916.68 1028.73 L1919.08 1026.47 L1928.66 1026.97 L1931.06 1025 L1933.25 1025.4 L1935.75 1023.8 L1998 1023.8" fill="none" stroke="#0c0ce0" stroke-width="4.7" stroke-linejoin="round" stroke-linecap="round"/>
<path d="M1478 1135 L1478.2 1142.5 L1479 1143.65 L1479.7 1143.69 L1480.4 1143.72 L1481.1 1143.76 L1481.8 1143.79 L1482.5 1143.83 L1483.2 1143.87 L1483.9 1143.9 L1484.6 1143.94 L1485.3 1143.97 L1486 1144.01 L1486.7 1144.05 L1487.4 1144.08 L1488.1 1144.12 L1488.8 1144.16 L1489.5 1144.2 L1490.2 1144.24 L1490.9 1144.29 L1491.6 1144.35 L1492.3 1144.44 L1493 1144.56 L1493.7 1144.75 L1494.4 1145.01 L1495.1 1145.31 L1495.8 1145.6 L1496.5 1145.82 L1497.2 1145.98 L1497.9 1146.09 L1498.6 1146.16 L1499.3 1146.22 L1500 1146.26 L1500.7 1146.31 L1501.4 1146.34 L1502.1 1146.38 L1502.8 1146.42 L1503.5 1146.45 L1504.2 1146.49 L1504.9 1146.53 L1505.6 1146.57 L1506.3 1146.61 L1507 1146.66 L1507.7 1146.73 L1508.4 1146.82 L1509.1 1146.95 L1509.8 1147.12 L1510.5 1147.32 L1511.2 1147.52 L1511.9 1147.68 L1512.6 1147.79 L1513.3 1147.87 L1514 1147.93 L1514.7 1147.98 L1515.4 1148.03 L1516.1 1148.07 L1516.8 1148.1 L1517.5 1148.14 L1518.2 1148.18 L1518.9 1148.21 L1519.6 1148.25 L1520.3 1148.29 L1521 1148.33 L1521.7 1148.37 L1522.4 1148.42 L1523.1 1148.48 L1523.8 1148.57 L1524.5 1148.7 L1525.2 1148.86 L1525.9 1149.06 L1526.6 1149.26 L1527.3 1149.42 L1528 1149.54 L1528.7 1149.63 L1529.4 1149.69 L1530.1 1149.74 L1530.8 1149.78 L1531.5 1149.82 L1532.2 1149.86 L1532.9 1149.9 L1533.6 1149.93 L1534.3 1149.97 L1535 1150.01 L1535.7 1150.05 L1536.4 1150.08 L1537.1 1150.13 L1537.8 1150.18 L1538.5 1150.24 L1539.2 1150.32 L1539.9 1150.45 L1540.6 1150.61 L1541.3 1150.81 L1542 1151.01 L1542.7 1151.17 L1543.4 1151.3 L1544.1 1151.38 L1544.8 1151.45 L1545.5 1151.5 L1546.2 1151.54 L1546.9 1151.58 L1547.6 1151.62 L1548.3 1151.66 L1549 1151.69 L1549.7 1151.73 L1550.4 1151.77 L1551.1 1151.8 L1551.8 1151.84 L1552.5 1151.89 L1553.2 1151.93 L1553.9 1152 L1554.6 1152.08 L1555.3 1152.19 L1556 1152.36 L1556.7 1152.55 L1557.4 1152.75 L1558.1 1152.92 L1558.8 1153.05 L1559.5 1153.14 L1560.2 1153.2 L1560.9 1153.26 L1561.6 1153.3 L1562.3 1153.34 L1563 1153.38 L1563.7 1153.41 L1564.4 1153.45 L1565.1 1153.49 L1565.8 1153.52 L1566.5 1153.56 L1567.2 1153.6 L1567.9 1153.64 L1568.6 1153.69 L1569.3 1153.75 L1570 1153.83 L1570.7 1153.94 L1571.4 1154.1 L1572.1 1154.3 L1572.8 1154.5 L1573.5 1154.67 L1574.2 1154.8 L1574.9 1154.89 L1575.6 1154.96 L1576.3 1155.01 L1577 1155.06 L1577.7 1155.1 L1578.4 1155.14 L1579.1 1155.17 L1579.8 1155.21 L1580.5 1155.25 L1581.2 1155.28 L1581.9 1155.32 L1582.6 1155.36 L1583.3 1155.4 L1584 1155.45 L1584.7 1155.51 L1585.4 1155.58 L1586.1 1155.7 L1586.8 1155.85 L1587.5 1156.04 L1588.2 1156.24 L1588.9 1156.42 L1589.6 1156.55 L1590.3 1156.65 L1591 1156.72 L1591.7 1156.77 L1592.4 1156.82 L1593.1 1156.86 L1593.8 1156.89 L1594.5 1156.93 L1595.2 1156.97 L1595.9 1157 L1596.6 1157.04 L1597.3 1157.08 L1598 1157.12 L1598.7 1157.16 L1599.4 1157.21 L1600.1 1157.27 L1600.8 1157.35 L1601.5 1157.46 L1602.2 1157.62 L1602.9 1157.82 L1603.6 1158.04 L1604.3 1158.23 L1605 1158.38 L1605.7 1158.48 L1606.4 1158.56 L1607.1 1158.61 L1607.8 1158.66 L1608.5 1158.71 L1609.2 1158.75 L1609.9 1158.79 L1610.6 1158.83 L1611.3 1158.87 L1612 1158.91 L1612.7 1158.95 L1613.4 1158.99 L1614.1 1159.03 L1614.8 1159.08 L1615.5 1159.14 L1616.2 1159.22 L1616.9 1159.34 L1617.6 1159.49 L1618.3 1159.7 L1619 1159.92 L1619.7 1160.12 L1620.4 1160.27 L1621.1 1160.38 L1621.8 1160.46 L1622.5 1160.51 L1623.2 1160.56 L1623.9 1160.61 L1624.6 1160.65 L1625.3 1160.69 L1626 1160.73 L1626.7 1160.77 L1627.4 1160.81 L1628.1 1160.85 L1628.8 1160.89 L1629.5 1160.93 L1630.2 1160.98 L1630.9 1161.04 L1631.6 1161.12 L1632.3 1161.23 L1633 1161.39 L1633.7 1161.59 L1634.4 1161.81 L1635.1 1162.01 L1635.8 1162.16 L1636.5 1162.28 L1637.2 1162.36 L1637.9 1162.42 L1638.6 1162.47 L1639.3 1162.51 L1640 1162.55 L1640.7 1162.59 L1641.4 1162.63 L1642.1 1162.67 L1642.8 1162.71 L1643.5 1162.75 L1644.2 1162.79 L1644.9 1162.84 L1645.6 1162.89 L1646.3 1162.95 L1647 1163.02 L1647.7 1163.13 L1648.4 1163.28 L1649.1 1163.47 L1649.8 1163.69 L1650.5 1163.9 L1651.2 1164.06 L1651.9 1164.17 L1652.6 1164.26 L1653.3 1164.32 L1654 1164.37 L1654.7 1164.41 L1655.4 1164.46 L1656.1 1164.5 L1656.8 1164.54 L1657.5 1164.58 L1658.2 1164.62 L1658.9 1164.66 L1659.6 1164.7 L1660.3 1164.74 L1661 1164.79 L1661.7 1164.85 L1662.4 1164.92 L1663.1 1165.02 L1663.8 1165.17 L1664.5 1165.36 L1665.2 1165.58 L1665.9 1165.79 L1666.6 1165.95 L1667.3 1166.07 L1668 1166.16 L1668.7 1166.22 L1669.4 1166.27 L1670.1 1166.32 L1670.8 1166.36 L1671.5 1166.4 L1672.2 1166.44 L1672.9 1166.48 L1673.6 1166.52 L1674.3 1166.56 L1675 1166.6 L1675.7 1166.64 L1676.4 1166.69 L1677.1 1166.75 L1677.8 1166.82 L1678.5 1166.92 L1679.2 1167.06 L1679.9 1167.25 L1680.6 1167.47 L1681.3 1167.68 L1682 1167.85 L1682.7 1167.97 L1683.4 1168.06 L1684.1 1168.12 L1684.8 1168.17 L1685.5 1168.22 L1686.2 1168.26 L1686.9 1168.3 L1687.6 1168.34 L1688.3 1168.38 L1689 1168.42 L1689.7 1168.46 L1690.4 1168.5 L1691.1 1168.55 L1691.8 1168.59 L1692.5 1168.65 L1693.2 1168.72 L1693.9 1168.82 L1694.6 1168.96 L1695.3 1169.14 L1696 1169.36 L1696.7 1169.57 L1697.4 1169.74 L1698.1 1169.87 L1698.8 1169.96 L1699.5 1170.02 L1700.2 1170.08 L1700.9 1170.12 L1701.6 1170.17 L1702.3 1170.21 L1703 1170.25 L1703.7 1170.29 L1704.4 1170.32 L1705.1 1170.36 L1705.8 1170.41 L1706.5 1170.45 L1707.2 1170.5 L1707.9 1170.55 L1708.6 1170.62 L1709.3 1170.71 L1710 1170.85 L1710.7 1171.03 L1711.4 1171.25 L1712.1 1171.46 L1712.8 1171.64 L1713.5 1171.77 L1714.2 1171.86 L1714.9 1171.92 L1715.6 1171.98 L1716.3 1172.02 L1717 1172.07 L1717.7 1172.11 L1718.4 1172.15 L1719.1 1172.19 L1719.8 1172.23 L1720.5 1172.27 L1721.2 1172.31 L1721.9 1172.35 L1722.6 1172.4 L1723.3 1172.45 L1724 1172.52 L1724.7 1172.61 L1725.4 1172.75 L1726.1 1172.92 L1726.8 1173.14 L1727.5 1173.35 L1728.2 1173.53 L1728.9 1173.66 L1729.6 1173.75 L1730.3 1173.82 L1731 1173.87 L1731.7 1173.92 L1732.4 1173.96 L1733.1 1174 L1733.8 1174.04 L1734.5 1174.08 L1735.2 1174.12 L1735.9 1174.16 L1736.6 1174.2 L1737.3 1174.25 L1738 1174.29 L1738.7 1174.35 L1739.4 1174.42 L1740.1 1174.52 L1740.8 1174.66 L1741.5 1174.84 L1742.2 1175.06 L1742.9 1175.26 L1743.6 1175.42 L1744.3 1175.54 L1745 1175.63 L1745.7 1175.69 L1746.4 1175.74 L1747.1 1175.79 L1747.8 1175.83 L1748.5 1175.87 L1749.2 1175.91 L1749.9 1175.95 L1750.6 1175.99 L1751.3 1176.03 L1752 1176.08 L1752.7 1176.13 L1753.4 1176.18 L1754.1 1176.26 L1754.8 1176.37 L1755.5 1176.51 L1756.2 1176.7 L1756.9 1176.92 L1757.6 1177.12 L1758.3 1177.27 L1759 1177.39 L1759.7 1177.47 L1760.4 1177.53 L1761.1 1177.58 L1761.8 1177.63 L1762.5 1177.67 L1763.2 1177.71 L1763.9 1177.75 L1764.6 1177.79 L1765.3 1177.83 L1766 1177.87 L1766.7 1177.91 L1767.4 1177.96 L1768.1 1178.02 L1768.8 1178.09 L1769.5 1178.19 L1770.2 1178.32 L1770.9 1178.51 L1771.6 1178.72 L1772.3 1178.93 L1773 1179.11 L1773.7 1179.23 L1774.4 1179.32 L1775.1 1179.39 L1775.8 1179.44 L1776.5 1179.49 L1777.2 1179.53 L1777.9 1179.57 L1778.6 1179.61 L1779.3 1179.65 L1780 1179.69 L1780.7 1179.73 L1781.4 1179.77 L1782.1 1179.82 L1782.8 1179.87 L1783.5 1179.93 L1784.2 1180 L1784.9 1180.1 L1785.6 1180.25 L1786.3 1180.44 L1787 1180.66 L1787.7 1180.87 L1788.4 1181.03 L1789.1 1181.14 L1789.8 1181.23 L1790.5 1181.29 L1791.2 1181.34 L1791.9 1181.39 L1792.6 1181.43 L1793.3 1181.47 L1794 1181.51 L1794.7 1181.55 L1795.4 1181.59 L1796.1 1181.63 L1796.8 1181.68 L1797.5 1181.73 L1798.2 1181.78 L1798.9 1181.85 L1799.6 1181.95 L1800.3 1182.09 L1801 1182.28 L1801.7 1182.49 L1802.4 1182.7 L1803.1 1182.87 L1803.8 1183 L1804.5 1183.08 L1805.2 1183.15 L1805.9 1183.2 L1806.6 1183.25 L1807.3 1183.29 L1808 1183.33 L1808.7 1183.37 L1809.4 1183.41 L1810.1 1183.45 L1810.8 1183.49 L1811.5 1183.53 L1812.2 1183.58 L1812.9 1183.63 L1813.6 1183.69 L1814.3 1183.76 L1815 1183.87 L1815.7 1184.02 L1816.4 1184.21 L1817.1 1184.42 L1817.8 1184.63 L1818.5 1184.79 L1819.2 1184.9 L1819.9 1184.98 L1820.6 1185.04 L1821.3 1185.1 L1822 1185.14 L1822.7 1185.18 L1823.4 1185.22 L1824.1 1185.26 L1824.8 1185.3 L1825.5 1185.35 L1826.2 1185.39 L1826.9 1185.43 L1827.6 1185.48 L1828.3 1185.54 L1829 1185.62 L1829.7 1185.73 L1830.4 1185.89 L1831.1 1186.08 L1831.8 1186.3 L1832.5 1186.49 L1833.2 1186.64 L1833.9 1186.75 L1834.6 1186.83 L1835.3 1186.89 L1836 1186.94 L1836.7 1186.98 L1837.4 1187.02 L1838.1 1187.06 L1838.8 1187.1 L1839.5 1187.14 L1840.2 1187.19 L1840.9 1187.23 L1841.6 1187.27 L1842.3 1187.32 L1843 1187.38 L1843.7 1187.45 L1844.4 1187.55 L1845.1 1187.69 L1845.8 1187.87 L1846.5 1188.08 L1847.2 1188.28 L1847.9 1188.44 L1848.6 1188.55 L1849.3 1188.64 L1850 1188.7 L1850.7 1188.75 L1851.4 1188.79 L1852.1 1188.83 L1852.8 1188.86 L1853.5 1188.9 L1854.2 1188.94 L1854.9 1188.97 L1855.6 1189.01 L1856.3 1189.05 L1857 1189.1 L1857.7 1189.15 L1858.4 1189.22 L1859.1 1189.31 L1859.8 1189.45 L1860.5 1189.62 L1861.2 1189.81 L1861.9 1189.99 L1862.6 1190.13 L1863.3 1190.23 L1864 1190.3 L1864.7 1190.35 L1865.4 1190.4 L1866.1 1190.44 L1866.8 1190.48 L1867.5 1190.52 L1868.2 1190.55 L1868.9 1190.59 L1869.6 1190.63 L1870.3 1190.66 L1871 1190.7 L1871.7 1190.75 L1872.4 1190.8 L1873.1 1190.88 L1873.8 1190.98 L1874.5 1191.12 L1875.2 1191.29 L1875.9 1191.48 L1876.6 1191.66 L1877.3 1191.79 L1878 1191.88 L1878.7 1191.95 L1879.4 1192 L1880.1 1192.05 L1880.8 1192.09 L1881.5 1192.12 L1882.2 1192.16 L1882.9 1192.2 L1883.6 1192.23 L1884.3 1192.27 L1885 1192.31 L1885.7 1192.35 L1886.4 1192.4 L1887.1 1192.46 L1887.8 1192.54 L1888.5 1192.65 L1889.2 1192.81 L1889.9 1192.99 L1890.6 1193.18 L1891.3 1193.33 L1892 1193.45 L1892.7 1193.53 L1893.4 1193.59 L1894.1 1193.64 L1894.8 1193.68 L1895.5 1193.72 L1896.2 1193.76 L1896.9 1193.79 L1897.6 1193.83 L1898.3 1193.87 L1899 1193.91 L1899.7 1193.95 L1900.4 1193.99 L1901.1 1194.05 L1901.8 1194.13 L1902.5 1194.23 L1903.2 1194.37 L1903.9 1194.55 L1904.6 1194.74 L1905.3 1194.9 L1906 1195.02 L1906.7 1195.11 L1907.4 1195.18 L1908.1 1195.23 L1908.8 1195.27 L1909.5 1195.31 L1910.2 1195.35 L1910.9 1195.38 L1911.6 1195.42 L1912.3 1195.46 L1913 1195.49 L1913.7 1195.53 L1914.4 1195.58 L1915.1 1195.63 L1915.8 1195.7 L1916.5 1195.79 L1917.2 1195.91 L1917.9 1196.07 L1918.6 1196.25 L1919.3 1196.41 L1920 1196.54 L1920.7 1196.63 L1921.4 1196.7 L1922.1 1196.75 L1922.8 1196.79 L1923.5 1196.83 L1924.2 1196.87 L1924.9 1196.91 L1925.6 1196.95 L1926.3 1196.99 L1927 1197.04 L1927.7 1197.09 L1928.4 1197.17 L1929.1 1197.27 L1929.8 1197.39 L1930.5 1197.54 L1931.2 1197.67 L1931.9 1197.78 L1932.6 1197.86 L1933.3 1197.92 L1934 1197.97 L1934.7 1197.99 L1935.4 1198 L1936.1 1198 L1937.25 1198.7 L1998 1198.7" fill="none" stroke="#ee14ee" stroke-width="4.7" stroke-linejoin="round" stroke-linecap="round"/>
<path d="M1477.4 1256.5 L1477.7 1244 L1478.4 1237.8 L1480.2 1235.2 L1485 1234.4 L1489 1233.8 L1491.5 1232 L1492.05 1231.34 L1493.65 1231.14 L1496.05 1235.54 L1497.65 1235.74 L1505.61 1234.58 L1507.51 1233.78 L1509.11 1233.58 L1511.51 1237.98 L1513.11 1238.18 L1521.07 1237.02 L1522.97 1236.22 L1524.57 1236.02 L1526.97 1240.42 L1528.57 1240.62 L1536.52 1239.46 L1538.42 1238.66 L1540.02 1238.46 L1542.42 1242.86 L1544.02 1243.06 L1551.98 1241.89 L1553.88 1241.09 L1555.48 1240.89 L1557.88 1245.29 L1559.48 1245.49 L1567.44 1244.33 L1569.34 1243.53 L1570.94 1243.33 L1573.34 1247.73 L1574.94 1247.93 L1582.9 1246.77 L1584.8 1245.97 L1586.4 1245.77 L1588.8 1250.17 L1590.4 1250.37 L1598.36 1249.2 L1600.26 1248.4 L1601.86 1248.2 L1604.26 1252.6 L1605.86 1252.8 L1613.81 1251.64 L1615.71 1250.84 L1617.31 1250.64 L1619.71 1255.04 L1621.31 1255.24 L1629.27 1254.08 L1631.17 1253.28 L1632.77 1253.08 L1635.17 1257.48 L1636.77 1257.68 L1644.73 1256.51 L1646.63 1255.71 L1648.23 1255.51 L1650.63 1259.91 L1652.23 1260.11 L1660.19 1258.95 L1662.09 1258.15 L1663.69 1257.95 L1666.09 1262.35 L1667.69 1262.55 L1675.65 1261.39 L1677.55 1260.59 L1679.15 1260.39 L1681.55 1264.79 L1683.15 1264.99 L1691.1 1263.82 L1693 1263.02 L1694.6 1262.82 L1697 1267.22 L1698.6 1267.42 L1706.56 1266.26 L1708.46 1265.46 L1710.06 1265.26 L1712.46 1269.66 L1714.06 1269.86 L1721.98 1268.69 L1723.88 1267.89 L1725.48 1267.69 L1727.88 1272.09 L1729.48 1272.29 L1737.24 1271.1 L1739.14 1270.3 L1740.74 1270.1 L1743.14 1274.5 L1744.74 1274.7 L1751.83 1273.4 L1753.73 1272.6 L1755.33 1272.4 L1757.73 1276.8 L1759.33 1277 L1766.71 1275.74 L1768.61 1274.94 L1770.21 1274.74 L1772.61 1279.14 L1774.21 1279.34 L1781.97 1278.15 L1783.87 1277.35 L1785.47 1277.15 L1787.87 1281.55 L1789.47 1281.75 L1796.78 1280.48 L1798.68 1279.68 L1800.28 1279.48 L1802.68 1283.88 L1804.28 1284.08 L1812.04 1282.89 L1813.94 1282.09 L1815.54 1281.89 L1817.94 1286.29 L1819.54 1286.49 L1826.62 1285.19 L1828.52 1284.39 L1830.12 1284.19 L1832.52 1288.59 L1834.12 1288.79 L1841.51 1287.53 L1843.41 1286.73 L1845.01 1286.53 L1847.41 1290.93 L1849.01 1291.13 L1856.1 1289.83 L1858 1289.03 L1859.6 1288.83 L1862 1293.23 L1863.6 1293.43 L1870.68 1292.13 L1872.58 1291.33 L1874.18 1291.13 L1876.58 1295.53 L1878.18 1295.73 L1885.12 1294.41 L1887.02 1293.61 L1888.62 1293.41 L1891.02 1297.81 L1892.62 1298.01 L1899.26 1296.64 L1901.16 1295.84 L1902.76 1295.64 L1905.16 1300.04 L1906.76 1300.24 L1913.48 1298.88 L1915.38 1298.08 L1916.98 1297.88 L1919.38 1302.28 L1920.98 1302.48 L1925.46 1300.77 L1927.36 1299.97 L1928.96 1299.77 L1931.36 1304.17 L1932.96 1304.37 L1933.25 1302.5 L1937.25 1305.6 L1998 1305.6" fill="none" stroke="#f5820f" stroke-width="4.7" stroke-linejoin="round" stroke-linecap="round"/>
<line x1="1364.7" y1="783.05" x2="1364.7" y2="1332.95" stroke="#000" stroke-width="4.7" stroke-linecap="butt" />
<line x1="2043.8" y1="783.05" x2="2043.8" y2="1332.95" stroke="#000" stroke-width="4.7" stroke-linecap="butt" />
<line x1="1364.7" y1="785.4" x2="2043.8" y2="785.4" stroke="#000" stroke-width="4.6" stroke-linecap="butt" />
<line x1="1364.7" y1="894.4" x2="2043.8" y2="894.4" stroke="#000" stroke-width="4.6" stroke-linecap="butt" />
<line x1="1364.7" y1="1003.5" x2="2043.8" y2="1003.5" stroke="#000" stroke-width="4.6" stroke-linecap="butt" />
<line x1="1364.7" y1="1112.5" x2="2043.8" y2="1112.5" stroke="#000" stroke-width="4.6" stroke-linecap="butt" />
<line x1="1364.7" y1="1221.5" x2="2043.8" y2="1221.5" stroke="#000" stroke-width="4.6" stroke-linecap="butt" />
<line x1="1364.7" y1="1330.6" x2="2043.8" y2="1330.6" stroke="#000" stroke-width="4.6" stroke-linecap="butt" />
<line x1="1477.8" y1="894.4" x2="1477.8" y2="881.4" stroke="#000" stroke-width="4.6" stroke-linecap="butt" />
<line x1="1591" y1="894.4" x2="1591" y2="887.8" stroke="#000" stroke-width="4.6" stroke-linecap="butt" />
<line x1="1704.2" y1="894.4" x2="1704.2" y2="881.4" stroke="#000" stroke-width="4.6" stroke-linecap="butt" />
<line x1="1817.4" y1="894.4" x2="1817.4" y2="887.8" stroke="#000" stroke-width="4.6" stroke-linecap="butt" />
<line x1="1930.6" y1="894.4" x2="1930.6" y2="881.4" stroke="#000" stroke-width="4.6" stroke-linecap="butt" />
<line x1="1364.7" y1="816.3" x2="1378" y2="816.3" stroke="#000" stroke-width="4.4" stroke-linecap="butt" />
<text x="1349.2" y="828.7" font-size="40.3" text-anchor="end" fill="#000" >3420</text>
<line x1="1364.7" y1="870.6" x2="1378" y2="870.6" stroke="#000" stroke-width="4.4" stroke-linecap="butt" />
<text x="1349.2" y="883" font-size="40.3" text-anchor="end" fill="#000" >3230</text>
<line x1="1364.7" y1="789.2" x2="1371.1" y2="789.2" stroke="#000" stroke-width="4.4" stroke-linecap="butt" />
<line x1="1364.7" y1="843.4" x2="1371.1" y2="843.4" stroke="#000" stroke-width="4.4" stroke-linecap="butt" />
<line x1="1387" y1="848.1" x2="1476.2" y2="848.1" stroke="#f00a0a" stroke-width="5" stroke-linecap="round" />
<use href="#gf" transform="translate(1490.3,862.5)" fill="#000" stroke="#000"/>
<text x="1511.4" y="872.7" font-size="27" text-anchor="start">total</text>
<line x1="1477.8" y1="1003.5" x2="1477.8" y2="990.5" stroke="#000" stroke-width="4.6" stroke-linecap="butt" />
<line x1="1591" y1="1003.5" x2="1591" y2="996.9" stroke="#000" stroke-width="4.6" stroke-linecap="butt" />
<line x1="1704.2" y1="1003.5" x2="1704.2" y2="990.5" stroke="#000" stroke-width="4.6" stroke-linecap="butt" />
<line x1="1817.4" y1="1003.5" x2="1817.4" y2="996.9" stroke="#000" stroke-width="4.6" stroke-linecap="butt" />
<line x1="1930.6" y1="1003.5" x2="1930.6" y2="990.5" stroke="#000" stroke-width="4.6" stroke-linecap="butt" />
<line x1="1364.7" y1="934.1" x2="1378" y2="934.1" stroke="#000" stroke-width="4.4" stroke-linecap="butt" />
<text x="1349.2" y="946.5" font-size="40.3" text-anchor="end" fill="#000" >0.26</text>
<line x1="1364.7" y1="987.4" x2="1378" y2="987.4" stroke="#000" stroke-width="4.4" stroke-linecap="butt" />
<text x="1349.2" y="999.8" font-size="40.3" text-anchor="end" fill="#000" >0.00</text>
<line x1="1364.7" y1="907.2" x2="1371.1" y2="907.2" stroke="#000" stroke-width="4.4" stroke-linecap="butt" />
<line x1="1364.7" y1="961" x2="1371.1" y2="961" stroke="#000" stroke-width="4.4" stroke-linecap="butt" />
<line x1="1387.9" y1="970" x2="1477.1" y2="970" stroke="#158a15" stroke-width="5" stroke-linecap="round" />
<use href="#gf" transform="translate(1491.2,984.2)" fill="#000" stroke="#000"/>
<text x="1512.3" y="994.4" font-size="27" text-anchor="start">grad</text>
<line x1="1477.8" y1="1112.5" x2="1477.8" y2="1099.5" stroke="#000" stroke-width="4.6" stroke-linecap="butt" />
<line x1="1591" y1="1112.5" x2="1591" y2="1105.9" stroke="#000" stroke-width="4.6" stroke-linecap="butt" />
<line x1="1704.2" y1="1112.5" x2="1704.2" y2="1099.5" stroke="#000" stroke-width="4.6" stroke-linecap="butt" />
<line x1="1817.4" y1="1112.5" x2="1817.4" y2="1105.9" stroke="#000" stroke-width="4.6" stroke-linecap="butt" />
<line x1="1930.6" y1="1112.5" x2="1930.6" y2="1099.5" stroke="#000" stroke-width="4.6" stroke-linecap="butt" />
<line x1="1364.7" y1="1023.2" x2="1378" y2="1023.2" stroke="#000" stroke-width="4.4" stroke-linecap="butt" />
<text x="1349.2" y="1035.6" font-size="40.3" text-anchor="end" fill="#000" >232</text>
<line x1="1364.7" y1="1077.9" x2="1378" y2="1077.9" stroke="#000" stroke-width="4.4" stroke-linecap="butt" />
<text x="1349.2" y="1090.3" font-size="40.3" text-anchor="end" fill="#000" >174</text>
<line x1="1364.7" y1="1050.5" x2="1371.1" y2="1050.5" stroke="#000" stroke-width="4.4" stroke-linecap="butt" />
<line x1="1364.7" y1="1105" x2="1371.1" y2="1105" stroke="#000" stroke-width="4.4" stroke-linecap="butt" />
<line x1="1389" y1="1033.8" x2="1478.2" y2="1033.8" stroke="#0c0ce0" stroke-width="5" stroke-linecap="round" />
<use href="#gf" transform="translate(1492.3,1048.5)" fill="#000" stroke="#000"/>
<text x="1513.4" y="1058.7" font-size="27" text-anchor="start">Landau</text>
<line x1="1477.8" y1="1221.5" x2="1477.8" y2="1208.5" stroke="#000" stroke-width="4.6" stroke-linecap="butt" />
<line x1="1591" y1="1221.5" x2="1591" y2="1214.9" stroke="#000" stroke-width="4.6" stroke-linecap="butt" />
<line x1="1704.2" y1="1221.5" x2="1704.2" y2="1208.5" stroke="#000" stroke-width="4.6" stroke-linecap="butt" />
<line x1="1817.4" y1="1221.5" x2="1817.4" y2="1214.9" stroke="#000" stroke-width="4.6" stroke-linecap="butt" />
<line x1="1930.6" y1="1221.5" x2="1930.6" y2="1208.5" stroke="#000" stroke-width="4.6" stroke-linecap="butt" />
<line x1="1364.7" y1="1130" x2="1378" y2="1130" stroke="#000" stroke-width="4.4" stroke-linecap="butt" />
<text x="1349.2" y="1142.4" font-size="40.3" text-anchor="end" fill="#000" >0</text>
<line x1="1364.7" y1="1185.1" x2="1378" y2="1185.1" stroke="#000" stroke-width="4.4" stroke-linecap="butt" />
<text x="1349.2" y="1197.5" font-size="40.3" text-anchor="end" fill="#000" >−230</text>
<line x1="1364.7" y1="1157.5" x2="1371.1" y2="1157.5" stroke="#000" stroke-width="4.4" stroke-linecap="butt" />
<line x1="1364.7" y1="1212.6" x2="1371.1" y2="1212.6" stroke="#000" stroke-width="4.4" stroke-linecap="butt" />
<line x1="1390.1" y1="1180.5" x2="1479.3" y2="1180.5" stroke="#ee14ee" stroke-width="5" stroke-linecap="round" />
<use href="#gf" transform="translate(1493.4,1195.5)" fill="#000" stroke="#000"/>
<text x="1514.5" y="1205.7" font-size="27" text-anchor="start">electric</text>
<line x1="1477.8" y1="1330.6" x2="1477.8" y2="1317.6" stroke="#000" stroke-width="4.6" stroke-linecap="butt" />
<line x1="1591" y1="1330.6" x2="1591" y2="1324" stroke="#000" stroke-width="4.6" stroke-linecap="butt" />
<line x1="1704.2" y1="1330.6" x2="1704.2" y2="1317.6" stroke="#000" stroke-width="4.6" stroke-linecap="butt" />
<line x1="1817.4" y1="1330.6" x2="1817.4" y2="1324" stroke="#000" stroke-width="4.6" stroke-linecap="butt" />
<line x1="1930.6" y1="1330.6" x2="1930.6" y2="1317.6" stroke="#000" stroke-width="4.6" stroke-linecap="butt" />
<line x1="1364.7" y1="1237.7" x2="1378" y2="1237.7" stroke="#000" stroke-width="4.4" stroke-linecap="butt" />
<text x="1349.2" y="1250.1" font-size="40.3" text-anchor="end" fill="#000" >3350</text>
<line x1="1364.7" y1="1291.1" x2="1378" y2="1291.1" stroke="#000" stroke-width="4.4" stroke-linecap="butt" />
<text x="1349.2" y="1303.5" font-size="40.3" text-anchor="end" fill="#000" >3283</text>
<line x1="1364.7" y1="1264.4" x2="1371.1" y2="1264.4" stroke="#000" stroke-width="4.4" stroke-linecap="butt" />
<line x1="1364.7" y1="1317.8" x2="1371.1" y2="1317.8" stroke="#000" stroke-width="4.4" stroke-linecap="butt" />
<line x1="1390" y1="1283.5" x2="1479.2" y2="1283.5" stroke="#f5820f" stroke-width="5" stroke-linecap="round" />
<use href="#gf" transform="translate(1493.3,1298.5)" fill="#000" stroke="#000"/>
<text x="1514.4" y="1308.7" font-size="27" text-anchor="start">elastic</text>
<text x="1477.8" y="1375" font-size="40" text-anchor="middle" fill="#000" >0</text>
<text x="1704.2" y="1375" font-size="40" text-anchor="middle" fill="#000" >10000</text>
<text x="1930.6" y="1375" font-size="40" text-anchor="middle" fill="#000" >20000</text>
<text x="1704.4" y="1440.5" font-size="40.5" text-anchor="middle" fill="#000" >Time steps</text>
<text x="1231" y="797" font-size="38" text-anchor="middle" fill="#000" >(d)</text>
<use href="#gf" transform="translate(1258.4,1172.4) rotate(-90)" fill="#000" stroke="#000"/>
<text transform="translate(1258.4,1140.6) rotate(-90)" font-size="40" text-anchor="start">(×10<tspan font-size="27" dy="-15">5</tspan><tspan dy="15"> J/m</tspan><tspan font-size="27" dy="-15">3</tspan><tspan dy="15">)</tspan></text>
</svg></body></html>
